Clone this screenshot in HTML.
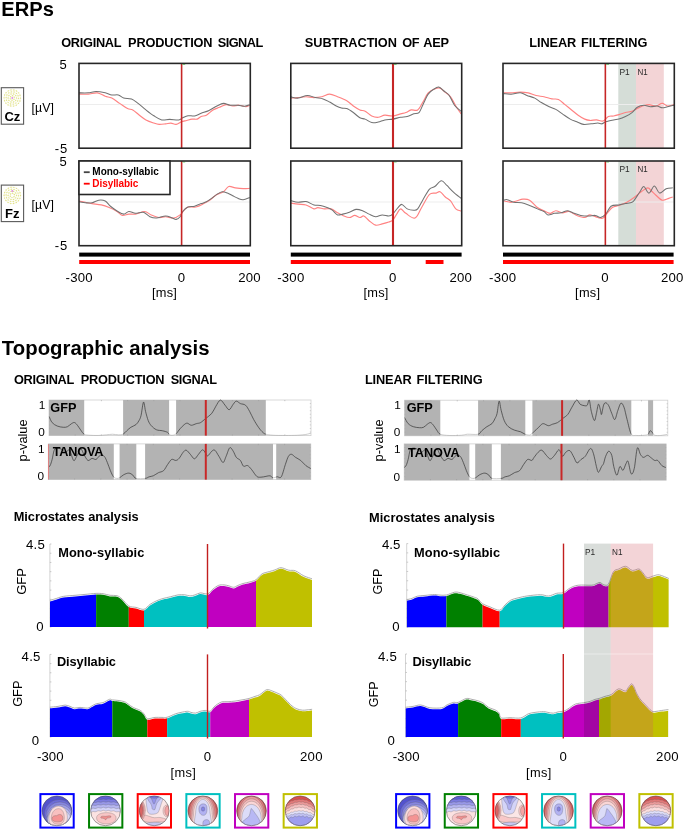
<!DOCTYPE html>
<html><head><meta charset="utf-8"><style>
html,body{margin:0;padding:0;background:#fff;}
body{width:685px;height:830px;overflow:hidden;}
svg{display:block;will-change:transform;}
text{font-family:"Liberation Sans",sans-serif;}
</style></head><body>
<svg width="685" height="830" viewBox="0 0 685 830">
<defs><clipPath id="pvc0"><rect x="49.0" y="398.0" width="35.20" height="39.60"/><rect x="123.1" y="398.0" width="46.00" height="39.60"/><rect x="176.1" y="398.0" width="89.70" height="39.60"/></clipPath><clipPath id="pvc1"><rect x="48.3" y="441.9" width="65.50" height="39.70"/><rect x="119.6" y="441.9" width="16.70" height="39.70"/><rect x="145.1" y="441.9" width="127.90" height="39.70"/><rect x="276.2" y="441.9" width="34.60" height="39.70"/></clipPath><clipPath id="pvc2"><rect x="404.6" y="398.2" width="35.70" height="39.60"/><rect x="478.1" y="398.2" width="47.20" height="39.60"/><rect x="532.4" y="398.2" width="98.90" height="39.60"/><rect x="648.1" y="398.2" width="5.00" height="39.60"/></clipPath><clipPath id="pvc3"><rect x="404.2" y="441.9" width="65.20" height="40.30"/><rect x="475.2" y="441.9" width="16.60" height="40.30"/><rect x="500.9" y="441.9" width="165.30" height="40.30"/></clipPath><clipPath id="msc0"><rect x="49.9" y="539.0" width="46.20" height="93.0"/></clipPath><clipPath id="msc1"><rect x="96.1" y="539.0" width="32.70" height="93.0"/></clipPath><clipPath id="msc2"><rect x="128.8" y="539.0" width="15.20" height="93.0"/></clipPath><clipPath id="msc3"><rect x="144" y="539.0" width="63.70" height="93.0"/></clipPath><clipPath id="msc4"><rect x="207.7" y="539.0" width="48.30" height="93.0"/></clipPath><clipPath id="msc5"><rect x="256" y="539.0" width="56.00" height="93.0"/></clipPath><clipPath id="msc6"><rect x="49.9" y="649.4" width="62.40" height="92.60000000000002"/></clipPath><clipPath id="msc7"><rect x="112.3" y="649.4" width="35.00" height="92.60000000000002"/></clipPath><clipPath id="msc8"><rect x="147.3" y="649.4" width="19.80" height="92.60000000000002"/></clipPath><clipPath id="msc9"><rect x="167.1" y="649.4" width="43.10" height="92.60000000000002"/></clipPath><clipPath id="msc10"><rect x="210.2" y="649.4" width="38.80" height="92.60000000000002"/></clipPath><clipPath id="msc11"><rect x="249" y="649.4" width="63.10" height="92.60000000000002"/></clipPath><clipPath id="msc12"><rect x="406.7" y="538.6" width="39.70" height="93.60000000000002"/></clipPath><clipPath id="msc13"><rect x="446.4" y="538.6" width="36.20" height="93.60000000000002"/></clipPath><clipPath id="msc14"><rect x="482.6" y="538.6" width="17.10" height="93.60000000000002"/></clipPath><clipPath id="msc15"><rect x="499.7" y="538.6" width="63.80" height="93.60000000000002"/></clipPath><clipPath id="msc16"><rect x="563.5" y="538.6" width="45.10" height="93.60000000000002"/></clipPath><clipPath id="msc17"><rect x="608.6" y="538.6" width="60.20" height="93.60000000000002"/></clipPath><clipPath id="msc18"><rect x="405.5" y="649.0" width="52.60" height="93.0"/></clipPath><clipPath id="msc19"><rect x="458.1" y="649.0" width="43.10" height="93.0"/></clipPath><clipPath id="msc20"><rect x="501.2" y="649.0" width="19.60" height="93.0"/></clipPath><clipPath id="msc21"><rect x="520.8" y="649.0" width="43.00" height="93.0"/></clipPath><clipPath id="msc22"><rect x="563.8" y="649.0" width="35.20" height="93.0"/></clipPath><clipPath id="msc23"><rect x="599" y="649.0" width="69.40" height="93.0"/></clipPath><clipPath id="tclip"><circle cx="0" cy="0" r="14.9"/></clipPath></defs>
<rect width="685" height="830" fill="#fff"/>
<text x="1.24" y="16.00" font-size="20.14" font-weight="bold" textLength="52.61" lengthAdjust="spacing" >ERPs</text>
<text x="61.19" y="46.70" font-size="12.75" font-weight="bold" textLength="60.41" lengthAdjust="spacing" >ORIGINAL</text>
<text x="128.04" y="46.70" font-size="12.75" font-weight="bold" textLength="84.52" lengthAdjust="spacing" >PRODUCTION</text>
<text x="217.72" y="46.70" font-size="12.75" font-weight="bold" textLength="45.57" lengthAdjust="spacing" >SIGNAL</text>
<text x="304.82" y="46.70" font-size="12.75" font-weight="bold" textLength="92.04" lengthAdjust="spacing" >SUBTRACTION</text>
<text x="402.19" y="46.70" font-size="12.75" font-weight="bold" textLength="17.37" lengthAdjust="spacing" >OF</text>
<text x="423.18" y="46.70" font-size="12.75" font-weight="bold" textLength="25.75" lengthAdjust="spacing" >AEP</text>
<text x="529.34" y="46.60" font-size="12.75" font-weight="bold" textLength="46.84" lengthAdjust="spacing" >LINEAR</text>
<text x="581.04" y="46.60" font-size="12.75" font-weight="bold" textLength="66.37" lengthAdjust="spacing" >FILTERING</text>
<rect x="618.3" y="63.4" width="17.7" height="84.79999999999998" fill="#d5ddd7"/>
<rect x="636.0" y="63.4" width="27.8" height="84.79999999999998" fill="#f3d4d6"/>
<text transform="translate(619.41,74.70) scale(0.9153,1)" font-size="9.20" fill="#2a2a2a">P1</text>
<text transform="translate(637.44,74.70) scale(0.8715,1)" font-size="9.20" fill="#2a2a2a">N1</text>
<rect x="618.3" y="161.0" width="17.7" height="84.69999999999999" fill="#d5ddd7"/>
<rect x="636.0" y="161.0" width="27.8" height="84.69999999999999" fill="#f3d4d6"/>
<text transform="translate(619.41,171.60) scale(0.9153,1)" font-size="9.20" fill="#2a2a2a">P1</text>
<text transform="translate(637.44,171.60) scale(0.8715,1)" font-size="9.20" fill="#2a2a2a">N1</text>
<line x1="79.0" y1="104.5" x2="250.3" y2="104.5" stroke="#ededed" stroke-width="1"/>
<line x1="79.0" y1="202.0" x2="250.3" y2="202.0" stroke="#ededed" stroke-width="1"/>
<line x1="290.8" y1="104.5" x2="461.7" y2="104.5" stroke="#ededed" stroke-width="1"/>
<line x1="290.8" y1="202.0" x2="461.7" y2="202.0" stroke="#ededed" stroke-width="1"/>
<line x1="503.0" y1="104.5" x2="674.3" y2="104.5" stroke="#ededed" stroke-width="1"/>
<line x1="503.0" y1="202.0" x2="674.3" y2="202.0" stroke="#ededed" stroke-width="1"/>
<path d="M78.94,94.16 C80.47,94.16 85.07,94.38 88.14,94.16 C91.21,93.94 94.49,92.50 97.34,92.85 C100.19,93.20 102.81,95.39 105.22,96.26 C107.63,97.14 109.38,96.92 111.79,98.10 C114.20,99.28 117.04,101.61 119.67,103.36 C122.30,105.11 125.36,107.52 127.55,108.61 C129.74,109.70 130.84,108.84 132.81,109.93 C134.78,111.03 137.19,113.52 139.38,115.18 C141.57,116.84 143.54,118.59 145.95,119.91 C148.36,121.22 151.64,122.32 153.83,123.07 C156.02,123.81 157.12,124.25 159.09,124.38 C161.06,124.51 163.69,124.07 165.66,123.85 C167.63,123.63 169.16,122.98 170.91,123.07 C172.66,123.16 174.42,124.60 176.17,124.38 C177.92,124.16 179.67,122.41 181.42,121.75 C183.17,121.09 184.93,120.88 186.68,120.44 C188.43,120.00 190.18,119.34 191.93,119.12 C193.68,118.90 195.66,119.56 197.19,119.12 C198.72,118.68 199.60,117.16 201.13,116.50 C202.66,115.84 204.42,116.28 206.39,115.18 C208.36,114.09 210.77,111.24 212.96,109.93 C215.15,108.62 217.34,108.18 219.53,107.30 C221.72,106.42 223.90,104.89 226.09,104.67 C228.28,104.45 230.47,105.90 232.66,105.99 C234.85,106.08 237.04,105.07 239.23,105.20 C241.42,105.33 244.05,106.77 245.80,106.77 C247.55,106.77 249.08,105.46 249.74,105.20" fill="none" stroke="#ff8282" stroke-width="1.15"/>
<path d="M78.94,92.85 C80.47,92.85 85.29,93.07 88.14,92.85 C90.99,92.63 93.17,91.53 96.02,91.53 C98.87,91.53 102.59,92.28 105.22,92.85 C107.85,93.42 109.60,94.60 111.79,94.95 C113.98,95.30 116.39,94.43 118.36,94.95 C120.33,95.47 121.42,97.44 123.61,98.10 C125.80,98.76 129.09,98.01 131.50,98.89 C133.91,99.77 135.66,101.52 138.07,103.36 C140.48,105.20 143.32,107.87 145.95,109.93 C148.58,111.99 151.20,114.05 153.83,115.71 C156.46,117.37 159.09,119.30 161.72,119.91 C164.35,120.52 166.75,119.39 169.60,119.39 C172.45,119.39 176.61,120.17 178.80,119.91 C180.99,119.65 181.21,118.51 182.74,117.81 C184.27,117.11 186.02,116.02 187.99,115.71 C189.96,115.40 192.37,116.36 194.56,115.97 C196.75,115.58 198.72,114.26 201.13,113.34 C203.54,112.42 206.38,111.68 209.01,110.45 C211.64,109.22 214.49,107.17 216.90,105.99 C219.31,104.81 221.28,103.49 223.47,103.36 C225.66,103.23 227.63,104.89 230.04,105.20 C232.45,105.51 235.51,105.03 237.92,105.20 C240.33,105.38 242.52,106.34 244.49,106.25 C246.46,106.16 248.87,104.93 249.74,104.67" fill="none" stroke="#727272" stroke-width="1.05"/>
<path d="M78.94,200.99 C80.03,201.21 83.32,201.86 85.51,202.30 C87.70,202.74 89.45,203.17 92.08,203.61 C94.71,204.05 98.43,204.27 101.28,204.93 C104.13,205.59 106.53,206.46 109.16,207.55 C111.79,208.65 114.85,210.19 117.04,211.50 C119.23,212.81 120.33,215.00 122.30,215.44 C124.27,215.88 126.68,214.34 128.87,214.12 C131.06,213.90 132.81,214.56 135.44,214.12 C138.07,213.68 142.01,211.37 144.64,211.50 C147.27,211.63 148.79,213.90 151.20,214.91 C153.61,215.92 156.68,217.23 159.09,217.54 C161.50,217.85 163.25,216.66 165.66,216.75 C168.07,216.84 171.13,218.38 173.54,218.07 C175.95,217.76 178.36,216.22 180.11,214.91 C181.86,213.59 182.74,211.49 184.05,210.18 C185.36,208.87 186.02,207.56 187.99,207.03 C189.96,206.50 193.25,207.60 195.88,207.03 C198.51,206.46 201.35,204.84 203.76,203.61 C206.17,202.38 208.14,201.20 210.33,199.67 C212.52,198.14 214.71,195.73 216.90,194.42 C219.09,193.11 221.50,193.10 223.47,191.79 C225.44,190.47 226.75,187.19 228.72,186.53 C230.69,185.87 232.88,187.50 235.29,187.85 C237.70,188.20 240.77,188.55 243.18,188.64 C245.59,188.73 248.65,188.41 249.74,188.37" fill="none" stroke="#ff8282" stroke-width="1.15"/>
<path d="M78.94,201.77 C80.03,201.94 83.32,202.64 85.51,202.82 C87.70,203.00 89.89,203.26 92.08,202.82 C94.27,202.38 96.46,200.50 98.65,200.20 C100.84,199.89 103.25,199.98 105.22,200.99 C107.19,202.00 108.50,204.58 110.47,206.24 C112.44,207.90 114.85,209.66 117.04,210.97 C119.23,212.28 121.64,214.03 123.61,214.12 C125.58,214.21 126.90,211.63 128.87,211.50 C130.84,211.37 133.03,213.21 135.44,213.34 C137.85,213.47 140.91,211.71 143.32,212.28 C145.73,212.85 147.70,215.78 149.89,216.75 C152.08,217.72 153.83,218.20 156.46,218.07 C159.09,217.94 163.03,215.96 165.66,215.96 C168.29,215.96 170.48,217.50 172.23,218.07 C173.98,218.64 174.86,219.60 176.17,219.38 C177.48,219.16 179.02,218.06 180.11,216.75 C181.21,215.44 181.43,213.12 182.74,211.50 C184.05,209.88 186.02,207.91 187.99,207.03 C189.96,206.15 192.37,206.81 194.56,206.24 C196.75,205.67 199.16,204.36 201.13,203.61 C203.10,202.87 204.64,202.65 206.39,201.77 C208.14,200.90 209.89,199.59 211.64,198.36 C213.39,197.14 215.15,195.51 216.90,194.42 C218.65,193.32 220.40,192.01 222.15,191.79 C223.90,191.57 225.66,192.44 227.41,193.10 C229.16,193.76 230.91,194.85 232.66,195.73 C234.41,196.61 236.17,197.70 237.92,198.36 C239.67,199.02 241.21,199.80 243.18,199.67 C245.15,199.54 248.65,197.92 249.74,197.57" fill="none" stroke="#727272" stroke-width="1.05"/>
<path d="M290.78,98.10 C292.01,98.01 295.60,97.80 298.14,97.58 C300.68,97.36 303.39,96.79 306.02,96.79 C308.65,96.79 311.28,97.58 313.91,97.58 C316.54,97.58 319.16,97.36 321.79,96.79 C324.42,96.22 327.04,94.16 329.67,94.16 C332.30,94.16 334.70,95.70 337.55,96.79 C340.40,97.89 344.12,99.20 346.75,100.73 C349.38,102.26 351.13,104.46 353.32,105.99 C355.51,107.52 357.92,109.06 359.89,109.93 C361.86,110.81 363.18,110.23 365.15,111.24 C367.12,112.25 369.53,114.96 371.72,115.97 C373.91,116.98 376.09,117.41 378.28,117.28 C380.47,117.15 382.44,115.40 384.85,115.18 C387.26,114.96 390.11,116.19 392.74,115.97 C395.37,115.75 398.43,114.44 400.62,113.87 C402.81,113.30 404.13,113.21 405.88,112.55 C407.63,111.89 409.16,110.37 411.13,109.93 C413.10,109.49 415.73,111.25 417.70,109.93 C419.67,108.62 421.21,104.89 422.96,102.04 C424.71,99.19 426.24,95.04 428.21,92.85 C430.18,90.66 432.81,89.70 434.78,88.91 C436.75,88.12 438.29,87.55 440.04,88.12 C441.79,88.69 443.54,90.88 445.29,92.32 C447.04,93.76 448.80,94.51 450.55,96.79 C452.30,99.07 454.05,103.14 455.80,105.99 C457.55,108.84 460.18,112.56 461.06,113.87" fill="none" stroke="#ff8282" stroke-width="1.15"/>
<path d="M290.78,96.79 C292.01,97.01 295.38,98.32 298.14,98.10 C300.90,97.88 304.49,95.56 307.34,95.47 C310.19,95.38 312.59,97.01 315.22,97.58 C317.85,98.15 320.69,98.15 323.10,98.89 C325.51,99.63 327.48,100.86 329.67,102.04 C331.86,103.22 334.27,104.98 336.24,105.99 C338.21,107.00 339.75,107.65 341.50,108.09 C343.25,108.53 344.78,107.87 346.75,108.61 C348.72,109.35 351.13,111.02 353.32,112.55 C355.51,114.08 357.92,116.72 359.89,117.81 C361.86,118.91 363.18,118.33 365.15,119.12 C367.12,119.91 369.53,122.06 371.72,122.54 C373.91,123.02 376.09,122.45 378.28,122.01 C380.47,121.57 382.44,120.39 384.85,119.91 C387.26,119.43 390.11,119.56 392.74,119.12 C395.37,118.68 398.21,117.72 400.62,117.28 C403.03,116.84 405.00,117.07 407.19,116.50 C409.38,115.93 411.79,114.53 413.76,113.87 C415.73,113.21 417.48,114.08 419.01,112.55 C420.54,111.02 421.43,107.73 422.96,104.67 C424.49,101.61 426.46,96.70 428.21,94.16 C429.96,91.62 431.72,90.61 433.47,89.43 C435.22,88.25 436.97,86.81 438.72,87.07 C440.47,87.33 442.23,89.61 443.98,91.01 C445.73,92.41 447.48,93.11 449.23,95.47 C450.98,97.83 452.52,102.57 454.49,105.20 C456.46,107.83 459.97,110.23 461.06,111.24" fill="none" stroke="#727272" stroke-width="1.05"/>
<path d="M290.78,203.09 C292.01,203.26 295.60,203.83 298.14,204.14 C300.68,204.45 303.39,204.14 306.02,204.93 C308.65,205.72 311.94,208.43 313.91,208.87 C315.88,209.31 316.10,207.55 317.85,207.55 C319.60,207.55 322.23,208.65 324.42,208.87 C326.61,209.09 328.80,208.21 330.99,208.87 C333.18,209.53 335.58,211.72 337.55,212.81 C339.52,213.91 340.84,214.65 342.81,215.44 C344.78,216.23 347.41,217.54 349.38,217.54 C351.35,217.54 352.89,215.44 354.64,215.44 C356.39,215.44 358.36,217.45 359.89,217.54 C361.42,217.63 362.30,215.44 363.83,215.96 C365.36,216.49 367.12,219.16 369.09,220.69 C371.06,222.22 373.47,224.63 375.66,225.16 C377.85,225.69 380.04,224.38 382.23,223.85 C384.42,223.32 387.05,222.62 388.80,222.01 C390.55,221.40 391.43,221.48 392.74,220.17 C394.05,218.85 395.37,216.00 396.68,214.12 C397.99,212.24 399.09,209.00 400.62,208.87 C402.15,208.74 403.47,211.81 405.88,213.34 C408.29,214.87 412.44,219.03 415.07,218.07 C417.70,217.10 419.23,211.49 421.64,207.55 C424.05,203.61 427.12,196.83 429.53,194.42 C431.94,192.01 434.34,193.54 436.09,193.10 C437.84,192.66 438.51,191.13 440.04,191.79 C441.57,192.45 443.54,195.51 445.29,197.04 C447.04,198.57 448.80,199.02 450.55,200.99 C452.30,202.96 454.05,207.21 455.80,208.87 C457.55,210.53 460.18,210.62 461.06,210.97" fill="none" stroke="#ff8282" stroke-width="1.15"/>
<path d="M290.78,200.46 C292.01,200.77 295.60,202.12 298.14,202.30 C300.68,202.48 303.39,201.07 306.02,201.51 C308.65,201.95 311.50,204.27 313.91,204.93 C316.32,205.59 318.28,205.01 320.47,205.45 C322.66,205.89 325.07,206.76 327.04,207.55 C329.01,208.34 330.55,208.95 332.30,210.18 C334.05,211.41 335.80,214.25 337.55,214.91 C339.30,215.57 340.84,214.56 342.81,214.12 C344.78,213.68 347.19,213.07 349.38,212.28 C351.57,211.49 353.76,209.65 355.95,209.39 C358.14,209.13 360.33,209.92 362.52,210.71 C364.71,211.50 366.90,213.11 369.09,214.12 C371.28,215.13 373.47,216.62 375.66,216.75 C377.85,216.88 380.04,215.04 382.23,214.91 C384.42,214.78 387.05,216.09 388.80,215.96 C390.55,215.83 391.21,215.52 392.74,214.12 C394.27,212.72 396.46,209.17 397.99,207.55 C399.52,205.93 400.40,204.18 401.93,204.40 C403.46,204.62 405.22,207.91 407.19,208.87 C409.16,209.83 412.01,210.18 413.76,210.18 C415.51,210.18 416.17,210.62 417.70,208.87 C419.23,207.12 420.99,202.95 422.96,199.67 C424.93,196.38 427.56,191.35 429.53,189.16 C431.50,186.97 432.81,187.93 434.78,186.53 C436.75,185.13 439.38,180.97 441.35,180.75 C443.32,180.53 444.64,183.38 446.61,185.22 C448.58,187.06 450.77,189.60 453.18,191.79 C455.59,193.98 459.75,197.27 461.06,198.36" fill="none" stroke="#727272" stroke-width="1.05"/>
<path d="M503.78,92.85 C505.01,92.85 508.38,92.98 511.14,92.85 C513.90,92.72 517.49,92.06 520.34,92.06 C523.19,92.06 525.59,92.28 528.22,92.85 C530.85,93.42 533.47,94.81 536.10,95.47 C538.73,96.13 541.36,96.22 543.99,96.79 C546.62,97.36 549.46,98.45 551.87,98.89 C554.28,99.33 556.25,98.46 558.44,99.42 C560.63,100.38 562.82,102.92 565.01,104.67 C567.20,106.42 569.39,108.18 571.58,109.93 C573.77,111.68 575.96,113.65 578.15,115.18 C580.34,116.71 582.75,118.24 584.72,119.12 C586.69,120.00 588.00,120.31 589.97,120.44 C591.94,120.57 594.35,119.82 596.54,119.91 C598.73,120.00 601.14,121.53 603.11,120.96 C605.08,120.39 606.61,117.33 608.36,116.50 C610.11,115.67 611.87,116.28 613.62,115.97 C615.37,115.66 616.91,115.23 618.88,114.66 C620.85,114.09 623.26,113.12 625.45,112.55 C627.64,111.98 630.04,111.90 632.01,111.24 C633.98,110.58 635.52,109.48 637.27,108.61 C639.02,107.73 640.56,106.65 642.53,105.99 C644.50,105.33 646.90,104.67 649.09,104.67 C651.28,104.67 653.47,106.21 655.66,105.99 C657.85,105.77 660.26,103.36 662.23,103.36 C664.20,103.36 665.52,105.77 667.49,105.99 C669.46,106.21 672.96,104.89 674.06,104.67" fill="none" stroke="#ff8282" stroke-width="1.15"/>
<path d="M503.78,93.64 C505.01,93.73 508.38,94.29 511.14,94.16 C513.90,94.03 517.71,92.63 520.34,92.85 C522.97,93.07 524.50,94.59 526.91,95.47 C529.32,96.34 532.38,96.92 534.79,98.10 C537.20,99.28 538.95,101.12 541.36,102.57 C543.77,104.01 546.83,105.63 549.24,106.77 C551.65,107.91 553.62,108.22 555.81,109.40 C558.00,110.58 559.97,112.25 562.38,113.87 C564.79,115.49 567.85,117.81 570.26,119.12 C572.67,120.43 574.64,120.87 576.83,121.75 C579.02,122.63 580.99,124.03 583.40,124.38 C585.81,124.73 588.87,124.07 591.28,123.85 C593.69,123.63 596.10,123.07 597.85,123.07 C599.60,123.07 600.48,124.07 601.80,123.85 C603.12,123.63 603.77,122.41 605.74,121.75 C607.71,121.09 611.43,120.35 613.62,119.91 C615.81,119.47 616.91,119.69 618.88,119.12 C620.85,118.55 623.26,117.59 625.45,116.50 C627.64,115.41 630.04,114.08 632.01,112.55 C633.98,111.02 635.30,108.52 637.27,107.30 C639.24,106.08 641.65,105.29 643.84,105.20 C646.03,105.11 648.22,106.64 650.41,106.77 C652.60,106.90 655.01,105.81 656.98,105.99 C658.95,106.16 660.48,107.69 662.23,107.82 C663.98,107.95 665.52,107.21 667.49,106.77 C669.46,106.33 672.96,105.46 674.06,105.20" fill="none" stroke="#727272" stroke-width="1.05"/>
<path d="M503.78,200.99 C505.01,201.21 509.04,202.30 511.14,202.30 C513.24,202.30 514.42,201.52 516.39,200.99 C518.36,200.47 520.77,199.28 522.96,199.15 C525.15,199.02 527.12,198.80 529.53,200.20 C531.94,201.60 534.79,205.67 537.42,207.55 C540.05,209.43 543.11,210.53 545.30,211.50 C547.49,212.47 548.80,213.47 550.55,213.34 C552.30,213.21 553.84,210.80 555.81,210.71 C557.78,210.62 560.19,212.68 562.38,212.81 C564.57,212.94 566.54,211.06 568.95,211.50 C571.36,211.94 574.20,214.43 576.83,215.44 C579.46,216.45 582.53,217.63 584.72,217.54 C586.91,217.45 587.78,214.91 589.97,214.91 C592.16,214.91 595.66,217.01 597.85,217.54 C600.04,218.07 601.58,218.77 603.11,218.07 C604.64,217.37 605.52,215.09 607.05,213.34 C608.58,211.59 610.34,208.87 612.31,207.55 C614.28,206.24 616.47,206.32 618.88,205.45 C621.29,204.57 624.13,203.70 626.76,202.30 C629.39,200.90 632.23,198.79 634.64,197.04 C637.05,195.29 639.02,193.32 641.21,191.79 C643.40,190.26 646.03,187.94 647.78,187.85 C649.53,187.76 650.41,190.08 651.72,191.26 C653.03,192.44 653.91,193.45 655.66,194.94 C657.41,196.43 660.04,199.63 662.23,200.20 C664.42,200.77 667.05,198.89 668.80,198.36 C670.55,197.83 672.08,197.26 672.74,197.04" fill="none" stroke="#ff8282" stroke-width="1.15"/>
<path d="M503.78,200.20 C504.35,200.11 505.53,199.32 507.20,199.67 C508.87,200.02 511.36,201.78 513.77,202.30 C516.18,202.83 519.02,202.29 521.65,202.82 C524.28,203.34 526.90,204.44 529.53,205.45 C532.16,206.46 535.01,207.86 537.42,208.87 C539.83,209.88 542.24,210.49 543.99,211.50 C545.74,212.51 546.18,214.60 547.93,214.91 C549.68,215.22 552.31,213.69 554.50,213.34 C556.69,212.99 558.88,213.25 561.07,212.81 C563.26,212.37 565.45,210.62 567.64,210.71 C569.83,210.80 572.01,212.55 574.20,213.34 C576.39,214.13 578.36,215.00 580.77,215.44 C583.18,215.88 586.25,215.96 588.66,215.96 C591.07,215.96 593.26,215.18 595.23,215.44 C597.20,215.70 598.73,217.76 600.48,217.54 C602.23,217.32 603.99,216.00 605.74,214.12 C607.49,212.24 608.80,207.77 610.99,206.24 C613.18,204.71 616.47,205.37 618.88,204.93 C621.29,204.49 623.26,204.05 625.45,203.61 C627.64,203.17 630.48,202.96 632.01,202.30 C633.54,201.64 633.33,201.42 634.64,199.67 C635.95,197.92 638.37,193.98 639.90,191.79 C641.43,189.60 642.31,186.31 643.84,186.53 C645.37,186.75 647.34,193.19 649.09,193.10 C650.84,193.01 652.60,186.01 654.35,186.01 C656.10,186.01 657.64,192.66 659.61,193.10 C661.58,193.54 663.99,189.51 666.18,188.64 C668.37,187.76 671.65,187.98 672.74,187.85" fill="none" stroke="#727272" stroke-width="1.05"/>
<line x1="181.6" y1="63.4" x2="181.6" y2="148.2" stroke="#c62626" stroke-width="1.6"/>
<line x1="182.4" y1="64.5" x2="185.2" y2="64.5" stroke="#7ad87a" stroke-width="0.9"/>
<rect x="79.0" y="63.4" width="171.3" height="84.8" fill="none" stroke="#262626" stroke-width="1.6"/>
<line x1="181.6" y1="161.0" x2="181.6" y2="245.7" stroke="#c62626" stroke-width="1.6"/>
<line x1="182.4" y1="162.1" x2="185.2" y2="162.1" stroke="#7ad87a" stroke-width="0.9"/>
<rect x="79.0" y="161.0" width="171.3" height="84.7" fill="none" stroke="#262626" stroke-width="1.6"/>
<line x1="393.0" y1="63.4" x2="393.0" y2="148.2" stroke="#c62626" stroke-width="2.1"/>
<line x1="393.8" y1="64.5" x2="396.6" y2="64.5" stroke="#7ad87a" stroke-width="0.9"/>
<rect x="290.8" y="63.4" width="170.9" height="84.8" fill="none" stroke="#262626" stroke-width="1.6"/>
<line x1="393.0" y1="161.0" x2="393.0" y2="245.7" stroke="#c62626" stroke-width="2.1"/>
<line x1="393.8" y1="162.1" x2="396.6" y2="162.1" stroke="#7ad87a" stroke-width="0.9"/>
<rect x="290.8" y="161.0" width="170.9" height="84.7" fill="none" stroke="#262626" stroke-width="1.6"/>
<line x1="605.35" y1="63.4" x2="605.35" y2="148.2" stroke="#c62626" stroke-width="1.6"/>
<line x1="606.15" y1="64.5" x2="608.95" y2="64.5" stroke="#7ad87a" stroke-width="0.9"/>
<rect x="503.0" y="63.4" width="171.3" height="84.8" fill="none" stroke="#262626" stroke-width="1.6"/>
<line x1="605.35" y1="161.0" x2="605.35" y2="245.7" stroke="#c62626" stroke-width="1.6"/>
<line x1="606.15" y1="162.1" x2="608.95" y2="162.1" stroke="#7ad87a" stroke-width="0.9"/>
<rect x="503.0" y="161.0" width="171.3" height="84.7" fill="none" stroke="#262626" stroke-width="1.6"/>
<rect x="79" y="161.0" width="91" height="33.5" fill="#fff" stroke="#262626" stroke-width="1.6"/>
<line x1="83.8" y1="172.2" x2="89.7" y2="172.2" stroke="#444" stroke-width="1.8"/>
<line x1="83.8" y1="183.7" x2="89.7" y2="183.7" stroke="#ff0000" stroke-width="1.8"/>
<text x="92.33" y="175.00" font-size="10.00" font-weight="bold" textLength="66.45" lengthAdjust="spacing" >Mono-syllabic</text>
<text x="92.33" y="187.40" font-size="10.00" font-weight="bold" fill="#ff0000" textLength="45.97" lengthAdjust="spacing" >Disyllabic</text>
<text x="59.38" y="68.60" font-size="13.00" >5</text>
<text x="54.71" y="153.10" font-size="13.00" textLength="12.43" lengthAdjust="spacing" >-5</text>
<text x="59.38" y="165.80" font-size="13.00" >5</text>
<text x="54.71" y="250.10" font-size="13.00" textLength="12.43" lengthAdjust="spacing" >-5</text>
<rect x="1.3" y="87.7" width="22.3" height="36.5" fill="#fff" stroke="#5a5a5a" stroke-width="1.1"/><circle cx="12.30" cy="98.00" r="2.2" fill="none" stroke="#f2f2d0" stroke-width="0.6"/><circle cx="12.30" cy="98.00" r="4.2" fill="none" stroke="#f2f2d0" stroke-width="0.6"/><circle cx="12.30" cy="98.00" r="6.2" fill="none" stroke="#f2f2d0" stroke-width="0.6"/><circle cx="12.30" cy="98.00" r="8.2" fill="none" stroke="#f2f2d0" stroke-width="0.6"/><circle cx="14.04" cy="99.35" r="0.7" fill="#e2e28a"/><circle cx="12.00" cy="100.18" r="0.7" fill="#e2e28a"/><circle cx="10.26" cy="98.83" r="0.7" fill="#e2e28a"/><circle cx="10.56" cy="96.65" r="0.7" fill="#e2e28a"/><circle cx="12.60" cy="95.82" r="0.7" fill="#e2e28a"/><circle cx="14.34" cy="97.17" r="0.7" fill="#e2e28a"/><circle cx="13.58" cy="102.00" r="0.7" fill="#e2e28a"/><circle cx="10.99" cy="101.99" r="0.7" fill="#e2e28a"/><circle cx="8.89" cy="100.46" r="0.7" fill="#e2e28a"/><circle cx="8.10" cy="97.99" r="0.7" fill="#e2e28a"/><circle cx="8.91" cy="95.52" r="0.7" fill="#e2e28a"/><circle cx="11.02" cy="94.00" r="0.7" fill="#e2e28a"/><circle cx="13.61" cy="94.01" r="0.7" fill="#e2e28a"/><circle cx="15.71" cy="95.54" r="0.7" fill="#e2e28a"/><circle cx="16.50" cy="98.01" r="0.7" fill="#e2e28a"/><circle cx="15.69" cy="100.48" r="0.7" fill="#e2e28a"/><circle cx="10.53" cy="103.94" r="0.7" fill="#e2e28a"/><circle cx="8.13" cy="102.59" r="0.7" fill="#e2e28a"/><circle cx="6.55" cy="100.32" r="0.7" fill="#e2e28a"/><circle cx="6.11" cy="97.60" r="0.7" fill="#e2e28a"/><circle cx="6.90" cy="94.95" r="0.7" fill="#e2e28a"/><circle cx="8.76" cy="92.91" r="0.7" fill="#e2e28a"/><circle cx="11.31" cy="91.88" r="0.7" fill="#e2e28a"/><circle cx="14.07" cy="92.06" r="0.7" fill="#e2e28a"/><circle cx="16.47" cy="93.41" r="0.7" fill="#e2e28a"/><circle cx="18.05" cy="95.68" r="0.7" fill="#e2e28a"/><circle cx="18.49" cy="98.40" r="0.7" fill="#e2e28a"/><circle cx="17.70" cy="101.05" r="0.7" fill="#e2e28a"/><circle cx="15.84" cy="103.09" r="0.7" fill="#e2e28a"/><circle cx="13.29" cy="104.12" r="0.7" fill="#e2e28a"/><circle cx="5.93" cy="103.17" r="0.7" fill="#e2e28a"/><circle cx="4.55" cy="100.68" r="0.7" fill="#e2e28a"/><circle cx="4.10" cy="97.86" r="0.7" fill="#e2e28a"/><circle cx="4.64" cy="95.07" r="0.7" fill="#e2e28a"/><circle cx="6.11" cy="92.63" r="0.7" fill="#e2e28a"/><circle cx="8.32" cy="90.83" r="0.7" fill="#e2e28a"/><circle cx="11.01" cy="89.90" r="0.7" fill="#e2e28a"/><circle cx="13.86" cy="89.95" r="0.7" fill="#e2e28a"/><circle cx="16.52" cy="90.97" r="0.7" fill="#e2e28a"/><circle cx="18.67" cy="92.83" r="0.7" fill="#e2e28a"/><circle cx="20.05" cy="95.32" r="0.7" fill="#e2e28a"/><circle cx="20.50" cy="98.14" r="0.7" fill="#e2e28a"/><circle cx="19.96" cy="100.93" r="0.7" fill="#e2e28a"/><circle cx="18.49" cy="103.37" r="0.7" fill="#e2e28a"/><circle cx="16.28" cy="105.17" r="0.7" fill="#e2e28a"/><circle cx="13.59" cy="106.10" r="0.7" fill="#e2e28a"/><circle cx="10.74" cy="106.05" r="0.7" fill="#e2e28a"/><circle cx="8.08" cy="105.03" r="0.7" fill="#e2e28a"/><circle cx="12.30" cy="98.00" r="0.95" fill="#e38de8"/><text x="4.42" y="120.70" font-size="13.00" font-weight="bold" >Cz</text>
<rect x="1.3" y="185.1" width="22.3" height="36.5" fill="#fff" stroke="#5a5a5a" stroke-width="1.1"/><circle cx="12.30" cy="195.40" r="2.2" fill="none" stroke="#f2f2d0" stroke-width="0.6"/><circle cx="12.30" cy="195.40" r="4.2" fill="none" stroke="#f2f2d0" stroke-width="0.6"/><circle cx="12.30" cy="195.40" r="6.2" fill="none" stroke="#f2f2d0" stroke-width="0.6"/><circle cx="12.30" cy="195.40" r="8.2" fill="none" stroke="#f2f2d0" stroke-width="0.6"/><circle cx="14.04" cy="196.75" r="0.7" fill="#e2e28a"/><circle cx="12.00" cy="197.58" r="0.7" fill="#e2e28a"/><circle cx="10.26" cy="196.23" r="0.7" fill="#e2e28a"/><circle cx="10.56" cy="194.05" r="0.7" fill="#e2e28a"/><circle cx="12.60" cy="193.22" r="0.7" fill="#e2e28a"/><circle cx="14.34" cy="194.57" r="0.7" fill="#e2e28a"/><circle cx="13.58" cy="199.40" r="0.7" fill="#e2e28a"/><circle cx="10.99" cy="199.39" r="0.7" fill="#e2e28a"/><circle cx="8.89" cy="197.86" r="0.7" fill="#e2e28a"/><circle cx="8.10" cy="195.39" r="0.7" fill="#e2e28a"/><circle cx="8.91" cy="192.92" r="0.7" fill="#e2e28a"/><circle cx="11.02" cy="191.40" r="0.7" fill="#e2e28a"/><circle cx="13.61" cy="191.41" r="0.7" fill="#e2e28a"/><circle cx="15.71" cy="192.94" r="0.7" fill="#e2e28a"/><circle cx="16.50" cy="195.41" r="0.7" fill="#e2e28a"/><circle cx="15.69" cy="197.88" r="0.7" fill="#e2e28a"/><circle cx="10.53" cy="201.34" r="0.7" fill="#e2e28a"/><circle cx="8.13" cy="199.99" r="0.7" fill="#e2e28a"/><circle cx="6.55" cy="197.72" r="0.7" fill="#e2e28a"/><circle cx="6.11" cy="195.00" r="0.7" fill="#e2e28a"/><circle cx="6.90" cy="192.35" r="0.7" fill="#e2e28a"/><circle cx="8.76" cy="190.31" r="0.7" fill="#e2e28a"/><circle cx="11.31" cy="189.28" r="0.7" fill="#e2e28a"/><circle cx="14.07" cy="189.46" r="0.7" fill="#e2e28a"/><circle cx="16.47" cy="190.81" r="0.7" fill="#e2e28a"/><circle cx="18.05" cy="193.08" r="0.7" fill="#e2e28a"/><circle cx="18.49" cy="195.80" r="0.7" fill="#e2e28a"/><circle cx="17.70" cy="198.45" r="0.7" fill="#e2e28a"/><circle cx="15.84" cy="200.49" r="0.7" fill="#e2e28a"/><circle cx="13.29" cy="201.52" r="0.7" fill="#e2e28a"/><circle cx="5.93" cy="200.57" r="0.7" fill="#e2e28a"/><circle cx="4.55" cy="198.08" r="0.7" fill="#e2e28a"/><circle cx="4.10" cy="195.26" r="0.7" fill="#e2e28a"/><circle cx="4.64" cy="192.47" r="0.7" fill="#e2e28a"/><circle cx="6.11" cy="190.03" r="0.7" fill="#e2e28a"/><circle cx="8.32" cy="188.23" r="0.7" fill="#e2e28a"/><circle cx="11.01" cy="187.30" r="0.7" fill="#e2e28a"/><circle cx="13.86" cy="187.35" r="0.7" fill="#e2e28a"/><circle cx="16.52" cy="188.37" r="0.7" fill="#e2e28a"/><circle cx="18.67" cy="190.23" r="0.7" fill="#e2e28a"/><circle cx="20.05" cy="192.72" r="0.7" fill="#e2e28a"/><circle cx="20.50" cy="195.54" r="0.7" fill="#e2e28a"/><circle cx="19.96" cy="198.33" r="0.7" fill="#e2e28a"/><circle cx="18.49" cy="200.77" r="0.7" fill="#e2e28a"/><circle cx="16.28" cy="202.57" r="0.7" fill="#e2e28a"/><circle cx="13.59" cy="203.50" r="0.7" fill="#e2e28a"/><circle cx="10.74" cy="203.45" r="0.7" fill="#e2e28a"/><circle cx="8.08" cy="202.43" r="0.7" fill="#e2e28a"/><circle cx="12.30" cy="191.00" r="0.95" fill="#e38de8"/><text x="4.97" y="218.10" font-size="13.00" font-weight="bold" >Fz</text>
<text x="31.51" y="112.20" font-size="12.30" textLength="22.37" lengthAdjust="spacing" >[µV]</text>
<text x="31.51" y="209.40" font-size="12.30" textLength="22.37" lengthAdjust="spacing" >[µV]</text>
<rect x="79.2" y="252.6" width="170.8" height="4" fill="#000"/>
<rect x="79.2" y="260" width="170.8" height="4" fill="#ff0000"/>
<rect x="290.8" y="252.6" width="170.8" height="4" fill="#000"/>
<rect x="290.8" y="260" width="100.1" height="4" fill="#ff0000"/>
<rect x="425.7" y="260" width="17.8" height="4" fill="#ff0000"/>
<rect x="503" y="252.6" width="170.6" height="4" fill="#000"/>
<rect x="503" y="260" width="170.6" height="4" fill="#ff0000"/>
<text x="65.51" y="281.70" font-size="13.20" textLength="27.11" lengthAdjust="spacing" >-300</text>
<text x="177.77" y="281.70" font-size="13.20" >0</text>
<text x="238.14" y="281.70" font-size="13.20" textLength="22.37" lengthAdjust="spacing" >200</text>
<text x="151.97" y="297.20" font-size="12.80" textLength="24.84" lengthAdjust="spacing" >[ms]</text>
<text x="277.16" y="281.70" font-size="13.20" textLength="27.11" lengthAdjust="spacing" >-300</text>
<text x="389.07" y="281.70" font-size="13.20" >0</text>
<text x="449.49" y="281.70" font-size="13.20" textLength="22.37" lengthAdjust="spacing" >200</text>
<text x="363.57" y="297.20" font-size="12.80" textLength="24.84" lengthAdjust="spacing" >[ms]</text>
<text x="489.01" y="281.70" font-size="13.20" textLength="27.11" lengthAdjust="spacing" >-300</text>
<text x="601.27" y="281.70" font-size="13.20" >0</text>
<text x="660.99" y="281.70" font-size="13.20" textLength="22.37" lengthAdjust="spacing" >200</text>
<text x="575.12" y="297.20" font-size="12.80" textLength="24.84" lengthAdjust="spacing" >[ms]</text>
<text x="1.85" y="354.90" font-size="20.35" font-weight="bold" textLength="207.70" lengthAdjust="spacing" >Topographic analysis</text>
<text x="13.99" y="384.00" font-size="12.75" font-weight="bold" textLength="60.31" lengthAdjust="spacing" >ORIGINAL</text>
<text x="80.64" y="384.00" font-size="12.75" font-weight="bold" textLength="83.92" lengthAdjust="spacing" >PRODUCTION</text>
<text x="170.72" y="384.00" font-size="12.75" font-weight="bold" textLength="46.27" lengthAdjust="spacing" >SIGNAL</text>
<text x="364.94" y="384.00" font-size="12.75" font-weight="bold" textLength="46.74" lengthAdjust="spacing" >LINEAR</text>
<text x="416.54" y="384.00" font-size="12.75" font-weight="bold" textLength="66.17" lengthAdjust="spacing" >FILTERING</text>
<rect x="49.0" y="400.0" width="262.00" height="35.60" fill="#fff" stroke="#cfcfcf" stroke-width="0.8"/><rect x="49.0" y="400.0" width="35.20" height="35.60" fill="#b3b3b3"/><rect x="123.1" y="400.0" width="46.00" height="35.60" fill="#b3b3b3"/><rect x="176.1" y="400.0" width="89.70" height="35.60" fill="#b3b3b3"/><line x1="75.20" y1="400.0" x2="75.20" y2="401.2" stroke="#999" stroke-width="0.5"/><line x1="75.20" y1="435.6" x2="75.20" y2="434.40000000000003" stroke="#999" stroke-width="0.5"/><line x1="311.0" y1="403.56" x2="309.8" y2="403.56" stroke="#aaa" stroke-width="0.5"/><line x1="49.0" y1="403.56" x2="50.2" y2="403.56" stroke="#aaa" stroke-width="0.5"/><line x1="101.40" y1="400.0" x2="101.40" y2="401.2" stroke="#999" stroke-width="0.5"/><line x1="101.40" y1="435.6" x2="101.40" y2="434.40000000000003" stroke="#999" stroke-width="0.5"/><line x1="311.0" y1="407.12" x2="309.8" y2="407.12" stroke="#aaa" stroke-width="0.5"/><line x1="49.0" y1="407.12" x2="50.2" y2="407.12" stroke="#aaa" stroke-width="0.5"/><line x1="127.60" y1="400.0" x2="127.60" y2="401.2" stroke="#999" stroke-width="0.5"/><line x1="127.60" y1="435.6" x2="127.60" y2="434.40000000000003" stroke="#999" stroke-width="0.5"/><line x1="311.0" y1="410.68" x2="309.8" y2="410.68" stroke="#aaa" stroke-width="0.5"/><line x1="49.0" y1="410.68" x2="50.2" y2="410.68" stroke="#aaa" stroke-width="0.5"/><line x1="153.80" y1="400.0" x2="153.80" y2="401.2" stroke="#999" stroke-width="0.5"/><line x1="153.80" y1="435.6" x2="153.80" y2="434.40000000000003" stroke="#999" stroke-width="0.5"/><line x1="311.0" y1="414.24" x2="309.8" y2="414.24" stroke="#aaa" stroke-width="0.5"/><line x1="49.0" y1="414.24" x2="50.2" y2="414.24" stroke="#aaa" stroke-width="0.5"/><line x1="180.00" y1="400.0" x2="180.00" y2="401.2" stroke="#999" stroke-width="0.5"/><line x1="180.00" y1="435.6" x2="180.00" y2="434.40000000000003" stroke="#999" stroke-width="0.5"/><line x1="311.0" y1="417.80" x2="309.8" y2="417.80" stroke="#aaa" stroke-width="0.5"/><line x1="49.0" y1="417.80" x2="50.2" y2="417.80" stroke="#aaa" stroke-width="0.5"/><line x1="206.20" y1="400.0" x2="206.20" y2="401.2" stroke="#999" stroke-width="0.5"/><line x1="206.20" y1="435.6" x2="206.20" y2="434.40000000000003" stroke="#999" stroke-width="0.5"/><line x1="311.0" y1="421.36" x2="309.8" y2="421.36" stroke="#aaa" stroke-width="0.5"/><line x1="49.0" y1="421.36" x2="50.2" y2="421.36" stroke="#aaa" stroke-width="0.5"/><line x1="232.40" y1="400.0" x2="232.40" y2="401.2" stroke="#999" stroke-width="0.5"/><line x1="232.40" y1="435.6" x2="232.40" y2="434.40000000000003" stroke="#999" stroke-width="0.5"/><line x1="311.0" y1="424.92" x2="309.8" y2="424.92" stroke="#aaa" stroke-width="0.5"/><line x1="49.0" y1="424.92" x2="50.2" y2="424.92" stroke="#aaa" stroke-width="0.5"/><line x1="258.60" y1="400.0" x2="258.60" y2="401.2" stroke="#999" stroke-width="0.5"/><line x1="258.60" y1="435.6" x2="258.60" y2="434.40000000000003" stroke="#999" stroke-width="0.5"/><line x1="311.0" y1="428.48" x2="309.8" y2="428.48" stroke="#aaa" stroke-width="0.5"/><line x1="49.0" y1="428.48" x2="50.2" y2="428.48" stroke="#aaa" stroke-width="0.5"/><line x1="284.80" y1="400.0" x2="284.80" y2="401.2" stroke="#999" stroke-width="0.5"/><line x1="284.80" y1="435.6" x2="284.80" y2="434.40000000000003" stroke="#999" stroke-width="0.5"/><line x1="311.0" y1="432.04" x2="309.8" y2="432.04" stroke="#aaa" stroke-width="0.5"/><line x1="49.0" y1="432.04" x2="50.2" y2="432.04" stroke="#aaa" stroke-width="0.5"/><path d="M49.09,416.46 C49.60,417.48 50.79,420.99 52.15,422.59 C53.51,424.19 55.39,425.28 57.26,426.06 C59.13,426.84 61.69,427.19 63.39,427.29 C65.09,427.39 66.12,427.29 67.48,426.68 C68.84,426.07 70.38,424.29 71.57,423.61 C72.76,422.93 73.61,422.25 74.63,422.59 C75.65,422.93 76.68,424.40 77.70,425.66 C78.72,426.92 79.68,428.72 80.77,430.15 C81.86,431.58 82.71,433.39 84.24,434.24 C85.77,435.09 87.64,435.06 89.96,435.26 C92.28,435.46 95.41,435.54 98.14,435.47 C100.87,435.40 103.93,435.06 106.31,434.85 C108.69,434.65 110.40,434.24 112.44,434.24 C114.48,434.24 116.80,434.85 118.57,434.85 C120.34,434.85 121.71,434.92 123.07,434.24 C124.43,433.56 125.45,431.93 126.75,430.77 C128.05,429.61 129.31,428.31 130.84,427.29 C132.37,426.27 134.59,425.75 135.95,424.63 C137.31,423.51 138.16,422.08 139.01,420.55 C139.86,419.02 140.31,418.51 141.06,415.44 C141.81,412.37 142.76,402.83 143.51,402.15 C144.26,401.47 144.77,408.28 145.55,411.35 C146.33,414.42 147.26,418.17 148.21,420.55 C149.16,422.94 149.91,424.13 151.27,425.66 C152.63,427.19 154.51,428.89 156.38,429.74 C158.25,430.59 160.64,430.33 162.51,430.77 C164.38,431.21 166.43,431.72 167.62,432.40 C168.81,433.08 168.82,434.37 169.67,434.85 C170.52,435.33 171.67,435.43 172.73,435.26 C173.79,435.09 174.79,434.92 176.02,433.83 C177.25,432.74 178.75,430.25 180.11,428.72 C181.47,427.19 183.01,425.55 184.20,424.63 C185.39,423.71 186.07,423.10 187.26,423.20 C188.45,423.30 189.82,425.18 191.35,425.25 C192.88,425.32 194.93,424.05 196.46,423.61 C197.99,423.17 199.02,423.44 200.55,422.59 C202.08,421.74 203.79,420.03 205.66,418.50 C207.53,416.97 210.09,415.43 211.79,413.39 C213.49,411.35 214.44,408.45 215.87,406.24 C217.30,404.03 218.84,400.28 220.37,400.11 C221.90,399.94 223.60,403.62 225.07,405.22 C226.53,406.82 227.80,409.88 229.16,409.71 C230.52,409.54 232.06,405.63 233.25,404.20 C234.44,402.77 235.12,401.23 236.31,401.13 C237.50,401.03 238.87,402.90 240.40,403.58 C241.93,404.26 243.98,403.93 245.51,405.22 C247.04,406.52 248.24,408.97 249.60,411.35 C250.96,413.73 252.15,416.79 253.68,419.52 C255.21,422.25 257.26,425.55 258.79,427.70 C260.32,429.85 261.69,431.31 262.88,432.40 C264.07,433.49 264.25,433.76 265.95,434.24 C267.65,434.72 269.87,435.06 273.10,435.26 C276.34,435.46 281.27,435.47 285.36,435.47 C289.45,435.47 294.21,435.43 297.62,435.26 C301.03,435.09 303.59,434.78 305.80,434.44 C308.01,434.10 310.06,433.42 310.91,433.22" fill="none" stroke="#b4b4b4" stroke-width="0.7"/><path d="M49.09,416.46 C49.60,417.48 50.79,420.99 52.15,422.59 C53.51,424.19 55.39,425.28 57.26,426.06 C59.13,426.84 61.69,427.19 63.39,427.29 C65.09,427.39 66.12,427.29 67.48,426.68 C68.84,426.07 70.38,424.29 71.57,423.61 C72.76,422.93 73.61,422.25 74.63,422.59 C75.65,422.93 76.68,424.40 77.70,425.66 C78.72,426.92 79.68,428.72 80.77,430.15 C81.86,431.58 82.71,433.39 84.24,434.24 C85.77,435.09 87.64,435.06 89.96,435.26 C92.28,435.46 95.41,435.54 98.14,435.47 C100.87,435.40 103.93,435.06 106.31,434.85 C108.69,434.65 110.40,434.24 112.44,434.24 C114.48,434.24 116.80,434.85 118.57,434.85 C120.34,434.85 121.71,434.92 123.07,434.24 C124.43,433.56 125.45,431.93 126.75,430.77 C128.05,429.61 129.31,428.31 130.84,427.29 C132.37,426.27 134.59,425.75 135.95,424.63 C137.31,423.51 138.16,422.08 139.01,420.55 C139.86,419.02 140.31,418.51 141.06,415.44 C141.81,412.37 142.76,402.83 143.51,402.15 C144.26,401.47 144.77,408.28 145.55,411.35 C146.33,414.42 147.26,418.17 148.21,420.55 C149.16,422.94 149.91,424.13 151.27,425.66 C152.63,427.19 154.51,428.89 156.38,429.74 C158.25,430.59 160.64,430.33 162.51,430.77 C164.38,431.21 166.43,431.72 167.62,432.40 C168.81,433.08 168.82,434.37 169.67,434.85 C170.52,435.33 171.67,435.43 172.73,435.26 C173.79,435.09 174.79,434.92 176.02,433.83 C177.25,432.74 178.75,430.25 180.11,428.72 C181.47,427.19 183.01,425.55 184.20,424.63 C185.39,423.71 186.07,423.10 187.26,423.20 C188.45,423.30 189.82,425.18 191.35,425.25 C192.88,425.32 194.93,424.05 196.46,423.61 C197.99,423.17 199.02,423.44 200.55,422.59 C202.08,421.74 203.79,420.03 205.66,418.50 C207.53,416.97 210.09,415.43 211.79,413.39 C213.49,411.35 214.44,408.45 215.87,406.24 C217.30,404.03 218.84,400.28 220.37,400.11 C221.90,399.94 223.60,403.62 225.07,405.22 C226.53,406.82 227.80,409.88 229.16,409.71 C230.52,409.54 232.06,405.63 233.25,404.20 C234.44,402.77 235.12,401.23 236.31,401.13 C237.50,401.03 238.87,402.90 240.40,403.58 C241.93,404.26 243.98,403.93 245.51,405.22 C247.04,406.52 248.24,408.97 249.60,411.35 C250.96,413.73 252.15,416.79 253.68,419.52 C255.21,422.25 257.26,425.55 258.79,427.70 C260.32,429.85 261.69,431.31 262.88,432.40 C264.07,433.49 264.25,433.76 265.95,434.24 C267.65,434.72 269.87,435.06 273.10,435.26 C276.34,435.46 281.27,435.47 285.36,435.47 C289.45,435.47 294.21,435.43 297.62,435.26 C301.03,435.09 303.59,434.78 305.80,434.44 C308.01,434.10 310.06,433.42 310.91,433.22" fill="none" stroke="#333" stroke-width="0.7" clip-path="url(#pvc0)"/><line x1="205.8" y1="400.0" x2="205.8" y2="435.6" stroke="#c82828" stroke-width="2.0"/><text x="50.19" y="412.40" font-size="12.70" font-weight="bold" textLength="26.36" lengthAdjust="spacing" >GFP</text><text x="38.72" y="408.90" font-size="11.80" >1</text><text x="38.23" y="435.90" font-size="11.80" >0</text>
<rect x="48.3" y="443.9" width="262.50" height="35.70" fill="#fff" stroke="#cfcfcf" stroke-width="0.8"/><rect x="48.3" y="443.9" width="65.50" height="35.70" fill="#b3b3b3"/><rect x="119.6" y="443.9" width="16.70" height="35.70" fill="#b3b3b3"/><rect x="145.1" y="443.9" width="127.90" height="35.70" fill="#b3b3b3"/><rect x="276.2" y="443.9" width="34.60" height="35.70" fill="#b3b3b3"/><line x1="74.55" y1="443.9" x2="74.55" y2="445.09999999999997" stroke="#999" stroke-width="0.5"/><line x1="74.55" y1="479.6" x2="74.55" y2="478.40000000000003" stroke="#999" stroke-width="0.5"/><line x1="310.8" y1="447.47" x2="309.6" y2="447.47" stroke="#aaa" stroke-width="0.5"/><line x1="48.3" y1="447.47" x2="49.5" y2="447.47" stroke="#aaa" stroke-width="0.5"/><line x1="100.80" y1="443.9" x2="100.80" y2="445.09999999999997" stroke="#999" stroke-width="0.5"/><line x1="100.80" y1="479.6" x2="100.80" y2="478.40000000000003" stroke="#999" stroke-width="0.5"/><line x1="310.8" y1="451.04" x2="309.6" y2="451.04" stroke="#aaa" stroke-width="0.5"/><line x1="48.3" y1="451.04" x2="49.5" y2="451.04" stroke="#aaa" stroke-width="0.5"/><line x1="127.05" y1="443.9" x2="127.05" y2="445.09999999999997" stroke="#999" stroke-width="0.5"/><line x1="127.05" y1="479.6" x2="127.05" y2="478.40000000000003" stroke="#999" stroke-width="0.5"/><line x1="310.8" y1="454.61" x2="309.6" y2="454.61" stroke="#aaa" stroke-width="0.5"/><line x1="48.3" y1="454.61" x2="49.5" y2="454.61" stroke="#aaa" stroke-width="0.5"/><line x1="153.30" y1="443.9" x2="153.30" y2="445.09999999999997" stroke="#999" stroke-width="0.5"/><line x1="153.30" y1="479.6" x2="153.30" y2="478.40000000000003" stroke="#999" stroke-width="0.5"/><line x1="310.8" y1="458.18" x2="309.6" y2="458.18" stroke="#aaa" stroke-width="0.5"/><line x1="48.3" y1="458.18" x2="49.5" y2="458.18" stroke="#aaa" stroke-width="0.5"/><line x1="179.55" y1="443.9" x2="179.55" y2="445.09999999999997" stroke="#999" stroke-width="0.5"/><line x1="179.55" y1="479.6" x2="179.55" y2="478.40000000000003" stroke="#999" stroke-width="0.5"/><line x1="310.8" y1="461.75" x2="309.6" y2="461.75" stroke="#aaa" stroke-width="0.5"/><line x1="48.3" y1="461.75" x2="49.5" y2="461.75" stroke="#aaa" stroke-width="0.5"/><line x1="205.80" y1="443.9" x2="205.80" y2="445.09999999999997" stroke="#999" stroke-width="0.5"/><line x1="205.80" y1="479.6" x2="205.80" y2="478.40000000000003" stroke="#999" stroke-width="0.5"/><line x1="310.8" y1="465.32" x2="309.6" y2="465.32" stroke="#aaa" stroke-width="0.5"/><line x1="48.3" y1="465.32" x2="49.5" y2="465.32" stroke="#aaa" stroke-width="0.5"/><line x1="232.05" y1="443.9" x2="232.05" y2="445.09999999999997" stroke="#999" stroke-width="0.5"/><line x1="232.05" y1="479.6" x2="232.05" y2="478.40000000000003" stroke="#999" stroke-width="0.5"/><line x1="310.8" y1="468.89" x2="309.6" y2="468.89" stroke="#aaa" stroke-width="0.5"/><line x1="48.3" y1="468.89" x2="49.5" y2="468.89" stroke="#aaa" stroke-width="0.5"/><line x1="258.30" y1="443.9" x2="258.30" y2="445.09999999999997" stroke="#999" stroke-width="0.5"/><line x1="258.30" y1="479.6" x2="258.30" y2="478.40000000000003" stroke="#999" stroke-width="0.5"/><line x1="310.8" y1="472.46" x2="309.6" y2="472.46" stroke="#aaa" stroke-width="0.5"/><line x1="48.3" y1="472.46" x2="49.5" y2="472.46" stroke="#aaa" stroke-width="0.5"/><line x1="284.55" y1="443.9" x2="284.55" y2="445.09999999999997" stroke="#999" stroke-width="0.5"/><line x1="284.55" y1="479.6" x2="284.55" y2="478.40000000000003" stroke="#999" stroke-width="0.5"/><line x1="310.8" y1="476.03" x2="309.6" y2="476.03" stroke="#aaa" stroke-width="0.5"/><line x1="48.3" y1="476.03" x2="49.5" y2="476.03" stroke="#aaa" stroke-width="0.5"/><path d="M48.07,467.59 C48.41,467.25 49.43,466.91 50.11,465.55 C50.79,464.19 51.47,461.98 52.15,459.42 C52.83,456.87 53.35,452.10 54.20,450.22 C55.05,448.35 56.07,448.34 57.26,448.17 C58.45,448.00 59.99,448.52 61.35,449.20 C62.71,449.88 64.08,452.09 65.44,452.26 C66.80,452.43 68.16,448.86 69.52,450.22 C70.88,451.58 72.42,459.42 73.61,460.44 C74.80,461.46 75.49,458.22 76.68,456.35 C77.87,454.48 79.58,449.54 80.77,449.20 C81.96,448.86 82.64,452.44 83.83,454.31 C85.02,456.18 86.56,459.76 87.92,460.44 C89.28,461.12 90.65,458.56 92.01,458.39 C93.37,458.22 94.73,459.93 96.09,459.42 C97.45,458.91 98.82,455.84 100.18,455.33 C101.54,454.82 103.08,455.16 104.27,456.35 C105.46,457.54 106.31,460.10 107.33,462.48 C108.35,464.87 109.38,468.28 110.40,470.66 C111.42,473.05 112.45,475.50 113.47,476.79 C114.49,478.08 115.51,478.25 116.53,478.42 C117.55,478.59 118.41,478.42 119.60,477.81 C120.79,477.20 122.15,475.52 123.68,474.74 C125.21,473.96 127.26,473.04 128.79,473.11 C130.32,473.18 131.69,474.26 132.88,475.15 C134.07,476.03 133.91,477.88 135.95,478.42 C137.99,478.97 142.93,478.69 145.14,478.42 C147.35,478.15 147.87,477.23 149.23,476.79 C150.59,476.35 151.79,476.45 153.32,475.77 C154.85,475.09 156.73,473.55 158.43,472.70 C160.13,471.85 162.01,472.02 163.54,470.66 C165.07,469.30 166.26,466.39 167.62,464.52 C168.98,462.65 170.35,460.10 171.71,459.42 C173.07,458.74 174.57,460.61 175.80,460.44 C177.03,460.27 177.86,459.75 179.09,458.39 C180.32,457.03 181.98,453.62 183.17,452.26 C184.36,450.90 185.05,449.88 186.24,450.22 C187.43,450.56 188.97,452.88 190.33,454.31 C191.69,455.74 193.06,458.80 194.42,458.80 C195.78,458.80 197.14,455.81 198.50,454.31 C199.86,452.81 201.40,449.98 202.59,449.81 C203.78,449.64 204.81,452.26 205.66,453.28 C206.51,454.30 206.68,456.28 207.70,455.94 C208.72,455.60 210.60,452.19 211.79,451.24 C212.98,450.29 213.66,449.37 214.85,450.22 C216.04,451.07 217.58,454.31 218.94,456.35 C220.30,458.39 221.84,462.48 223.03,462.48 C224.22,462.48 224.97,458.80 226.09,456.35 C227.21,453.90 228.58,448.62 229.77,447.77 C230.96,446.92 232.16,449.64 233.25,451.24 C234.34,452.84 235.12,455.84 236.31,457.37 C237.50,458.90 239.21,458.98 240.40,460.44 C241.59,461.90 242.28,465.31 243.47,466.16 C244.66,467.01 246.19,464.97 247.55,465.55 C248.91,466.13 250.11,467.82 251.64,469.63 C253.17,471.44 255.22,475.12 256.75,476.38 C258.28,477.64 259.31,477.20 260.84,477.20 C262.37,477.20 264.42,476.62 265.95,476.38 C267.48,476.14 268.84,475.53 270.03,475.77 C271.22,476.01 271.91,477.64 273.10,477.81 C274.29,477.98 275.83,476.96 277.19,476.79 C278.55,476.62 279.91,478.84 281.27,476.79 C282.63,474.75 284.17,467.93 285.36,464.52 C286.55,461.11 287.41,458.05 288.43,456.35 C289.45,454.65 290.30,454.14 291.49,454.31 C292.68,454.48 294.05,456.35 295.58,457.37 C297.11,458.39 298.99,459.08 300.69,460.44 C302.39,461.80 304.10,464.19 305.80,465.55 C307.50,466.91 310.06,468.10 310.91,468.61" fill="none" stroke="#b4b4b4" stroke-width="0.7"/><path d="M48.07,467.59 C48.41,467.25 49.43,466.91 50.11,465.55 C50.79,464.19 51.47,461.98 52.15,459.42 C52.83,456.87 53.35,452.10 54.20,450.22 C55.05,448.35 56.07,448.34 57.26,448.17 C58.45,448.00 59.99,448.52 61.35,449.20 C62.71,449.88 64.08,452.09 65.44,452.26 C66.80,452.43 68.16,448.86 69.52,450.22 C70.88,451.58 72.42,459.42 73.61,460.44 C74.80,461.46 75.49,458.22 76.68,456.35 C77.87,454.48 79.58,449.54 80.77,449.20 C81.96,448.86 82.64,452.44 83.83,454.31 C85.02,456.18 86.56,459.76 87.92,460.44 C89.28,461.12 90.65,458.56 92.01,458.39 C93.37,458.22 94.73,459.93 96.09,459.42 C97.45,458.91 98.82,455.84 100.18,455.33 C101.54,454.82 103.08,455.16 104.27,456.35 C105.46,457.54 106.31,460.10 107.33,462.48 C108.35,464.87 109.38,468.28 110.40,470.66 C111.42,473.05 112.45,475.50 113.47,476.79 C114.49,478.08 115.51,478.25 116.53,478.42 C117.55,478.59 118.41,478.42 119.60,477.81 C120.79,477.20 122.15,475.52 123.68,474.74 C125.21,473.96 127.26,473.04 128.79,473.11 C130.32,473.18 131.69,474.26 132.88,475.15 C134.07,476.03 133.91,477.88 135.95,478.42 C137.99,478.97 142.93,478.69 145.14,478.42 C147.35,478.15 147.87,477.23 149.23,476.79 C150.59,476.35 151.79,476.45 153.32,475.77 C154.85,475.09 156.73,473.55 158.43,472.70 C160.13,471.85 162.01,472.02 163.54,470.66 C165.07,469.30 166.26,466.39 167.62,464.52 C168.98,462.65 170.35,460.10 171.71,459.42 C173.07,458.74 174.57,460.61 175.80,460.44 C177.03,460.27 177.86,459.75 179.09,458.39 C180.32,457.03 181.98,453.62 183.17,452.26 C184.36,450.90 185.05,449.88 186.24,450.22 C187.43,450.56 188.97,452.88 190.33,454.31 C191.69,455.74 193.06,458.80 194.42,458.80 C195.78,458.80 197.14,455.81 198.50,454.31 C199.86,452.81 201.40,449.98 202.59,449.81 C203.78,449.64 204.81,452.26 205.66,453.28 C206.51,454.30 206.68,456.28 207.70,455.94 C208.72,455.60 210.60,452.19 211.79,451.24 C212.98,450.29 213.66,449.37 214.85,450.22 C216.04,451.07 217.58,454.31 218.94,456.35 C220.30,458.39 221.84,462.48 223.03,462.48 C224.22,462.48 224.97,458.80 226.09,456.35 C227.21,453.90 228.58,448.62 229.77,447.77 C230.96,446.92 232.16,449.64 233.25,451.24 C234.34,452.84 235.12,455.84 236.31,457.37 C237.50,458.90 239.21,458.98 240.40,460.44 C241.59,461.90 242.28,465.31 243.47,466.16 C244.66,467.01 246.19,464.97 247.55,465.55 C248.91,466.13 250.11,467.82 251.64,469.63 C253.17,471.44 255.22,475.12 256.75,476.38 C258.28,477.64 259.31,477.20 260.84,477.20 C262.37,477.20 264.42,476.62 265.95,476.38 C267.48,476.14 268.84,475.53 270.03,475.77 C271.22,476.01 271.91,477.64 273.10,477.81 C274.29,477.98 275.83,476.96 277.19,476.79 C278.55,476.62 279.91,478.84 281.27,476.79 C282.63,474.75 284.17,467.93 285.36,464.52 C286.55,461.11 287.41,458.05 288.43,456.35 C289.45,454.65 290.30,454.14 291.49,454.31 C292.68,454.48 294.05,456.35 295.58,457.37 C297.11,458.39 298.99,459.08 300.69,460.44 C302.39,461.80 304.10,464.19 305.80,465.55 C307.50,466.91 310.06,468.10 310.91,468.61" fill="none" stroke="#333" stroke-width="0.7" clip-path="url(#pvc1)"/><line x1="205.8" y1="443.9" x2="205.8" y2="479.6" stroke="#c82828" stroke-width="2.0"/><text x="52.64" y="456.30" font-size="12.70" font-weight="bold" textLength="50.89" lengthAdjust="spacing" >TANOVA</text><text x="38.02" y="452.80" font-size="11.80" >1</text><text x="37.53" y="479.90" font-size="11.80" >0</text>
<rect x="404.6" y="400.2" width="263.20" height="35.60" fill="#fff" stroke="#cfcfcf" stroke-width="0.8"/><rect x="404.6" y="400.2" width="35.70" height="35.60" fill="#b3b3b3"/><rect x="478.1" y="400.2" width="47.20" height="35.60" fill="#b3b3b3"/><rect x="532.4" y="400.2" width="98.90" height="35.60" fill="#b3b3b3"/><rect x="648.1" y="400.2" width="5.00" height="35.60" fill="#b3b3b3"/><line x1="430.92" y1="400.2" x2="430.92" y2="401.4" stroke="#999" stroke-width="0.5"/><line x1="430.92" y1="435.8" x2="430.92" y2="434.6" stroke="#999" stroke-width="0.5"/><line x1="667.8" y1="403.76" x2="666.5999999999999" y2="403.76" stroke="#aaa" stroke-width="0.5"/><line x1="404.6" y1="403.76" x2="405.8" y2="403.76" stroke="#aaa" stroke-width="0.5"/><line x1="457.24" y1="400.2" x2="457.24" y2="401.4" stroke="#999" stroke-width="0.5"/><line x1="457.24" y1="435.8" x2="457.24" y2="434.6" stroke="#999" stroke-width="0.5"/><line x1="667.8" y1="407.32" x2="666.5999999999999" y2="407.32" stroke="#aaa" stroke-width="0.5"/><line x1="404.6" y1="407.32" x2="405.8" y2="407.32" stroke="#aaa" stroke-width="0.5"/><line x1="483.56" y1="400.2" x2="483.56" y2="401.4" stroke="#999" stroke-width="0.5"/><line x1="483.56" y1="435.8" x2="483.56" y2="434.6" stroke="#999" stroke-width="0.5"/><line x1="667.8" y1="410.88" x2="666.5999999999999" y2="410.88" stroke="#aaa" stroke-width="0.5"/><line x1="404.6" y1="410.88" x2="405.8" y2="410.88" stroke="#aaa" stroke-width="0.5"/><line x1="509.88" y1="400.2" x2="509.88" y2="401.4" stroke="#999" stroke-width="0.5"/><line x1="509.88" y1="435.8" x2="509.88" y2="434.6" stroke="#999" stroke-width="0.5"/><line x1="667.8" y1="414.44" x2="666.5999999999999" y2="414.44" stroke="#aaa" stroke-width="0.5"/><line x1="404.6" y1="414.44" x2="405.8" y2="414.44" stroke="#aaa" stroke-width="0.5"/><line x1="536.20" y1="400.2" x2="536.20" y2="401.4" stroke="#999" stroke-width="0.5"/><line x1="536.20" y1="435.8" x2="536.20" y2="434.6" stroke="#999" stroke-width="0.5"/><line x1="667.8" y1="418.00" x2="666.5999999999999" y2="418.00" stroke="#aaa" stroke-width="0.5"/><line x1="404.6" y1="418.00" x2="405.8" y2="418.00" stroke="#aaa" stroke-width="0.5"/><line x1="562.52" y1="400.2" x2="562.52" y2="401.4" stroke="#999" stroke-width="0.5"/><line x1="562.52" y1="435.8" x2="562.52" y2="434.6" stroke="#999" stroke-width="0.5"/><line x1="667.8" y1="421.56" x2="666.5999999999999" y2="421.56" stroke="#aaa" stroke-width="0.5"/><line x1="404.6" y1="421.56" x2="405.8" y2="421.56" stroke="#aaa" stroke-width="0.5"/><line x1="588.84" y1="400.2" x2="588.84" y2="401.4" stroke="#999" stroke-width="0.5"/><line x1="588.84" y1="435.8" x2="588.84" y2="434.6" stroke="#999" stroke-width="0.5"/><line x1="667.8" y1="425.12" x2="666.5999999999999" y2="425.12" stroke="#aaa" stroke-width="0.5"/><line x1="404.6" y1="425.12" x2="405.8" y2="425.12" stroke="#aaa" stroke-width="0.5"/><line x1="615.16" y1="400.2" x2="615.16" y2="401.4" stroke="#999" stroke-width="0.5"/><line x1="615.16" y1="435.8" x2="615.16" y2="434.6" stroke="#999" stroke-width="0.5"/><line x1="667.8" y1="428.68" x2="666.5999999999999" y2="428.68" stroke="#aaa" stroke-width="0.5"/><line x1="404.6" y1="428.68" x2="405.8" y2="428.68" stroke="#aaa" stroke-width="0.5"/><line x1="641.48" y1="400.2" x2="641.48" y2="401.4" stroke="#999" stroke-width="0.5"/><line x1="641.48" y1="435.8" x2="641.48" y2="434.6" stroke="#999" stroke-width="0.5"/><line x1="667.8" y1="432.24" x2="666.5999999999999" y2="432.24" stroke="#aaa" stroke-width="0.5"/><line x1="404.6" y1="432.24" x2="405.8" y2="432.24" stroke="#aaa" stroke-width="0.5"/><path d="M404.50,417.48 C405.11,418.50 406.71,422.08 408.17,423.61 C409.63,425.14 411.40,426.00 413.28,426.68 C415.15,427.36 417.72,427.60 419.42,427.70 C421.12,427.80 422.14,427.90 423.50,427.29 C424.86,426.68 426.40,424.80 427.59,424.02 C428.78,423.24 429.64,422.32 430.66,422.59 C431.68,422.86 432.70,424.40 433.72,425.66 C434.74,426.92 435.70,428.72 436.79,430.15 C437.88,431.58 438.22,433.35 440.26,434.24 C442.30,435.13 445.54,435.30 449.05,435.47 C452.56,435.64 458.25,435.46 461.31,435.26 C464.38,435.06 464.65,434.41 467.44,434.24 C470.23,434.07 475.69,434.82 478.07,434.24 C480.45,433.66 480.28,432.03 481.75,430.77 C483.22,429.51 485.16,427.87 486.86,426.68 C488.56,425.49 490.61,424.97 491.97,423.61 C493.33,422.25 494.18,420.20 495.03,418.50 C495.88,416.80 496.40,416.28 497.08,413.39 C497.76,410.50 498.44,401.64 499.12,401.13 C499.80,400.62 500.31,407.09 501.16,410.33 C502.01,413.57 503.04,417.82 504.23,420.55 C505.42,423.28 506.62,425.08 508.32,426.68 C510.02,428.28 512.41,429.30 514.45,430.15 C516.49,431.00 518.81,431.11 520.58,431.79 C522.35,432.47 523.72,433.69 525.08,434.24 C526.44,434.79 527.81,435.03 528.76,435.06 C529.71,435.09 529.57,435.33 530.80,434.44 C532.03,433.55 534.56,431.20 536.13,429.74 C537.70,428.28 539.03,426.68 540.22,425.66 C541.41,424.64 541.92,423.61 543.28,423.61 C544.64,423.61 546.86,425.56 548.39,425.66 C549.92,425.76 550.95,424.74 552.48,424.23 C554.01,423.72 555.89,423.54 557.59,422.59 C559.29,421.63 561.00,419.86 562.70,418.50 C564.40,417.14 566.28,416.29 567.81,414.42 C569.34,412.55 570.43,409.64 571.90,407.26 C573.37,404.88 575.24,400.62 576.60,400.11 C577.96,399.60 578.81,403.28 580.07,404.20 C581.33,405.12 582.97,405.46 584.16,405.63 C585.35,405.80 586.37,406.14 587.22,405.22 C588.07,404.30 588.59,399.09 589.27,400.11 C589.95,401.13 590.46,407.94 591.31,411.35 C592.16,414.76 593.53,420.21 594.38,420.55 C595.23,420.89 595.74,416.12 596.42,413.39 C597.10,410.66 597.79,404.71 598.47,404.20 C599.15,403.69 600.00,408.63 600.51,410.33 C601.02,412.03 601.02,415.27 601.53,414.42 C602.04,413.57 602.89,407.16 603.57,405.22 C604.25,403.28 604.77,402.70 605.62,402.77 C606.47,402.84 607.66,403.86 608.68,405.63 C609.70,407.40 610.73,411.07 611.75,413.39 C612.77,415.70 613.80,420.03 614.82,419.52 C615.84,419.01 616.86,413.05 617.88,410.33 C618.90,407.61 619.93,403.68 620.95,403.17 C621.97,402.66 622.99,404.53 624.01,407.26 C625.03,409.99 625.89,415.09 627.08,419.52 C628.27,423.95 629.63,431.17 631.16,433.83 C632.69,436.49 634.05,435.23 636.27,435.47 C638.49,435.71 642.47,435.46 644.45,435.26 C646.43,435.06 647.18,434.99 648.13,434.24 C649.08,433.49 649.42,431.01 650.17,430.77 C650.92,430.53 651.87,432.06 652.62,432.81 C653.37,433.56 653.31,434.82 654.67,435.26 C656.03,435.70 658.76,435.61 660.80,435.47 C662.84,435.33 665.91,434.61 666.93,434.44" fill="none" stroke="#b4b4b4" stroke-width="0.7"/><path d="M404.50,417.48 C405.11,418.50 406.71,422.08 408.17,423.61 C409.63,425.14 411.40,426.00 413.28,426.68 C415.15,427.36 417.72,427.60 419.42,427.70 C421.12,427.80 422.14,427.90 423.50,427.29 C424.86,426.68 426.40,424.80 427.59,424.02 C428.78,423.24 429.64,422.32 430.66,422.59 C431.68,422.86 432.70,424.40 433.72,425.66 C434.74,426.92 435.70,428.72 436.79,430.15 C437.88,431.58 438.22,433.35 440.26,434.24 C442.30,435.13 445.54,435.30 449.05,435.47 C452.56,435.64 458.25,435.46 461.31,435.26 C464.38,435.06 464.65,434.41 467.44,434.24 C470.23,434.07 475.69,434.82 478.07,434.24 C480.45,433.66 480.28,432.03 481.75,430.77 C483.22,429.51 485.16,427.87 486.86,426.68 C488.56,425.49 490.61,424.97 491.97,423.61 C493.33,422.25 494.18,420.20 495.03,418.50 C495.88,416.80 496.40,416.28 497.08,413.39 C497.76,410.50 498.44,401.64 499.12,401.13 C499.80,400.62 500.31,407.09 501.16,410.33 C502.01,413.57 503.04,417.82 504.23,420.55 C505.42,423.28 506.62,425.08 508.32,426.68 C510.02,428.28 512.41,429.30 514.45,430.15 C516.49,431.00 518.81,431.11 520.58,431.79 C522.35,432.47 523.72,433.69 525.08,434.24 C526.44,434.79 527.81,435.03 528.76,435.06 C529.71,435.09 529.57,435.33 530.80,434.44 C532.03,433.55 534.56,431.20 536.13,429.74 C537.70,428.28 539.03,426.68 540.22,425.66 C541.41,424.64 541.92,423.61 543.28,423.61 C544.64,423.61 546.86,425.56 548.39,425.66 C549.92,425.76 550.95,424.74 552.48,424.23 C554.01,423.72 555.89,423.54 557.59,422.59 C559.29,421.63 561.00,419.86 562.70,418.50 C564.40,417.14 566.28,416.29 567.81,414.42 C569.34,412.55 570.43,409.64 571.90,407.26 C573.37,404.88 575.24,400.62 576.60,400.11 C577.96,399.60 578.81,403.28 580.07,404.20 C581.33,405.12 582.97,405.46 584.16,405.63 C585.35,405.80 586.37,406.14 587.22,405.22 C588.07,404.30 588.59,399.09 589.27,400.11 C589.95,401.13 590.46,407.94 591.31,411.35 C592.16,414.76 593.53,420.21 594.38,420.55 C595.23,420.89 595.74,416.12 596.42,413.39 C597.10,410.66 597.79,404.71 598.47,404.20 C599.15,403.69 600.00,408.63 600.51,410.33 C601.02,412.03 601.02,415.27 601.53,414.42 C602.04,413.57 602.89,407.16 603.57,405.22 C604.25,403.28 604.77,402.70 605.62,402.77 C606.47,402.84 607.66,403.86 608.68,405.63 C609.70,407.40 610.73,411.07 611.75,413.39 C612.77,415.70 613.80,420.03 614.82,419.52 C615.84,419.01 616.86,413.05 617.88,410.33 C618.90,407.61 619.93,403.68 620.95,403.17 C621.97,402.66 622.99,404.53 624.01,407.26 C625.03,409.99 625.89,415.09 627.08,419.52 C628.27,423.95 629.63,431.17 631.16,433.83 C632.69,436.49 634.05,435.23 636.27,435.47 C638.49,435.71 642.47,435.46 644.45,435.26 C646.43,435.06 647.18,434.99 648.13,434.24 C649.08,433.49 649.42,431.01 650.17,430.77 C650.92,430.53 651.87,432.06 652.62,432.81 C653.37,433.56 653.31,434.82 654.67,435.26 C656.03,435.70 658.76,435.61 660.80,435.47 C662.84,435.33 665.91,434.61 666.93,434.44" fill="none" stroke="#333" stroke-width="0.7" clip-path="url(#pvc2)"/><line x1="562.1" y1="400.2" x2="562.1" y2="435.8" stroke="#c82828" stroke-width="2.0"/><text x="406.69" y="412.40" font-size="12.70" font-weight="bold" textLength="26.06" lengthAdjust="spacing" >GFP</text><text x="394.32" y="409.10" font-size="11.80" >1</text><text x="393.83" y="436.10" font-size="11.80" >0</text>
<rect x="404.2" y="443.9" width="262.00" height="36.30" fill="#fff" stroke="#cfcfcf" stroke-width="0.8"/><rect x="404.2" y="443.9" width="65.20" height="36.30" fill="#b3b3b3"/><rect x="475.2" y="443.9" width="16.60" height="36.30" fill="#b3b3b3"/><rect x="500.9" y="443.9" width="165.30" height="36.30" fill="#b3b3b3"/><line x1="430.40" y1="443.9" x2="430.40" y2="445.09999999999997" stroke="#999" stroke-width="0.5"/><line x1="430.40" y1="480.2" x2="430.40" y2="479.0" stroke="#999" stroke-width="0.5"/><line x1="666.2" y1="447.53" x2="665.0" y2="447.53" stroke="#aaa" stroke-width="0.5"/><line x1="404.2" y1="447.53" x2="405.4" y2="447.53" stroke="#aaa" stroke-width="0.5"/><line x1="456.60" y1="443.9" x2="456.60" y2="445.09999999999997" stroke="#999" stroke-width="0.5"/><line x1="456.60" y1="480.2" x2="456.60" y2="479.0" stroke="#999" stroke-width="0.5"/><line x1="666.2" y1="451.16" x2="665.0" y2="451.16" stroke="#aaa" stroke-width="0.5"/><line x1="404.2" y1="451.16" x2="405.4" y2="451.16" stroke="#aaa" stroke-width="0.5"/><line x1="482.80" y1="443.9" x2="482.80" y2="445.09999999999997" stroke="#999" stroke-width="0.5"/><line x1="482.80" y1="480.2" x2="482.80" y2="479.0" stroke="#999" stroke-width="0.5"/><line x1="666.2" y1="454.79" x2="665.0" y2="454.79" stroke="#aaa" stroke-width="0.5"/><line x1="404.2" y1="454.79" x2="405.4" y2="454.79" stroke="#aaa" stroke-width="0.5"/><line x1="509.00" y1="443.9" x2="509.00" y2="445.09999999999997" stroke="#999" stroke-width="0.5"/><line x1="509.00" y1="480.2" x2="509.00" y2="479.0" stroke="#999" stroke-width="0.5"/><line x1="666.2" y1="458.42" x2="665.0" y2="458.42" stroke="#aaa" stroke-width="0.5"/><line x1="404.2" y1="458.42" x2="405.4" y2="458.42" stroke="#aaa" stroke-width="0.5"/><line x1="535.20" y1="443.9" x2="535.20" y2="445.09999999999997" stroke="#999" stroke-width="0.5"/><line x1="535.20" y1="480.2" x2="535.20" y2="479.0" stroke="#999" stroke-width="0.5"/><line x1="666.2" y1="462.05" x2="665.0" y2="462.05" stroke="#aaa" stroke-width="0.5"/><line x1="404.2" y1="462.05" x2="405.4" y2="462.05" stroke="#aaa" stroke-width="0.5"/><line x1="561.40" y1="443.9" x2="561.40" y2="445.09999999999997" stroke="#999" stroke-width="0.5"/><line x1="561.40" y1="480.2" x2="561.40" y2="479.0" stroke="#999" stroke-width="0.5"/><line x1="666.2" y1="465.68" x2="665.0" y2="465.68" stroke="#aaa" stroke-width="0.5"/><line x1="404.2" y1="465.68" x2="405.4" y2="465.68" stroke="#aaa" stroke-width="0.5"/><line x1="587.60" y1="443.9" x2="587.60" y2="445.09999999999997" stroke="#999" stroke-width="0.5"/><line x1="587.60" y1="480.2" x2="587.60" y2="479.0" stroke="#999" stroke-width="0.5"/><line x1="666.2" y1="469.31" x2="665.0" y2="469.31" stroke="#aaa" stroke-width="0.5"/><line x1="404.2" y1="469.31" x2="405.4" y2="469.31" stroke="#aaa" stroke-width="0.5"/><line x1="613.80" y1="443.9" x2="613.80" y2="445.09999999999997" stroke="#999" stroke-width="0.5"/><line x1="613.80" y1="480.2" x2="613.80" y2="479.0" stroke="#999" stroke-width="0.5"/><line x1="666.2" y1="472.94" x2="665.0" y2="472.94" stroke="#aaa" stroke-width="0.5"/><line x1="404.2" y1="472.94" x2="405.4" y2="472.94" stroke="#aaa" stroke-width="0.5"/><line x1="640.00" y1="443.9" x2="640.00" y2="445.09999999999997" stroke="#999" stroke-width="0.5"/><line x1="640.00" y1="480.2" x2="640.00" y2="479.0" stroke="#999" stroke-width="0.5"/><line x1="666.2" y1="476.57" x2="665.0" y2="476.57" stroke="#aaa" stroke-width="0.5"/><line x1="404.2" y1="476.57" x2="405.4" y2="476.57" stroke="#aaa" stroke-width="0.5"/><path d="M404.07,467.59 C404.41,467.25 405.43,466.91 406.11,465.55 C406.79,464.19 407.47,461.98 408.15,459.42 C408.83,456.87 409.35,452.10 410.20,450.22 C411.05,448.35 412.07,448.34 413.26,448.17 C414.45,448.00 415.99,448.52 417.35,449.20 C418.71,449.88 420.08,452.09 421.44,452.26 C422.80,452.43 424.16,448.86 425.52,450.22 C426.88,451.58 428.42,459.42 429.61,460.44 C430.80,461.46 431.49,458.22 432.68,456.35 C433.87,454.48 435.58,449.54 436.77,449.20 C437.96,448.86 438.64,452.44 439.83,454.31 C441.02,456.18 442.56,459.76 443.92,460.44 C445.28,461.12 446.65,458.56 448.01,458.39 C449.37,458.22 450.73,459.93 452.09,459.42 C453.45,458.91 454.82,455.84 456.18,455.33 C457.54,454.82 459.08,455.16 460.27,456.35 C461.46,457.54 462.31,460.10 463.33,462.48 C464.35,464.87 465.38,468.28 466.40,470.66 C467.42,473.05 468.45,475.50 469.47,476.79 C470.49,478.08 471.51,478.25 472.53,478.42 C473.55,478.59 474.41,478.42 475.60,477.81 C476.79,477.20 478.15,475.52 479.68,474.74 C481.21,473.96 483.26,473.04 484.79,473.11 C486.32,473.18 487.69,474.26 488.88,475.15 C490.07,476.03 489.91,477.88 491.95,478.42 C493.99,478.97 498.93,478.69 501.14,478.42 C503.35,478.15 503.87,477.23 505.23,476.79 C506.59,476.35 507.79,476.45 509.32,475.77 C510.85,475.09 512.73,473.55 514.43,472.70 C516.13,471.85 518.01,472.02 519.54,470.66 C521.07,469.30 522.26,466.39 523.62,464.52 C524.98,462.65 526.35,460.10 527.71,459.42 C529.07,458.74 530.74,460.78 531.80,460.44 C532.86,460.10 533.03,458.73 534.09,457.37 C535.15,456.01 536.88,453.45 538.17,452.26 C539.46,451.07 540.49,449.71 541.85,450.22 C543.21,450.73 544.92,453.87 546.35,455.33 C547.78,456.79 549.08,459.01 550.44,459.01 C551.80,459.01 553.16,456.86 554.52,455.33 C555.88,453.80 557.59,450.32 558.61,449.81 C559.63,449.30 559.98,451.17 560.66,452.26 C561.34,453.35 561.85,456.35 562.70,456.35 C563.55,456.35 564.58,453.21 565.77,452.26 C566.96,451.31 568.49,449.78 569.85,450.63 C571.21,451.48 572.75,455.33 573.94,457.37 C575.13,459.41 575.82,462.55 577.01,462.89 C578.20,463.23 579.73,460.51 581.09,459.42 C582.45,458.33 583.65,458.16 585.18,456.35 C586.71,454.54 588.93,449.09 590.29,448.58 C591.65,448.07 592.34,450.28 593.36,453.28 C594.38,456.28 595.57,463.40 596.42,466.57 C597.27,469.74 597.62,472.29 598.47,472.29 C599.32,472.29 600.68,468.03 601.53,466.57 C602.38,465.11 602.89,465.20 603.57,463.50 C604.25,461.80 604.77,458.39 605.62,456.35 C606.47,454.31 607.66,451.41 608.68,451.24 C609.70,451.07 610.90,452.77 611.75,455.33 C612.60,457.88 612.94,463.27 613.79,466.57 C614.64,469.87 615.84,475.15 616.86,475.15 C617.88,475.15 618.90,467.39 619.92,466.57 C620.94,465.75 621.97,470.76 622.99,470.25 C624.01,469.74 625.21,464.97 626.06,463.50 C626.91,462.03 627.25,459.76 628.10,461.46 C628.95,463.16 630.14,472.53 631.16,473.72 C632.18,474.91 633.21,472.87 634.23,468.61 C635.25,464.35 636.28,450.55 637.30,448.17 C638.32,445.79 639.34,452.78 640.36,454.31 C641.38,455.84 642.24,457.20 643.43,457.37 C644.62,457.54 646.32,455.33 647.51,455.33 C648.70,455.33 649.39,456.52 650.58,457.37 C651.77,458.22 653.48,459.93 654.67,460.44 C655.86,460.95 656.54,459.59 657.73,460.44 C658.92,461.29 660.46,464.36 661.82,465.55 C663.18,466.74 665.23,467.25 665.91,467.59" fill="none" stroke="#b4b4b4" stroke-width="0.7"/><path d="M404.07,467.59 C404.41,467.25 405.43,466.91 406.11,465.55 C406.79,464.19 407.47,461.98 408.15,459.42 C408.83,456.87 409.35,452.10 410.20,450.22 C411.05,448.35 412.07,448.34 413.26,448.17 C414.45,448.00 415.99,448.52 417.35,449.20 C418.71,449.88 420.08,452.09 421.44,452.26 C422.80,452.43 424.16,448.86 425.52,450.22 C426.88,451.58 428.42,459.42 429.61,460.44 C430.80,461.46 431.49,458.22 432.68,456.35 C433.87,454.48 435.58,449.54 436.77,449.20 C437.96,448.86 438.64,452.44 439.83,454.31 C441.02,456.18 442.56,459.76 443.92,460.44 C445.28,461.12 446.65,458.56 448.01,458.39 C449.37,458.22 450.73,459.93 452.09,459.42 C453.45,458.91 454.82,455.84 456.18,455.33 C457.54,454.82 459.08,455.16 460.27,456.35 C461.46,457.54 462.31,460.10 463.33,462.48 C464.35,464.87 465.38,468.28 466.40,470.66 C467.42,473.05 468.45,475.50 469.47,476.79 C470.49,478.08 471.51,478.25 472.53,478.42 C473.55,478.59 474.41,478.42 475.60,477.81 C476.79,477.20 478.15,475.52 479.68,474.74 C481.21,473.96 483.26,473.04 484.79,473.11 C486.32,473.18 487.69,474.26 488.88,475.15 C490.07,476.03 489.91,477.88 491.95,478.42 C493.99,478.97 498.93,478.69 501.14,478.42 C503.35,478.15 503.87,477.23 505.23,476.79 C506.59,476.35 507.79,476.45 509.32,475.77 C510.85,475.09 512.73,473.55 514.43,472.70 C516.13,471.85 518.01,472.02 519.54,470.66 C521.07,469.30 522.26,466.39 523.62,464.52 C524.98,462.65 526.35,460.10 527.71,459.42 C529.07,458.74 530.74,460.78 531.80,460.44 C532.86,460.10 533.03,458.73 534.09,457.37 C535.15,456.01 536.88,453.45 538.17,452.26 C539.46,451.07 540.49,449.71 541.85,450.22 C543.21,450.73 544.92,453.87 546.35,455.33 C547.78,456.79 549.08,459.01 550.44,459.01 C551.80,459.01 553.16,456.86 554.52,455.33 C555.88,453.80 557.59,450.32 558.61,449.81 C559.63,449.30 559.98,451.17 560.66,452.26 C561.34,453.35 561.85,456.35 562.70,456.35 C563.55,456.35 564.58,453.21 565.77,452.26 C566.96,451.31 568.49,449.78 569.85,450.63 C571.21,451.48 572.75,455.33 573.94,457.37 C575.13,459.41 575.82,462.55 577.01,462.89 C578.20,463.23 579.73,460.51 581.09,459.42 C582.45,458.33 583.65,458.16 585.18,456.35 C586.71,454.54 588.93,449.09 590.29,448.58 C591.65,448.07 592.34,450.28 593.36,453.28 C594.38,456.28 595.57,463.40 596.42,466.57 C597.27,469.74 597.62,472.29 598.47,472.29 C599.32,472.29 600.68,468.03 601.53,466.57 C602.38,465.11 602.89,465.20 603.57,463.50 C604.25,461.80 604.77,458.39 605.62,456.35 C606.47,454.31 607.66,451.41 608.68,451.24 C609.70,451.07 610.90,452.77 611.75,455.33 C612.60,457.88 612.94,463.27 613.79,466.57 C614.64,469.87 615.84,475.15 616.86,475.15 C617.88,475.15 618.90,467.39 619.92,466.57 C620.94,465.75 621.97,470.76 622.99,470.25 C624.01,469.74 625.21,464.97 626.06,463.50 C626.91,462.03 627.25,459.76 628.10,461.46 C628.95,463.16 630.14,472.53 631.16,473.72 C632.18,474.91 633.21,472.87 634.23,468.61 C635.25,464.35 636.28,450.55 637.30,448.17 C638.32,445.79 639.34,452.78 640.36,454.31 C641.38,455.84 642.24,457.20 643.43,457.37 C644.62,457.54 646.32,455.33 647.51,455.33 C648.70,455.33 649.39,456.52 650.58,457.37 C651.77,458.22 653.48,459.93 654.67,460.44 C655.86,460.95 656.54,459.59 657.73,460.44 C658.92,461.29 660.46,464.36 661.82,465.55 C663.18,466.74 665.23,467.25 665.91,467.59" fill="none" stroke="#333" stroke-width="0.7" clip-path="url(#pvc3)"/><line x1="561.5" y1="443.9" x2="561.5" y2="480.2" stroke="#c82828" stroke-width="2.0"/><text x="408.04" y="456.50" font-size="12.70" font-weight="bold" textLength="51.59" lengthAdjust="spacing" >TANOVA</text><text x="393.92" y="452.80" font-size="11.80" >1</text><text x="393.43" y="480.50" font-size="11.80" >0</text>
<line x1="48.5" y1="444.2" x2="48.5" y2="479.4" stroke="#e07a7a" stroke-width="0.9"/>
<text transform="translate(27.17,461.43) rotate(-90)" font-size="12.84">p-value</text>
<text transform="translate(382.52,461.43) rotate(-90)" font-size="12.84">p-value</text>
<text x="13.64" y="521.20" font-size="12.80" font-weight="bold" textLength="125.08" lengthAdjust="spacing" >Microstates analysis</text>
<text x="368.94" y="521.60" font-size="12.80" font-weight="bold" textLength="125.88" lengthAdjust="spacing" >Microstates analysis</text>
<line x1="49.9" y1="544.0" x2="49.9" y2="627.0" stroke="#c8c8c8" stroke-width="0.8"/><line x1="49.9" y1="544.00" x2="51.4" y2="544.00" stroke="#aaa" stroke-width="0.6"/><line x1="49.9" y1="553.22" x2="51.4" y2="553.22" stroke="#aaa" stroke-width="0.6"/><line x1="49.9" y1="562.44" x2="51.4" y2="562.44" stroke="#aaa" stroke-width="0.6"/><line x1="49.9" y1="571.67" x2="51.4" y2="571.67" stroke="#aaa" stroke-width="0.6"/><line x1="49.9" y1="580.89" x2="51.4" y2="580.89" stroke="#aaa" stroke-width="0.6"/><line x1="49.9" y1="590.11" x2="51.4" y2="590.11" stroke="#aaa" stroke-width="0.6"/><line x1="49.9" y1="599.33" x2="51.4" y2="599.33" stroke="#aaa" stroke-width="0.6"/><line x1="49.9" y1="608.56" x2="51.4" y2="608.56" stroke="#aaa" stroke-width="0.6"/><line x1="49.9" y1="617.78" x2="51.4" y2="617.78" stroke="#aaa" stroke-width="0.6"/><line x1="49.9" y1="627.00" x2="51.4" y2="627.00" stroke="#aaa" stroke-width="0.6"/><path d="M49.90,601.50 C50.75,601.25 52.75,600.67 55.00,600.00 C57.25,599.33 60.07,598.10 63.40,597.50 C66.73,596.90 71.40,596.73 75.00,596.40 C78.60,596.07 81.48,595.82 85.00,595.50 C88.52,595.18 93.10,594.62 96.10,594.50 C99.10,594.38 100.68,594.48 103.00,594.80 C105.32,595.12 107.67,596.07 110.00,596.40 C112.33,596.73 115.00,596.20 117.00,596.80 C119.00,597.40 120.03,598.28 122.00,600.00 C123.97,601.72 126.47,605.68 128.80,607.10 C131.13,608.52 133.47,607.95 136.00,608.50 C138.53,609.05 141.67,610.90 144.00,610.40 C146.33,609.90 147.87,606.93 150.00,605.50 C152.13,604.07 154.63,602.78 156.80,601.80 C158.97,600.82 160.67,600.27 163.00,599.60 C165.33,598.93 168.30,598.40 170.80,597.80 C173.30,597.20 175.67,596.32 178.00,596.00 C180.33,595.68 182.80,595.73 184.80,595.90 C186.80,596.07 188.30,596.98 190.00,597.00 C191.70,597.02 193.27,596.50 195.00,596.00 C196.73,595.50 198.28,594.17 200.40,594.00 C202.52,593.83 205.63,595.62 207.70,595.00 C209.77,594.38 211.00,591.72 212.80,590.30 C214.60,588.88 216.63,587.22 218.50,586.50 C220.37,585.78 222.25,585.92 224.00,586.00 C225.75,586.08 227.38,586.60 229.00,587.00 C230.62,587.40 232.20,588.48 233.70,588.40 C235.20,588.32 236.45,587.13 238.00,586.50 C239.55,585.87 241.00,585.18 243.00,584.60 C245.00,584.02 247.83,583.63 250.00,583.00 C252.17,582.37 254.00,582.13 256.00,580.80 C258.00,579.47 259.72,576.37 262.00,575.00 C264.28,573.63 267.53,573.27 269.70,572.60 C271.87,571.93 273.12,571.63 275.00,571.00 C276.88,570.37 278.72,568.75 281.00,568.80 C283.28,568.85 286.32,570.78 288.70,571.30 C291.08,571.82 292.77,570.95 295.30,571.90 C297.83,572.85 301.12,575.67 303.90,577.00 C306.68,578.33 310.65,579.42 312.00,579.90 L312,627.0 L49.9,627.0 Z" fill="#0000ff" clip-path="url(#msc0)"/><path d="M49.90,601.50 C50.75,601.25 52.75,600.67 55.00,600.00 C57.25,599.33 60.07,598.10 63.40,597.50 C66.73,596.90 71.40,596.73 75.00,596.40 C78.60,596.07 81.48,595.82 85.00,595.50 C88.52,595.18 93.10,594.62 96.10,594.50 C99.10,594.38 100.68,594.48 103.00,594.80 C105.32,595.12 107.67,596.07 110.00,596.40 C112.33,596.73 115.00,596.20 117.00,596.80 C119.00,597.40 120.03,598.28 122.00,600.00 C123.97,601.72 126.47,605.68 128.80,607.10 C131.13,608.52 133.47,607.95 136.00,608.50 C138.53,609.05 141.67,610.90 144.00,610.40 C146.33,609.90 147.87,606.93 150.00,605.50 C152.13,604.07 154.63,602.78 156.80,601.80 C158.97,600.82 160.67,600.27 163.00,599.60 C165.33,598.93 168.30,598.40 170.80,597.80 C173.30,597.20 175.67,596.32 178.00,596.00 C180.33,595.68 182.80,595.73 184.80,595.90 C186.80,596.07 188.30,596.98 190.00,597.00 C191.70,597.02 193.27,596.50 195.00,596.00 C196.73,595.50 198.28,594.17 200.40,594.00 C202.52,593.83 205.63,595.62 207.70,595.00 C209.77,594.38 211.00,591.72 212.80,590.30 C214.60,588.88 216.63,587.22 218.50,586.50 C220.37,585.78 222.25,585.92 224.00,586.00 C225.75,586.08 227.38,586.60 229.00,587.00 C230.62,587.40 232.20,588.48 233.70,588.40 C235.20,588.32 236.45,587.13 238.00,586.50 C239.55,585.87 241.00,585.18 243.00,584.60 C245.00,584.02 247.83,583.63 250.00,583.00 C252.17,582.37 254.00,582.13 256.00,580.80 C258.00,579.47 259.72,576.37 262.00,575.00 C264.28,573.63 267.53,573.27 269.70,572.60 C271.87,571.93 273.12,571.63 275.00,571.00 C276.88,570.37 278.72,568.75 281.00,568.80 C283.28,568.85 286.32,570.78 288.70,571.30 C291.08,571.82 292.77,570.95 295.30,571.90 C297.83,572.85 301.12,575.67 303.90,577.00 C306.68,578.33 310.65,579.42 312.00,579.90 L312,627.0 L49.9,627.0 Z" fill="#008000" clip-path="url(#msc1)"/><path d="M49.90,601.50 C50.75,601.25 52.75,600.67 55.00,600.00 C57.25,599.33 60.07,598.10 63.40,597.50 C66.73,596.90 71.40,596.73 75.00,596.40 C78.60,596.07 81.48,595.82 85.00,595.50 C88.52,595.18 93.10,594.62 96.10,594.50 C99.10,594.38 100.68,594.48 103.00,594.80 C105.32,595.12 107.67,596.07 110.00,596.40 C112.33,596.73 115.00,596.20 117.00,596.80 C119.00,597.40 120.03,598.28 122.00,600.00 C123.97,601.72 126.47,605.68 128.80,607.10 C131.13,608.52 133.47,607.95 136.00,608.50 C138.53,609.05 141.67,610.90 144.00,610.40 C146.33,609.90 147.87,606.93 150.00,605.50 C152.13,604.07 154.63,602.78 156.80,601.80 C158.97,600.82 160.67,600.27 163.00,599.60 C165.33,598.93 168.30,598.40 170.80,597.80 C173.30,597.20 175.67,596.32 178.00,596.00 C180.33,595.68 182.80,595.73 184.80,595.90 C186.80,596.07 188.30,596.98 190.00,597.00 C191.70,597.02 193.27,596.50 195.00,596.00 C196.73,595.50 198.28,594.17 200.40,594.00 C202.52,593.83 205.63,595.62 207.70,595.00 C209.77,594.38 211.00,591.72 212.80,590.30 C214.60,588.88 216.63,587.22 218.50,586.50 C220.37,585.78 222.25,585.92 224.00,586.00 C225.75,586.08 227.38,586.60 229.00,587.00 C230.62,587.40 232.20,588.48 233.70,588.40 C235.20,588.32 236.45,587.13 238.00,586.50 C239.55,585.87 241.00,585.18 243.00,584.60 C245.00,584.02 247.83,583.63 250.00,583.00 C252.17,582.37 254.00,582.13 256.00,580.80 C258.00,579.47 259.72,576.37 262.00,575.00 C264.28,573.63 267.53,573.27 269.70,572.60 C271.87,571.93 273.12,571.63 275.00,571.00 C276.88,570.37 278.72,568.75 281.00,568.80 C283.28,568.85 286.32,570.78 288.70,571.30 C291.08,571.82 292.77,570.95 295.30,571.90 C297.83,572.85 301.12,575.67 303.90,577.00 C306.68,578.33 310.65,579.42 312.00,579.90 L312,627.0 L49.9,627.0 Z" fill="#ff0000" clip-path="url(#msc2)"/><path d="M49.90,601.50 C50.75,601.25 52.75,600.67 55.00,600.00 C57.25,599.33 60.07,598.10 63.40,597.50 C66.73,596.90 71.40,596.73 75.00,596.40 C78.60,596.07 81.48,595.82 85.00,595.50 C88.52,595.18 93.10,594.62 96.10,594.50 C99.10,594.38 100.68,594.48 103.00,594.80 C105.32,595.12 107.67,596.07 110.00,596.40 C112.33,596.73 115.00,596.20 117.00,596.80 C119.00,597.40 120.03,598.28 122.00,600.00 C123.97,601.72 126.47,605.68 128.80,607.10 C131.13,608.52 133.47,607.95 136.00,608.50 C138.53,609.05 141.67,610.90 144.00,610.40 C146.33,609.90 147.87,606.93 150.00,605.50 C152.13,604.07 154.63,602.78 156.80,601.80 C158.97,600.82 160.67,600.27 163.00,599.60 C165.33,598.93 168.30,598.40 170.80,597.80 C173.30,597.20 175.67,596.32 178.00,596.00 C180.33,595.68 182.80,595.73 184.80,595.90 C186.80,596.07 188.30,596.98 190.00,597.00 C191.70,597.02 193.27,596.50 195.00,596.00 C196.73,595.50 198.28,594.17 200.40,594.00 C202.52,593.83 205.63,595.62 207.70,595.00 C209.77,594.38 211.00,591.72 212.80,590.30 C214.60,588.88 216.63,587.22 218.50,586.50 C220.37,585.78 222.25,585.92 224.00,586.00 C225.75,586.08 227.38,586.60 229.00,587.00 C230.62,587.40 232.20,588.48 233.70,588.40 C235.20,588.32 236.45,587.13 238.00,586.50 C239.55,585.87 241.00,585.18 243.00,584.60 C245.00,584.02 247.83,583.63 250.00,583.00 C252.17,582.37 254.00,582.13 256.00,580.80 C258.00,579.47 259.72,576.37 262.00,575.00 C264.28,573.63 267.53,573.27 269.70,572.60 C271.87,571.93 273.12,571.63 275.00,571.00 C276.88,570.37 278.72,568.75 281.00,568.80 C283.28,568.85 286.32,570.78 288.70,571.30 C291.08,571.82 292.77,570.95 295.30,571.90 C297.83,572.85 301.12,575.67 303.90,577.00 C306.68,578.33 310.65,579.42 312.00,579.90 L312,627.0 L49.9,627.0 Z" fill="#00c0c0" clip-path="url(#msc3)"/><path d="M49.90,601.50 C50.75,601.25 52.75,600.67 55.00,600.00 C57.25,599.33 60.07,598.10 63.40,597.50 C66.73,596.90 71.40,596.73 75.00,596.40 C78.60,596.07 81.48,595.82 85.00,595.50 C88.52,595.18 93.10,594.62 96.10,594.50 C99.10,594.38 100.68,594.48 103.00,594.80 C105.32,595.12 107.67,596.07 110.00,596.40 C112.33,596.73 115.00,596.20 117.00,596.80 C119.00,597.40 120.03,598.28 122.00,600.00 C123.97,601.72 126.47,605.68 128.80,607.10 C131.13,608.52 133.47,607.95 136.00,608.50 C138.53,609.05 141.67,610.90 144.00,610.40 C146.33,609.90 147.87,606.93 150.00,605.50 C152.13,604.07 154.63,602.78 156.80,601.80 C158.97,600.82 160.67,600.27 163.00,599.60 C165.33,598.93 168.30,598.40 170.80,597.80 C173.30,597.20 175.67,596.32 178.00,596.00 C180.33,595.68 182.80,595.73 184.80,595.90 C186.80,596.07 188.30,596.98 190.00,597.00 C191.70,597.02 193.27,596.50 195.00,596.00 C196.73,595.50 198.28,594.17 200.40,594.00 C202.52,593.83 205.63,595.62 207.70,595.00 C209.77,594.38 211.00,591.72 212.80,590.30 C214.60,588.88 216.63,587.22 218.50,586.50 C220.37,585.78 222.25,585.92 224.00,586.00 C225.75,586.08 227.38,586.60 229.00,587.00 C230.62,587.40 232.20,588.48 233.70,588.40 C235.20,588.32 236.45,587.13 238.00,586.50 C239.55,585.87 241.00,585.18 243.00,584.60 C245.00,584.02 247.83,583.63 250.00,583.00 C252.17,582.37 254.00,582.13 256.00,580.80 C258.00,579.47 259.72,576.37 262.00,575.00 C264.28,573.63 267.53,573.27 269.70,572.60 C271.87,571.93 273.12,571.63 275.00,571.00 C276.88,570.37 278.72,568.75 281.00,568.80 C283.28,568.85 286.32,570.78 288.70,571.30 C291.08,571.82 292.77,570.95 295.30,571.90 C297.83,572.85 301.12,575.67 303.90,577.00 C306.68,578.33 310.65,579.42 312.00,579.90 L312,627.0 L49.9,627.0 Z" fill="#c000c0" clip-path="url(#msc4)"/><path d="M49.90,601.50 C50.75,601.25 52.75,600.67 55.00,600.00 C57.25,599.33 60.07,598.10 63.40,597.50 C66.73,596.90 71.40,596.73 75.00,596.40 C78.60,596.07 81.48,595.82 85.00,595.50 C88.52,595.18 93.10,594.62 96.10,594.50 C99.10,594.38 100.68,594.48 103.00,594.80 C105.32,595.12 107.67,596.07 110.00,596.40 C112.33,596.73 115.00,596.20 117.00,596.80 C119.00,597.40 120.03,598.28 122.00,600.00 C123.97,601.72 126.47,605.68 128.80,607.10 C131.13,608.52 133.47,607.95 136.00,608.50 C138.53,609.05 141.67,610.90 144.00,610.40 C146.33,609.90 147.87,606.93 150.00,605.50 C152.13,604.07 154.63,602.78 156.80,601.80 C158.97,600.82 160.67,600.27 163.00,599.60 C165.33,598.93 168.30,598.40 170.80,597.80 C173.30,597.20 175.67,596.32 178.00,596.00 C180.33,595.68 182.80,595.73 184.80,595.90 C186.80,596.07 188.30,596.98 190.00,597.00 C191.70,597.02 193.27,596.50 195.00,596.00 C196.73,595.50 198.28,594.17 200.40,594.00 C202.52,593.83 205.63,595.62 207.70,595.00 C209.77,594.38 211.00,591.72 212.80,590.30 C214.60,588.88 216.63,587.22 218.50,586.50 C220.37,585.78 222.25,585.92 224.00,586.00 C225.75,586.08 227.38,586.60 229.00,587.00 C230.62,587.40 232.20,588.48 233.70,588.40 C235.20,588.32 236.45,587.13 238.00,586.50 C239.55,585.87 241.00,585.18 243.00,584.60 C245.00,584.02 247.83,583.63 250.00,583.00 C252.17,582.37 254.00,582.13 256.00,580.80 C258.00,579.47 259.72,576.37 262.00,575.00 C264.28,573.63 267.53,573.27 269.70,572.60 C271.87,571.93 273.12,571.63 275.00,571.00 C276.88,570.37 278.72,568.75 281.00,568.80 C283.28,568.85 286.32,570.78 288.70,571.30 C291.08,571.82 292.77,570.95 295.30,571.90 C297.83,572.85 301.12,575.67 303.90,577.00 C306.68,578.33 310.65,579.42 312.00,579.90 L312,627.0 L49.9,627.0 Z" fill="#c0c000" clip-path="url(#msc5)"/><path d="M49.90,600.40 C50.75,600.15 52.75,599.57 55.00,598.90 C57.25,598.23 60.07,597.00 63.40,596.40 C66.73,595.80 71.40,595.63 75.00,595.30 C78.60,594.97 81.48,594.72 85.00,594.40 C88.52,594.08 93.10,593.52 96.10,593.40 C99.10,593.28 100.68,593.38 103.00,593.70 C105.32,594.02 107.67,594.97 110.00,595.30 C112.33,595.63 115.00,595.10 117.00,595.70 C119.00,596.30 120.03,597.18 122.00,598.90 C123.97,600.62 126.47,604.58 128.80,606.00 C131.13,607.42 133.47,606.85 136.00,607.40 C138.53,607.95 141.67,609.80 144.00,609.30 C146.33,608.80 147.87,605.83 150.00,604.40 C152.13,602.97 154.63,601.68 156.80,600.70 C158.97,599.72 160.67,599.17 163.00,598.50 C165.33,597.83 168.30,597.30 170.80,596.70 C173.30,596.10 175.67,595.22 178.00,594.90 C180.33,594.58 182.80,594.63 184.80,594.80 C186.80,594.97 188.30,595.88 190.00,595.90 C191.70,595.92 193.27,595.40 195.00,594.90 C196.73,594.40 198.28,593.07 200.40,592.90 C202.52,592.73 205.63,594.52 207.70,593.90 C209.77,593.28 211.00,590.62 212.80,589.20 C214.60,587.78 216.63,586.12 218.50,585.40 C220.37,584.68 222.25,584.82 224.00,584.90 C225.75,584.98 227.38,585.50 229.00,585.90 C230.62,586.30 232.20,587.38 233.70,587.30 C235.20,587.22 236.45,586.03 238.00,585.40 C239.55,584.77 241.00,584.08 243.00,583.50 C245.00,582.92 247.83,582.53 250.00,581.90 C252.17,581.27 254.00,581.03 256.00,579.70 C258.00,578.37 259.72,575.27 262.00,573.90 C264.28,572.53 267.53,572.17 269.70,571.50 C271.87,570.83 273.12,570.53 275.00,569.90 C276.88,569.27 278.72,567.65 281.00,567.70 C283.28,567.75 286.32,569.68 288.70,570.20 C291.08,570.72 292.77,569.85 295.30,570.80 C297.83,571.75 301.12,574.57 303.90,575.90 C306.68,577.23 310.65,578.32 312.00,578.80" fill="none" stroke="#9a9a9a" stroke-width="0.8"/><line x1="207.5" y1="544.0" x2="207.5" y2="628.5" stroke="#c21e1e" stroke-width="1.4"/><text x="58.24" y="557.30" font-size="12.80" font-weight="bold" textLength="86.12" lengthAdjust="spacing" >Mono-syllabic</text><text x="25.90" y="548.90" font-size="13.20" textLength="18.83" lengthAdjust="spacing" >4.5</text><text x="36.27" y="631.40" font-size="13.20" >0</text><text transform="translate(25.97,594.85) rotate(-90)" font-size="13.01">GFP</text>
<line x1="49.9" y1="654.4" x2="49.9" y2="737.0" stroke="#c8c8c8" stroke-width="0.8"/><line x1="49.9" y1="654.40" x2="51.4" y2="654.40" stroke="#aaa" stroke-width="0.6"/><line x1="49.9" y1="663.58" x2="51.4" y2="663.58" stroke="#aaa" stroke-width="0.6"/><line x1="49.9" y1="672.76" x2="51.4" y2="672.76" stroke="#aaa" stroke-width="0.6"/><line x1="49.9" y1="681.93" x2="51.4" y2="681.93" stroke="#aaa" stroke-width="0.6"/><line x1="49.9" y1="691.11" x2="51.4" y2="691.11" stroke="#aaa" stroke-width="0.6"/><line x1="49.9" y1="700.29" x2="51.4" y2="700.29" stroke="#aaa" stroke-width="0.6"/><line x1="49.9" y1="709.47" x2="51.4" y2="709.47" stroke="#aaa" stroke-width="0.6"/><line x1="49.9" y1="718.64" x2="51.4" y2="718.64" stroke="#aaa" stroke-width="0.6"/><line x1="49.9" y1="727.82" x2="51.4" y2="727.82" stroke="#aaa" stroke-width="0.6"/><line x1="49.9" y1="737.00" x2="51.4" y2="737.00" stroke="#aaa" stroke-width="0.6"/><path d="M49.90,708.30 C51.25,708.17 55.45,707.85 58.00,707.50 C60.55,707.15 63.20,706.20 65.20,706.20 C67.20,706.20 68.45,707.00 70.00,707.50 C71.55,708.00 72.83,709.03 74.50,709.20 C76.17,709.37 77.82,708.50 80.00,708.50 C82.18,708.50 85.60,709.45 87.60,709.20 C89.60,708.95 90.53,707.73 92.00,707.00 C93.47,706.27 94.57,705.35 96.40,704.80 C98.23,704.25 100.82,704.43 103.00,703.70 C105.18,702.97 107.95,700.85 109.50,700.40 C111.05,699.95 110.88,700.82 112.30,701.00 C113.72,701.18 115.97,701.20 118.00,701.50 C120.03,701.80 122.83,702.22 124.50,702.80 C126.17,703.38 126.53,704.03 128.00,705.00 C129.47,705.97 131.25,707.52 133.30,708.60 C135.35,709.68 138.52,710.43 140.30,711.50 C142.08,712.57 142.83,713.62 144.00,715.00 C145.17,716.38 145.47,719.17 147.30,719.75 C149.13,720.33 152.55,718.71 155.00,718.50 C157.45,718.29 159.98,718.52 162.00,718.50 C164.02,718.48 164.88,718.93 167.10,718.35 C169.32,717.77 172.98,715.81 175.30,715.00 C177.62,714.19 178.95,713.93 181.00,713.50 C183.05,713.07 185.93,712.40 187.60,712.40 C189.27,712.40 189.68,713.20 191.00,713.50 C192.32,713.80 194.00,714.37 195.50,714.20 C197.00,714.03 198.40,712.95 200.00,712.50 C201.60,712.05 203.40,711.53 205.10,711.50 C206.80,711.47 208.72,712.88 210.20,712.30 C211.68,711.72 212.78,709.18 214.00,708.00 C215.22,706.82 216.17,706.05 217.50,705.20 C218.83,704.35 220.25,703.30 222.00,702.90 C223.75,702.50 225.83,702.92 228.00,702.80 C230.17,702.68 232.67,702.50 235.00,702.20 C237.33,701.90 239.67,701.43 242.00,701.00 C244.33,700.57 246.83,700.18 249.00,699.60 C251.17,699.02 253.23,698.12 255.00,697.50 C256.77,696.88 258.10,696.73 259.60,695.90 C261.10,695.07 262.70,693.38 264.00,692.50 C265.30,691.62 266.07,690.68 267.40,690.60 C268.73,690.52 270.23,691.35 272.00,692.00 C273.77,692.65 276.42,693.77 278.00,694.50 C279.58,695.23 280.17,695.32 281.50,696.40 C282.83,697.48 284.25,699.23 286.00,701.00 C287.75,702.77 290.17,705.50 292.00,707.00 C293.83,708.50 295.25,709.28 297.00,710.00 C298.75,710.72 300.83,711.13 302.50,711.30 C304.17,711.47 305.40,711.15 307.00,711.00 C308.60,710.85 311.25,710.50 312.10,710.40 L312.1,737.0 L49.9,737.0 Z" fill="#0000ff" clip-path="url(#msc6)"/><path d="M49.90,708.30 C51.25,708.17 55.45,707.85 58.00,707.50 C60.55,707.15 63.20,706.20 65.20,706.20 C67.20,706.20 68.45,707.00 70.00,707.50 C71.55,708.00 72.83,709.03 74.50,709.20 C76.17,709.37 77.82,708.50 80.00,708.50 C82.18,708.50 85.60,709.45 87.60,709.20 C89.60,708.95 90.53,707.73 92.00,707.00 C93.47,706.27 94.57,705.35 96.40,704.80 C98.23,704.25 100.82,704.43 103.00,703.70 C105.18,702.97 107.95,700.85 109.50,700.40 C111.05,699.95 110.88,700.82 112.30,701.00 C113.72,701.18 115.97,701.20 118.00,701.50 C120.03,701.80 122.83,702.22 124.50,702.80 C126.17,703.38 126.53,704.03 128.00,705.00 C129.47,705.97 131.25,707.52 133.30,708.60 C135.35,709.68 138.52,710.43 140.30,711.50 C142.08,712.57 142.83,713.62 144.00,715.00 C145.17,716.38 145.47,719.17 147.30,719.75 C149.13,720.33 152.55,718.71 155.00,718.50 C157.45,718.29 159.98,718.52 162.00,718.50 C164.02,718.48 164.88,718.93 167.10,718.35 C169.32,717.77 172.98,715.81 175.30,715.00 C177.62,714.19 178.95,713.93 181.00,713.50 C183.05,713.07 185.93,712.40 187.60,712.40 C189.27,712.40 189.68,713.20 191.00,713.50 C192.32,713.80 194.00,714.37 195.50,714.20 C197.00,714.03 198.40,712.95 200.00,712.50 C201.60,712.05 203.40,711.53 205.10,711.50 C206.80,711.47 208.72,712.88 210.20,712.30 C211.68,711.72 212.78,709.18 214.00,708.00 C215.22,706.82 216.17,706.05 217.50,705.20 C218.83,704.35 220.25,703.30 222.00,702.90 C223.75,702.50 225.83,702.92 228.00,702.80 C230.17,702.68 232.67,702.50 235.00,702.20 C237.33,701.90 239.67,701.43 242.00,701.00 C244.33,700.57 246.83,700.18 249.00,699.60 C251.17,699.02 253.23,698.12 255.00,697.50 C256.77,696.88 258.10,696.73 259.60,695.90 C261.10,695.07 262.70,693.38 264.00,692.50 C265.30,691.62 266.07,690.68 267.40,690.60 C268.73,690.52 270.23,691.35 272.00,692.00 C273.77,692.65 276.42,693.77 278.00,694.50 C279.58,695.23 280.17,695.32 281.50,696.40 C282.83,697.48 284.25,699.23 286.00,701.00 C287.75,702.77 290.17,705.50 292.00,707.00 C293.83,708.50 295.25,709.28 297.00,710.00 C298.75,710.72 300.83,711.13 302.50,711.30 C304.17,711.47 305.40,711.15 307.00,711.00 C308.60,710.85 311.25,710.50 312.10,710.40 L312.1,737.0 L49.9,737.0 Z" fill="#008000" clip-path="url(#msc7)"/><path d="M49.90,708.30 C51.25,708.17 55.45,707.85 58.00,707.50 C60.55,707.15 63.20,706.20 65.20,706.20 C67.20,706.20 68.45,707.00 70.00,707.50 C71.55,708.00 72.83,709.03 74.50,709.20 C76.17,709.37 77.82,708.50 80.00,708.50 C82.18,708.50 85.60,709.45 87.60,709.20 C89.60,708.95 90.53,707.73 92.00,707.00 C93.47,706.27 94.57,705.35 96.40,704.80 C98.23,704.25 100.82,704.43 103.00,703.70 C105.18,702.97 107.95,700.85 109.50,700.40 C111.05,699.95 110.88,700.82 112.30,701.00 C113.72,701.18 115.97,701.20 118.00,701.50 C120.03,701.80 122.83,702.22 124.50,702.80 C126.17,703.38 126.53,704.03 128.00,705.00 C129.47,705.97 131.25,707.52 133.30,708.60 C135.35,709.68 138.52,710.43 140.30,711.50 C142.08,712.57 142.83,713.62 144.00,715.00 C145.17,716.38 145.47,719.17 147.30,719.75 C149.13,720.33 152.55,718.71 155.00,718.50 C157.45,718.29 159.98,718.52 162.00,718.50 C164.02,718.48 164.88,718.93 167.10,718.35 C169.32,717.77 172.98,715.81 175.30,715.00 C177.62,714.19 178.95,713.93 181.00,713.50 C183.05,713.07 185.93,712.40 187.60,712.40 C189.27,712.40 189.68,713.20 191.00,713.50 C192.32,713.80 194.00,714.37 195.50,714.20 C197.00,714.03 198.40,712.95 200.00,712.50 C201.60,712.05 203.40,711.53 205.10,711.50 C206.80,711.47 208.72,712.88 210.20,712.30 C211.68,711.72 212.78,709.18 214.00,708.00 C215.22,706.82 216.17,706.05 217.50,705.20 C218.83,704.35 220.25,703.30 222.00,702.90 C223.75,702.50 225.83,702.92 228.00,702.80 C230.17,702.68 232.67,702.50 235.00,702.20 C237.33,701.90 239.67,701.43 242.00,701.00 C244.33,700.57 246.83,700.18 249.00,699.60 C251.17,699.02 253.23,698.12 255.00,697.50 C256.77,696.88 258.10,696.73 259.60,695.90 C261.10,695.07 262.70,693.38 264.00,692.50 C265.30,691.62 266.07,690.68 267.40,690.60 C268.73,690.52 270.23,691.35 272.00,692.00 C273.77,692.65 276.42,693.77 278.00,694.50 C279.58,695.23 280.17,695.32 281.50,696.40 C282.83,697.48 284.25,699.23 286.00,701.00 C287.75,702.77 290.17,705.50 292.00,707.00 C293.83,708.50 295.25,709.28 297.00,710.00 C298.75,710.72 300.83,711.13 302.50,711.30 C304.17,711.47 305.40,711.15 307.00,711.00 C308.60,710.85 311.25,710.50 312.10,710.40 L312.1,737.0 L49.9,737.0 Z" fill="#ff0000" clip-path="url(#msc8)"/><path d="M49.90,708.30 C51.25,708.17 55.45,707.85 58.00,707.50 C60.55,707.15 63.20,706.20 65.20,706.20 C67.20,706.20 68.45,707.00 70.00,707.50 C71.55,708.00 72.83,709.03 74.50,709.20 C76.17,709.37 77.82,708.50 80.00,708.50 C82.18,708.50 85.60,709.45 87.60,709.20 C89.60,708.95 90.53,707.73 92.00,707.00 C93.47,706.27 94.57,705.35 96.40,704.80 C98.23,704.25 100.82,704.43 103.00,703.70 C105.18,702.97 107.95,700.85 109.50,700.40 C111.05,699.95 110.88,700.82 112.30,701.00 C113.72,701.18 115.97,701.20 118.00,701.50 C120.03,701.80 122.83,702.22 124.50,702.80 C126.17,703.38 126.53,704.03 128.00,705.00 C129.47,705.97 131.25,707.52 133.30,708.60 C135.35,709.68 138.52,710.43 140.30,711.50 C142.08,712.57 142.83,713.62 144.00,715.00 C145.17,716.38 145.47,719.17 147.30,719.75 C149.13,720.33 152.55,718.71 155.00,718.50 C157.45,718.29 159.98,718.52 162.00,718.50 C164.02,718.48 164.88,718.93 167.10,718.35 C169.32,717.77 172.98,715.81 175.30,715.00 C177.62,714.19 178.95,713.93 181.00,713.50 C183.05,713.07 185.93,712.40 187.60,712.40 C189.27,712.40 189.68,713.20 191.00,713.50 C192.32,713.80 194.00,714.37 195.50,714.20 C197.00,714.03 198.40,712.95 200.00,712.50 C201.60,712.05 203.40,711.53 205.10,711.50 C206.80,711.47 208.72,712.88 210.20,712.30 C211.68,711.72 212.78,709.18 214.00,708.00 C215.22,706.82 216.17,706.05 217.50,705.20 C218.83,704.35 220.25,703.30 222.00,702.90 C223.75,702.50 225.83,702.92 228.00,702.80 C230.17,702.68 232.67,702.50 235.00,702.20 C237.33,701.90 239.67,701.43 242.00,701.00 C244.33,700.57 246.83,700.18 249.00,699.60 C251.17,699.02 253.23,698.12 255.00,697.50 C256.77,696.88 258.10,696.73 259.60,695.90 C261.10,695.07 262.70,693.38 264.00,692.50 C265.30,691.62 266.07,690.68 267.40,690.60 C268.73,690.52 270.23,691.35 272.00,692.00 C273.77,692.65 276.42,693.77 278.00,694.50 C279.58,695.23 280.17,695.32 281.50,696.40 C282.83,697.48 284.25,699.23 286.00,701.00 C287.75,702.77 290.17,705.50 292.00,707.00 C293.83,708.50 295.25,709.28 297.00,710.00 C298.75,710.72 300.83,711.13 302.50,711.30 C304.17,711.47 305.40,711.15 307.00,711.00 C308.60,710.85 311.25,710.50 312.10,710.40 L312.1,737.0 L49.9,737.0 Z" fill="#00c0c0" clip-path="url(#msc9)"/><path d="M49.90,708.30 C51.25,708.17 55.45,707.85 58.00,707.50 C60.55,707.15 63.20,706.20 65.20,706.20 C67.20,706.20 68.45,707.00 70.00,707.50 C71.55,708.00 72.83,709.03 74.50,709.20 C76.17,709.37 77.82,708.50 80.00,708.50 C82.18,708.50 85.60,709.45 87.60,709.20 C89.60,708.95 90.53,707.73 92.00,707.00 C93.47,706.27 94.57,705.35 96.40,704.80 C98.23,704.25 100.82,704.43 103.00,703.70 C105.18,702.97 107.95,700.85 109.50,700.40 C111.05,699.95 110.88,700.82 112.30,701.00 C113.72,701.18 115.97,701.20 118.00,701.50 C120.03,701.80 122.83,702.22 124.50,702.80 C126.17,703.38 126.53,704.03 128.00,705.00 C129.47,705.97 131.25,707.52 133.30,708.60 C135.35,709.68 138.52,710.43 140.30,711.50 C142.08,712.57 142.83,713.62 144.00,715.00 C145.17,716.38 145.47,719.17 147.30,719.75 C149.13,720.33 152.55,718.71 155.00,718.50 C157.45,718.29 159.98,718.52 162.00,718.50 C164.02,718.48 164.88,718.93 167.10,718.35 C169.32,717.77 172.98,715.81 175.30,715.00 C177.62,714.19 178.95,713.93 181.00,713.50 C183.05,713.07 185.93,712.40 187.60,712.40 C189.27,712.40 189.68,713.20 191.00,713.50 C192.32,713.80 194.00,714.37 195.50,714.20 C197.00,714.03 198.40,712.95 200.00,712.50 C201.60,712.05 203.40,711.53 205.10,711.50 C206.80,711.47 208.72,712.88 210.20,712.30 C211.68,711.72 212.78,709.18 214.00,708.00 C215.22,706.82 216.17,706.05 217.50,705.20 C218.83,704.35 220.25,703.30 222.00,702.90 C223.75,702.50 225.83,702.92 228.00,702.80 C230.17,702.68 232.67,702.50 235.00,702.20 C237.33,701.90 239.67,701.43 242.00,701.00 C244.33,700.57 246.83,700.18 249.00,699.60 C251.17,699.02 253.23,698.12 255.00,697.50 C256.77,696.88 258.10,696.73 259.60,695.90 C261.10,695.07 262.70,693.38 264.00,692.50 C265.30,691.62 266.07,690.68 267.40,690.60 C268.73,690.52 270.23,691.35 272.00,692.00 C273.77,692.65 276.42,693.77 278.00,694.50 C279.58,695.23 280.17,695.32 281.50,696.40 C282.83,697.48 284.25,699.23 286.00,701.00 C287.75,702.77 290.17,705.50 292.00,707.00 C293.83,708.50 295.25,709.28 297.00,710.00 C298.75,710.72 300.83,711.13 302.50,711.30 C304.17,711.47 305.40,711.15 307.00,711.00 C308.60,710.85 311.25,710.50 312.10,710.40 L312.1,737.0 L49.9,737.0 Z" fill="#c000c0" clip-path="url(#msc10)"/><path d="M49.90,708.30 C51.25,708.17 55.45,707.85 58.00,707.50 C60.55,707.15 63.20,706.20 65.20,706.20 C67.20,706.20 68.45,707.00 70.00,707.50 C71.55,708.00 72.83,709.03 74.50,709.20 C76.17,709.37 77.82,708.50 80.00,708.50 C82.18,708.50 85.60,709.45 87.60,709.20 C89.60,708.95 90.53,707.73 92.00,707.00 C93.47,706.27 94.57,705.35 96.40,704.80 C98.23,704.25 100.82,704.43 103.00,703.70 C105.18,702.97 107.95,700.85 109.50,700.40 C111.05,699.95 110.88,700.82 112.30,701.00 C113.72,701.18 115.97,701.20 118.00,701.50 C120.03,701.80 122.83,702.22 124.50,702.80 C126.17,703.38 126.53,704.03 128.00,705.00 C129.47,705.97 131.25,707.52 133.30,708.60 C135.35,709.68 138.52,710.43 140.30,711.50 C142.08,712.57 142.83,713.62 144.00,715.00 C145.17,716.38 145.47,719.17 147.30,719.75 C149.13,720.33 152.55,718.71 155.00,718.50 C157.45,718.29 159.98,718.52 162.00,718.50 C164.02,718.48 164.88,718.93 167.10,718.35 C169.32,717.77 172.98,715.81 175.30,715.00 C177.62,714.19 178.95,713.93 181.00,713.50 C183.05,713.07 185.93,712.40 187.60,712.40 C189.27,712.40 189.68,713.20 191.00,713.50 C192.32,713.80 194.00,714.37 195.50,714.20 C197.00,714.03 198.40,712.95 200.00,712.50 C201.60,712.05 203.40,711.53 205.10,711.50 C206.80,711.47 208.72,712.88 210.20,712.30 C211.68,711.72 212.78,709.18 214.00,708.00 C215.22,706.82 216.17,706.05 217.50,705.20 C218.83,704.35 220.25,703.30 222.00,702.90 C223.75,702.50 225.83,702.92 228.00,702.80 C230.17,702.68 232.67,702.50 235.00,702.20 C237.33,701.90 239.67,701.43 242.00,701.00 C244.33,700.57 246.83,700.18 249.00,699.60 C251.17,699.02 253.23,698.12 255.00,697.50 C256.77,696.88 258.10,696.73 259.60,695.90 C261.10,695.07 262.70,693.38 264.00,692.50 C265.30,691.62 266.07,690.68 267.40,690.60 C268.73,690.52 270.23,691.35 272.00,692.00 C273.77,692.65 276.42,693.77 278.00,694.50 C279.58,695.23 280.17,695.32 281.50,696.40 C282.83,697.48 284.25,699.23 286.00,701.00 C287.75,702.77 290.17,705.50 292.00,707.00 C293.83,708.50 295.25,709.28 297.00,710.00 C298.75,710.72 300.83,711.13 302.50,711.30 C304.17,711.47 305.40,711.15 307.00,711.00 C308.60,710.85 311.25,710.50 312.10,710.40 L312.1,737.0 L49.9,737.0 Z" fill="#c0c000" clip-path="url(#msc11)"/><path d="M49.90,707.20 C51.25,707.07 55.45,706.75 58.00,706.40 C60.55,706.05 63.20,705.10 65.20,705.10 C67.20,705.10 68.45,705.90 70.00,706.40 C71.55,706.90 72.83,707.93 74.50,708.10 C76.17,708.27 77.82,707.40 80.00,707.40 C82.18,707.40 85.60,708.35 87.60,708.10 C89.60,707.85 90.53,706.63 92.00,705.90 C93.47,705.17 94.57,704.25 96.40,703.70 C98.23,703.15 100.82,703.33 103.00,702.60 C105.18,701.87 107.95,699.75 109.50,699.30 C111.05,698.85 110.88,699.72 112.30,699.90 C113.72,700.08 115.97,700.10 118.00,700.40 C120.03,700.70 122.83,701.12 124.50,701.70 C126.17,702.28 126.53,702.93 128.00,703.90 C129.47,704.87 131.25,706.42 133.30,707.50 C135.35,708.58 138.52,709.33 140.30,710.40 C142.08,711.47 142.83,712.52 144.00,713.90 C145.17,715.27 145.47,718.07 147.30,718.65 C149.13,719.23 152.55,717.61 155.00,717.40 C157.45,717.19 159.98,717.42 162.00,717.40 C164.02,717.38 164.88,717.83 167.10,717.25 C169.32,716.67 172.98,714.71 175.30,713.90 C177.62,713.09 178.95,712.83 181.00,712.40 C183.05,711.97 185.93,711.30 187.60,711.30 C189.27,711.30 189.68,712.10 191.00,712.40 C192.32,712.70 194.00,713.27 195.50,713.10 C197.00,712.93 198.40,711.85 200.00,711.40 C201.60,710.95 203.40,710.43 205.10,710.40 C206.80,710.37 208.72,711.78 210.20,711.20 C211.68,710.62 212.78,708.08 214.00,706.90 C215.22,705.72 216.17,704.95 217.50,704.10 C218.83,703.25 220.25,702.20 222.00,701.80 C223.75,701.40 225.83,701.82 228.00,701.70 C230.17,701.58 232.67,701.40 235.00,701.10 C237.33,700.80 239.67,700.33 242.00,699.90 C244.33,699.47 246.83,699.08 249.00,698.50 C251.17,697.92 253.23,697.02 255.00,696.40 C256.77,695.78 258.10,695.63 259.60,694.80 C261.10,693.97 262.70,692.28 264.00,691.40 C265.30,690.52 266.07,689.58 267.40,689.50 C268.73,689.42 270.23,690.25 272.00,690.90 C273.77,691.55 276.42,692.67 278.00,693.40 C279.58,694.13 280.17,694.22 281.50,695.30 C282.83,696.38 284.25,698.13 286.00,699.90 C287.75,701.67 290.17,704.40 292.00,705.90 C293.83,707.40 295.25,708.18 297.00,708.90 C298.75,709.62 300.83,710.03 302.50,710.20 C304.17,710.37 305.40,710.05 307.00,709.90 C308.60,709.75 311.25,709.40 312.10,709.30" fill="none" stroke="#9a9a9a" stroke-width="0.8"/><line x1="207.5" y1="654.4" x2="207.5" y2="738.5" stroke="#c21e1e" stroke-width="1.4"/><text x="56.94" y="666.30" font-size="12.80" font-weight="bold" textLength="59.04" lengthAdjust="spacing" >Disyllabic</text><text x="21.50" y="660.70" font-size="13.20" textLength="18.93" lengthAdjust="spacing" >4.5</text><text x="31.87" y="745.00" font-size="13.20" >0</text><text transform="translate(21.95,706.84) rotate(-90)" font-size="12.80">GFP</text>
<line x1="406.7" y1="543.6" x2="406.7" y2="627.2" stroke="#c8c8c8" stroke-width="0.8"/><line x1="406.7" y1="543.60" x2="408.2" y2="543.60" stroke="#aaa" stroke-width="0.6"/><line x1="406.7" y1="552.89" x2="408.2" y2="552.89" stroke="#aaa" stroke-width="0.6"/><line x1="406.7" y1="562.18" x2="408.2" y2="562.18" stroke="#aaa" stroke-width="0.6"/><line x1="406.7" y1="571.47" x2="408.2" y2="571.47" stroke="#aaa" stroke-width="0.6"/><line x1="406.7" y1="580.76" x2="408.2" y2="580.76" stroke="#aaa" stroke-width="0.6"/><line x1="406.7" y1="590.04" x2="408.2" y2="590.04" stroke="#aaa" stroke-width="0.6"/><line x1="406.7" y1="599.33" x2="408.2" y2="599.33" stroke="#aaa" stroke-width="0.6"/><line x1="406.7" y1="608.62" x2="408.2" y2="608.62" stroke="#aaa" stroke-width="0.6"/><line x1="406.7" y1="617.91" x2="408.2" y2="617.91" stroke="#aaa" stroke-width="0.6"/><line x1="406.7" y1="627.20" x2="408.2" y2="627.20" stroke="#aaa" stroke-width="0.6"/><path d="M406.70,600.80 C407.58,600.58 410.25,600.08 412.00,599.50 C413.75,598.92 415.03,597.80 417.20,597.30 C419.37,596.80 422.08,596.78 425.00,596.50 C427.92,596.22 432.20,595.65 434.70,595.60 C437.20,595.55 438.05,596.12 440.00,596.20 C441.95,596.28 443.97,596.58 446.40,596.10 C448.83,595.62 452.33,593.68 454.60,593.30 C456.87,592.92 457.85,593.33 460.00,593.80 C462.15,594.27 465.08,595.33 467.50,596.10 C469.92,596.87 472.75,597.75 474.50,598.40 C476.25,599.05 476.65,598.92 478.00,600.00 C479.35,601.08 480.60,603.52 482.60,604.85 C484.60,606.18 487.15,606.92 490.00,608.00 C492.85,609.08 497.20,611.63 499.70,611.30 C502.20,610.97 503.15,607.68 505.00,606.00 C506.85,604.32 508.63,602.37 510.80,601.20 C512.97,600.03 515.30,599.68 518.00,599.00 C520.70,598.32 523.25,597.63 527.00,597.10 C530.75,596.57 536.90,595.80 540.50,595.80 C544.10,595.80 545.90,597.33 548.60,597.10 C551.30,596.87 554.22,594.97 556.70,594.40 C559.18,593.83 561.25,594.60 563.50,593.70 C565.75,592.80 567.73,590.23 570.20,589.00 C572.67,587.77 574.70,586.75 578.30,586.30 C581.90,585.85 588.85,586.52 591.80,586.30 C594.75,586.08 594.63,585.45 596.00,585.00 C597.37,584.55 598.67,583.43 600.00,583.60 C601.33,583.77 602.57,585.77 604.00,586.00 C605.43,586.23 607.03,587.15 608.60,584.95 C610.17,582.75 611.70,575.27 613.40,572.80 C615.10,570.32 616.77,571.00 618.80,570.10 C620.83,569.20 623.35,567.17 625.60,567.40 C627.85,567.63 630.07,571.05 632.30,571.50 C634.53,571.95 637.22,569.68 639.00,570.10 C640.78,570.52 641.63,572.57 643.00,574.00 C644.37,575.43 645.38,578.22 647.20,578.70 C649.02,579.18 651.88,577.35 653.90,576.90 C655.92,576.45 656.82,575.55 659.30,576.00 C661.78,576.45 667.22,579.00 668.80,579.60 L668.8,627.2 L406.7,627.2 Z" fill="#0000ff" clip-path="url(#msc12)"/><path d="M406.70,600.80 C407.58,600.58 410.25,600.08 412.00,599.50 C413.75,598.92 415.03,597.80 417.20,597.30 C419.37,596.80 422.08,596.78 425.00,596.50 C427.92,596.22 432.20,595.65 434.70,595.60 C437.20,595.55 438.05,596.12 440.00,596.20 C441.95,596.28 443.97,596.58 446.40,596.10 C448.83,595.62 452.33,593.68 454.60,593.30 C456.87,592.92 457.85,593.33 460.00,593.80 C462.15,594.27 465.08,595.33 467.50,596.10 C469.92,596.87 472.75,597.75 474.50,598.40 C476.25,599.05 476.65,598.92 478.00,600.00 C479.35,601.08 480.60,603.52 482.60,604.85 C484.60,606.18 487.15,606.92 490.00,608.00 C492.85,609.08 497.20,611.63 499.70,611.30 C502.20,610.97 503.15,607.68 505.00,606.00 C506.85,604.32 508.63,602.37 510.80,601.20 C512.97,600.03 515.30,599.68 518.00,599.00 C520.70,598.32 523.25,597.63 527.00,597.10 C530.75,596.57 536.90,595.80 540.50,595.80 C544.10,595.80 545.90,597.33 548.60,597.10 C551.30,596.87 554.22,594.97 556.70,594.40 C559.18,593.83 561.25,594.60 563.50,593.70 C565.75,592.80 567.73,590.23 570.20,589.00 C572.67,587.77 574.70,586.75 578.30,586.30 C581.90,585.85 588.85,586.52 591.80,586.30 C594.75,586.08 594.63,585.45 596.00,585.00 C597.37,584.55 598.67,583.43 600.00,583.60 C601.33,583.77 602.57,585.77 604.00,586.00 C605.43,586.23 607.03,587.15 608.60,584.95 C610.17,582.75 611.70,575.27 613.40,572.80 C615.10,570.32 616.77,571.00 618.80,570.10 C620.83,569.20 623.35,567.17 625.60,567.40 C627.85,567.63 630.07,571.05 632.30,571.50 C634.53,571.95 637.22,569.68 639.00,570.10 C640.78,570.52 641.63,572.57 643.00,574.00 C644.37,575.43 645.38,578.22 647.20,578.70 C649.02,579.18 651.88,577.35 653.90,576.90 C655.92,576.45 656.82,575.55 659.30,576.00 C661.78,576.45 667.22,579.00 668.80,579.60 L668.8,627.2 L406.7,627.2 Z" fill="#008000" clip-path="url(#msc13)"/><path d="M406.70,600.80 C407.58,600.58 410.25,600.08 412.00,599.50 C413.75,598.92 415.03,597.80 417.20,597.30 C419.37,596.80 422.08,596.78 425.00,596.50 C427.92,596.22 432.20,595.65 434.70,595.60 C437.20,595.55 438.05,596.12 440.00,596.20 C441.95,596.28 443.97,596.58 446.40,596.10 C448.83,595.62 452.33,593.68 454.60,593.30 C456.87,592.92 457.85,593.33 460.00,593.80 C462.15,594.27 465.08,595.33 467.50,596.10 C469.92,596.87 472.75,597.75 474.50,598.40 C476.25,599.05 476.65,598.92 478.00,600.00 C479.35,601.08 480.60,603.52 482.60,604.85 C484.60,606.18 487.15,606.92 490.00,608.00 C492.85,609.08 497.20,611.63 499.70,611.30 C502.20,610.97 503.15,607.68 505.00,606.00 C506.85,604.32 508.63,602.37 510.80,601.20 C512.97,600.03 515.30,599.68 518.00,599.00 C520.70,598.32 523.25,597.63 527.00,597.10 C530.75,596.57 536.90,595.80 540.50,595.80 C544.10,595.80 545.90,597.33 548.60,597.10 C551.30,596.87 554.22,594.97 556.70,594.40 C559.18,593.83 561.25,594.60 563.50,593.70 C565.75,592.80 567.73,590.23 570.20,589.00 C572.67,587.77 574.70,586.75 578.30,586.30 C581.90,585.85 588.85,586.52 591.80,586.30 C594.75,586.08 594.63,585.45 596.00,585.00 C597.37,584.55 598.67,583.43 600.00,583.60 C601.33,583.77 602.57,585.77 604.00,586.00 C605.43,586.23 607.03,587.15 608.60,584.95 C610.17,582.75 611.70,575.27 613.40,572.80 C615.10,570.32 616.77,571.00 618.80,570.10 C620.83,569.20 623.35,567.17 625.60,567.40 C627.85,567.63 630.07,571.05 632.30,571.50 C634.53,571.95 637.22,569.68 639.00,570.10 C640.78,570.52 641.63,572.57 643.00,574.00 C644.37,575.43 645.38,578.22 647.20,578.70 C649.02,579.18 651.88,577.35 653.90,576.90 C655.92,576.45 656.82,575.55 659.30,576.00 C661.78,576.45 667.22,579.00 668.80,579.60 L668.8,627.2 L406.7,627.2 Z" fill="#ff0000" clip-path="url(#msc14)"/><path d="M406.70,600.80 C407.58,600.58 410.25,600.08 412.00,599.50 C413.75,598.92 415.03,597.80 417.20,597.30 C419.37,596.80 422.08,596.78 425.00,596.50 C427.92,596.22 432.20,595.65 434.70,595.60 C437.20,595.55 438.05,596.12 440.00,596.20 C441.95,596.28 443.97,596.58 446.40,596.10 C448.83,595.62 452.33,593.68 454.60,593.30 C456.87,592.92 457.85,593.33 460.00,593.80 C462.15,594.27 465.08,595.33 467.50,596.10 C469.92,596.87 472.75,597.75 474.50,598.40 C476.25,599.05 476.65,598.92 478.00,600.00 C479.35,601.08 480.60,603.52 482.60,604.85 C484.60,606.18 487.15,606.92 490.00,608.00 C492.85,609.08 497.20,611.63 499.70,611.30 C502.20,610.97 503.15,607.68 505.00,606.00 C506.85,604.32 508.63,602.37 510.80,601.20 C512.97,600.03 515.30,599.68 518.00,599.00 C520.70,598.32 523.25,597.63 527.00,597.10 C530.75,596.57 536.90,595.80 540.50,595.80 C544.10,595.80 545.90,597.33 548.60,597.10 C551.30,596.87 554.22,594.97 556.70,594.40 C559.18,593.83 561.25,594.60 563.50,593.70 C565.75,592.80 567.73,590.23 570.20,589.00 C572.67,587.77 574.70,586.75 578.30,586.30 C581.90,585.85 588.85,586.52 591.80,586.30 C594.75,586.08 594.63,585.45 596.00,585.00 C597.37,584.55 598.67,583.43 600.00,583.60 C601.33,583.77 602.57,585.77 604.00,586.00 C605.43,586.23 607.03,587.15 608.60,584.95 C610.17,582.75 611.70,575.27 613.40,572.80 C615.10,570.32 616.77,571.00 618.80,570.10 C620.83,569.20 623.35,567.17 625.60,567.40 C627.85,567.63 630.07,571.05 632.30,571.50 C634.53,571.95 637.22,569.68 639.00,570.10 C640.78,570.52 641.63,572.57 643.00,574.00 C644.37,575.43 645.38,578.22 647.20,578.70 C649.02,579.18 651.88,577.35 653.90,576.90 C655.92,576.45 656.82,575.55 659.30,576.00 C661.78,576.45 667.22,579.00 668.80,579.60 L668.8,627.2 L406.7,627.2 Z" fill="#00c0c0" clip-path="url(#msc15)"/><path d="M406.70,600.80 C407.58,600.58 410.25,600.08 412.00,599.50 C413.75,598.92 415.03,597.80 417.20,597.30 C419.37,596.80 422.08,596.78 425.00,596.50 C427.92,596.22 432.20,595.65 434.70,595.60 C437.20,595.55 438.05,596.12 440.00,596.20 C441.95,596.28 443.97,596.58 446.40,596.10 C448.83,595.62 452.33,593.68 454.60,593.30 C456.87,592.92 457.85,593.33 460.00,593.80 C462.15,594.27 465.08,595.33 467.50,596.10 C469.92,596.87 472.75,597.75 474.50,598.40 C476.25,599.05 476.65,598.92 478.00,600.00 C479.35,601.08 480.60,603.52 482.60,604.85 C484.60,606.18 487.15,606.92 490.00,608.00 C492.85,609.08 497.20,611.63 499.70,611.30 C502.20,610.97 503.15,607.68 505.00,606.00 C506.85,604.32 508.63,602.37 510.80,601.20 C512.97,600.03 515.30,599.68 518.00,599.00 C520.70,598.32 523.25,597.63 527.00,597.10 C530.75,596.57 536.90,595.80 540.50,595.80 C544.10,595.80 545.90,597.33 548.60,597.10 C551.30,596.87 554.22,594.97 556.70,594.40 C559.18,593.83 561.25,594.60 563.50,593.70 C565.75,592.80 567.73,590.23 570.20,589.00 C572.67,587.77 574.70,586.75 578.30,586.30 C581.90,585.85 588.85,586.52 591.80,586.30 C594.75,586.08 594.63,585.45 596.00,585.00 C597.37,584.55 598.67,583.43 600.00,583.60 C601.33,583.77 602.57,585.77 604.00,586.00 C605.43,586.23 607.03,587.15 608.60,584.95 C610.17,582.75 611.70,575.27 613.40,572.80 C615.10,570.32 616.77,571.00 618.80,570.10 C620.83,569.20 623.35,567.17 625.60,567.40 C627.85,567.63 630.07,571.05 632.30,571.50 C634.53,571.95 637.22,569.68 639.00,570.10 C640.78,570.52 641.63,572.57 643.00,574.00 C644.37,575.43 645.38,578.22 647.20,578.70 C649.02,579.18 651.88,577.35 653.90,576.90 C655.92,576.45 656.82,575.55 659.30,576.00 C661.78,576.45 667.22,579.00 668.80,579.60 L668.8,627.2 L406.7,627.2 Z" fill="#c000c0" clip-path="url(#msc16)"/><path d="M406.70,600.80 C407.58,600.58 410.25,600.08 412.00,599.50 C413.75,598.92 415.03,597.80 417.20,597.30 C419.37,596.80 422.08,596.78 425.00,596.50 C427.92,596.22 432.20,595.65 434.70,595.60 C437.20,595.55 438.05,596.12 440.00,596.20 C441.95,596.28 443.97,596.58 446.40,596.10 C448.83,595.62 452.33,593.68 454.60,593.30 C456.87,592.92 457.85,593.33 460.00,593.80 C462.15,594.27 465.08,595.33 467.50,596.10 C469.92,596.87 472.75,597.75 474.50,598.40 C476.25,599.05 476.65,598.92 478.00,600.00 C479.35,601.08 480.60,603.52 482.60,604.85 C484.60,606.18 487.15,606.92 490.00,608.00 C492.85,609.08 497.20,611.63 499.70,611.30 C502.20,610.97 503.15,607.68 505.00,606.00 C506.85,604.32 508.63,602.37 510.80,601.20 C512.97,600.03 515.30,599.68 518.00,599.00 C520.70,598.32 523.25,597.63 527.00,597.10 C530.75,596.57 536.90,595.80 540.50,595.80 C544.10,595.80 545.90,597.33 548.60,597.10 C551.30,596.87 554.22,594.97 556.70,594.40 C559.18,593.83 561.25,594.60 563.50,593.70 C565.75,592.80 567.73,590.23 570.20,589.00 C572.67,587.77 574.70,586.75 578.30,586.30 C581.90,585.85 588.85,586.52 591.80,586.30 C594.75,586.08 594.63,585.45 596.00,585.00 C597.37,584.55 598.67,583.43 600.00,583.60 C601.33,583.77 602.57,585.77 604.00,586.00 C605.43,586.23 607.03,587.15 608.60,584.95 C610.17,582.75 611.70,575.27 613.40,572.80 C615.10,570.32 616.77,571.00 618.80,570.10 C620.83,569.20 623.35,567.17 625.60,567.40 C627.85,567.63 630.07,571.05 632.30,571.50 C634.53,571.95 637.22,569.68 639.00,570.10 C640.78,570.52 641.63,572.57 643.00,574.00 C644.37,575.43 645.38,578.22 647.20,578.70 C649.02,579.18 651.88,577.35 653.90,576.90 C655.92,576.45 656.82,575.55 659.30,576.00 C661.78,576.45 667.22,579.00 668.80,579.60 L668.8,627.2 L406.7,627.2 Z" fill="#c0c000" clip-path="url(#msc17)"/><path d="M406.70,599.70 C407.58,599.48 410.25,598.98 412.00,598.40 C413.75,597.82 415.03,596.70 417.20,596.20 C419.37,595.70 422.08,595.68 425.00,595.40 C427.92,595.12 432.20,594.55 434.70,594.50 C437.20,594.45 438.05,595.02 440.00,595.10 C441.95,595.18 443.97,595.48 446.40,595.00 C448.83,594.52 452.33,592.58 454.60,592.20 C456.87,591.82 457.85,592.23 460.00,592.70 C462.15,593.17 465.08,594.23 467.50,595.00 C469.92,595.77 472.75,596.65 474.50,597.30 C476.25,597.95 476.65,597.83 478.00,598.90 C479.35,599.97 480.60,602.42 482.60,603.75 C484.60,605.08 487.15,605.82 490.00,606.90 C492.85,607.98 497.20,610.53 499.70,610.20 C502.20,609.87 503.15,606.58 505.00,604.90 C506.85,603.22 508.63,601.27 510.80,600.10 C512.97,598.93 515.30,598.58 518.00,597.90 C520.70,597.22 523.25,596.53 527.00,596.00 C530.75,595.47 536.90,594.70 540.50,594.70 C544.10,594.70 545.90,596.23 548.60,596.00 C551.30,595.77 554.22,593.87 556.70,593.30 C559.18,592.73 561.25,593.50 563.50,592.60 C565.75,591.70 567.73,589.13 570.20,587.90 C572.67,586.67 574.70,585.65 578.30,585.20 C581.90,584.75 588.85,585.42 591.80,585.20 C594.75,584.98 594.63,584.35 596.00,583.90 C597.37,583.45 598.67,582.33 600.00,582.50 C601.33,582.67 602.57,584.67 604.00,584.90 C605.43,585.12 607.03,586.05 608.60,583.85 C610.17,581.65 611.70,574.17 613.40,571.70 C615.10,569.22 616.77,569.90 618.80,569.00 C620.83,568.10 623.35,566.07 625.60,566.30 C627.85,566.53 630.07,569.95 632.30,570.40 C634.53,570.85 637.22,568.58 639.00,569.00 C640.78,569.42 641.63,571.47 643.00,572.90 C644.37,574.33 645.38,577.12 647.20,577.60 C649.02,578.08 651.88,576.25 653.90,575.80 C655.92,575.35 656.82,574.45 659.30,574.90 C661.78,575.35 667.22,577.90 668.80,578.50" fill="none" stroke="#9a9a9a" stroke-width="0.8"/><line x1="563.5" y1="543.6" x2="563.5" y2="628.7" stroke="#c21e1e" stroke-width="1.4"/><text x="414.04" y="557.10" font-size="12.80" font-weight="bold" textLength="86.02" lengthAdjust="spacing" >Mono-syllabic</text><text x="381.90" y="549.20" font-size="13.20" textLength="18.33" lengthAdjust="spacing" >4.5</text><text x="392.17" y="631.00" font-size="13.20" >0</text><text transform="translate(381.53,594.43) rotate(-90)" font-size="12.60">GFP</text>
<line x1="405.5" y1="654.0" x2="405.5" y2="737.0" stroke="#c8c8c8" stroke-width="0.8"/><line x1="405.5" y1="654.00" x2="407.0" y2="654.00" stroke="#aaa" stroke-width="0.6"/><line x1="405.5" y1="663.22" x2="407.0" y2="663.22" stroke="#aaa" stroke-width="0.6"/><line x1="405.5" y1="672.44" x2="407.0" y2="672.44" stroke="#aaa" stroke-width="0.6"/><line x1="405.5" y1="681.67" x2="407.0" y2="681.67" stroke="#aaa" stroke-width="0.6"/><line x1="405.5" y1="690.89" x2="407.0" y2="690.89" stroke="#aaa" stroke-width="0.6"/><line x1="405.5" y1="700.11" x2="407.0" y2="700.11" stroke="#aaa" stroke-width="0.6"/><line x1="405.5" y1="709.33" x2="407.0" y2="709.33" stroke="#aaa" stroke-width="0.6"/><line x1="405.5" y1="718.56" x2="407.0" y2="718.56" stroke="#aaa" stroke-width="0.6"/><line x1="405.5" y1="727.78" x2="407.0" y2="727.78" stroke="#aaa" stroke-width="0.6"/><line x1="405.5" y1="737.00" x2="407.0" y2="737.00" stroke="#aaa" stroke-width="0.6"/><path d="M405.50,708.40 C406.75,708.25 410.47,707.88 413.00,707.50 C415.53,707.12 417.87,705.87 420.70,706.10 C423.53,706.33 426.48,708.43 430.00,708.90 C433.52,709.37 438.97,709.38 441.80,708.90 C444.63,708.42 445.07,706.90 447.00,706.00 C448.93,705.10 451.55,703.92 453.40,703.50 C455.25,703.08 455.95,704.15 458.10,703.50 C460.25,702.85 463.98,700.10 466.30,699.60 C468.62,699.10 470.05,700.12 472.00,700.50 C473.95,700.88 476.17,701.32 478.00,701.90 C479.83,702.48 481.25,702.92 483.00,704.00 C484.75,705.08 486.42,707.20 488.50,708.40 C490.58,709.60 493.75,710.27 495.50,711.20 C497.25,712.13 498.05,712.70 499.00,714.00 C499.95,715.30 499.37,718.20 501.20,719.00 C503.03,719.80 506.73,718.80 510.00,718.80 C513.27,718.80 517.75,719.65 520.80,719.00 C523.85,718.35 525.93,715.82 528.30,714.90 C530.67,713.98 532.47,713.87 535.00,713.50 C537.53,713.13 541.33,712.70 543.50,712.70 C545.67,712.70 546.37,713.23 548.00,713.50 C549.63,713.77 551.63,714.38 553.30,714.30 C554.97,714.22 556.25,713.36 558.00,713.00 C559.75,712.64 562.13,712.65 563.80,712.15 C565.47,711.65 566.07,711.16 568.00,710.00 C569.93,708.84 572.77,706.23 575.40,705.20 C578.03,704.17 581.37,704.25 583.80,703.80 C586.23,703.35 588.13,703.05 590.00,702.50 C591.87,701.95 593.50,700.98 595.00,700.50 C596.50,700.02 597.33,700.10 599.00,699.60 C600.67,699.10 602.92,698.18 605.00,697.50 C607.08,696.82 609.27,696.75 611.50,695.50 C613.73,694.25 616.08,690.55 618.40,690.00 C620.72,689.45 623.80,692.37 625.40,692.20 C627.00,692.03 626.98,690.22 628.00,689.00 C629.02,687.78 630.50,685.07 631.50,684.90 C632.50,684.73 633.17,686.47 634.00,688.00 C634.83,689.53 635.50,692.10 636.50,694.10 C637.50,696.10 638.62,698.15 640.00,700.00 C641.38,701.85 642.85,703.18 644.80,705.20 C646.75,707.22 649.83,710.88 651.70,712.10 C653.57,713.32 654.38,712.58 656.00,712.50 C657.62,712.42 659.33,711.90 661.40,711.60 C663.47,711.30 667.23,710.85 668.40,710.70 L668.4,737.0 L405.5,737.0 Z" fill="#0000ff" clip-path="url(#msc18)"/><path d="M405.50,708.40 C406.75,708.25 410.47,707.88 413.00,707.50 C415.53,707.12 417.87,705.87 420.70,706.10 C423.53,706.33 426.48,708.43 430.00,708.90 C433.52,709.37 438.97,709.38 441.80,708.90 C444.63,708.42 445.07,706.90 447.00,706.00 C448.93,705.10 451.55,703.92 453.40,703.50 C455.25,703.08 455.95,704.15 458.10,703.50 C460.25,702.85 463.98,700.10 466.30,699.60 C468.62,699.10 470.05,700.12 472.00,700.50 C473.95,700.88 476.17,701.32 478.00,701.90 C479.83,702.48 481.25,702.92 483.00,704.00 C484.75,705.08 486.42,707.20 488.50,708.40 C490.58,709.60 493.75,710.27 495.50,711.20 C497.25,712.13 498.05,712.70 499.00,714.00 C499.95,715.30 499.37,718.20 501.20,719.00 C503.03,719.80 506.73,718.80 510.00,718.80 C513.27,718.80 517.75,719.65 520.80,719.00 C523.85,718.35 525.93,715.82 528.30,714.90 C530.67,713.98 532.47,713.87 535.00,713.50 C537.53,713.13 541.33,712.70 543.50,712.70 C545.67,712.70 546.37,713.23 548.00,713.50 C549.63,713.77 551.63,714.38 553.30,714.30 C554.97,714.22 556.25,713.36 558.00,713.00 C559.75,712.64 562.13,712.65 563.80,712.15 C565.47,711.65 566.07,711.16 568.00,710.00 C569.93,708.84 572.77,706.23 575.40,705.20 C578.03,704.17 581.37,704.25 583.80,703.80 C586.23,703.35 588.13,703.05 590.00,702.50 C591.87,701.95 593.50,700.98 595.00,700.50 C596.50,700.02 597.33,700.10 599.00,699.60 C600.67,699.10 602.92,698.18 605.00,697.50 C607.08,696.82 609.27,696.75 611.50,695.50 C613.73,694.25 616.08,690.55 618.40,690.00 C620.72,689.45 623.80,692.37 625.40,692.20 C627.00,692.03 626.98,690.22 628.00,689.00 C629.02,687.78 630.50,685.07 631.50,684.90 C632.50,684.73 633.17,686.47 634.00,688.00 C634.83,689.53 635.50,692.10 636.50,694.10 C637.50,696.10 638.62,698.15 640.00,700.00 C641.38,701.85 642.85,703.18 644.80,705.20 C646.75,707.22 649.83,710.88 651.70,712.10 C653.57,713.32 654.38,712.58 656.00,712.50 C657.62,712.42 659.33,711.90 661.40,711.60 C663.47,711.30 667.23,710.85 668.40,710.70 L668.4,737.0 L405.5,737.0 Z" fill="#008000" clip-path="url(#msc19)"/><path d="M405.50,708.40 C406.75,708.25 410.47,707.88 413.00,707.50 C415.53,707.12 417.87,705.87 420.70,706.10 C423.53,706.33 426.48,708.43 430.00,708.90 C433.52,709.37 438.97,709.38 441.80,708.90 C444.63,708.42 445.07,706.90 447.00,706.00 C448.93,705.10 451.55,703.92 453.40,703.50 C455.25,703.08 455.95,704.15 458.10,703.50 C460.25,702.85 463.98,700.10 466.30,699.60 C468.62,699.10 470.05,700.12 472.00,700.50 C473.95,700.88 476.17,701.32 478.00,701.90 C479.83,702.48 481.25,702.92 483.00,704.00 C484.75,705.08 486.42,707.20 488.50,708.40 C490.58,709.60 493.75,710.27 495.50,711.20 C497.25,712.13 498.05,712.70 499.00,714.00 C499.95,715.30 499.37,718.20 501.20,719.00 C503.03,719.80 506.73,718.80 510.00,718.80 C513.27,718.80 517.75,719.65 520.80,719.00 C523.85,718.35 525.93,715.82 528.30,714.90 C530.67,713.98 532.47,713.87 535.00,713.50 C537.53,713.13 541.33,712.70 543.50,712.70 C545.67,712.70 546.37,713.23 548.00,713.50 C549.63,713.77 551.63,714.38 553.30,714.30 C554.97,714.22 556.25,713.36 558.00,713.00 C559.75,712.64 562.13,712.65 563.80,712.15 C565.47,711.65 566.07,711.16 568.00,710.00 C569.93,708.84 572.77,706.23 575.40,705.20 C578.03,704.17 581.37,704.25 583.80,703.80 C586.23,703.35 588.13,703.05 590.00,702.50 C591.87,701.95 593.50,700.98 595.00,700.50 C596.50,700.02 597.33,700.10 599.00,699.60 C600.67,699.10 602.92,698.18 605.00,697.50 C607.08,696.82 609.27,696.75 611.50,695.50 C613.73,694.25 616.08,690.55 618.40,690.00 C620.72,689.45 623.80,692.37 625.40,692.20 C627.00,692.03 626.98,690.22 628.00,689.00 C629.02,687.78 630.50,685.07 631.50,684.90 C632.50,684.73 633.17,686.47 634.00,688.00 C634.83,689.53 635.50,692.10 636.50,694.10 C637.50,696.10 638.62,698.15 640.00,700.00 C641.38,701.85 642.85,703.18 644.80,705.20 C646.75,707.22 649.83,710.88 651.70,712.10 C653.57,713.32 654.38,712.58 656.00,712.50 C657.62,712.42 659.33,711.90 661.40,711.60 C663.47,711.30 667.23,710.85 668.40,710.70 L668.4,737.0 L405.5,737.0 Z" fill="#ff0000" clip-path="url(#msc20)"/><path d="M405.50,708.40 C406.75,708.25 410.47,707.88 413.00,707.50 C415.53,707.12 417.87,705.87 420.70,706.10 C423.53,706.33 426.48,708.43 430.00,708.90 C433.52,709.37 438.97,709.38 441.80,708.90 C444.63,708.42 445.07,706.90 447.00,706.00 C448.93,705.10 451.55,703.92 453.40,703.50 C455.25,703.08 455.95,704.15 458.10,703.50 C460.25,702.85 463.98,700.10 466.30,699.60 C468.62,699.10 470.05,700.12 472.00,700.50 C473.95,700.88 476.17,701.32 478.00,701.90 C479.83,702.48 481.25,702.92 483.00,704.00 C484.75,705.08 486.42,707.20 488.50,708.40 C490.58,709.60 493.75,710.27 495.50,711.20 C497.25,712.13 498.05,712.70 499.00,714.00 C499.95,715.30 499.37,718.20 501.20,719.00 C503.03,719.80 506.73,718.80 510.00,718.80 C513.27,718.80 517.75,719.65 520.80,719.00 C523.85,718.35 525.93,715.82 528.30,714.90 C530.67,713.98 532.47,713.87 535.00,713.50 C537.53,713.13 541.33,712.70 543.50,712.70 C545.67,712.70 546.37,713.23 548.00,713.50 C549.63,713.77 551.63,714.38 553.30,714.30 C554.97,714.22 556.25,713.36 558.00,713.00 C559.75,712.64 562.13,712.65 563.80,712.15 C565.47,711.65 566.07,711.16 568.00,710.00 C569.93,708.84 572.77,706.23 575.40,705.20 C578.03,704.17 581.37,704.25 583.80,703.80 C586.23,703.35 588.13,703.05 590.00,702.50 C591.87,701.95 593.50,700.98 595.00,700.50 C596.50,700.02 597.33,700.10 599.00,699.60 C600.67,699.10 602.92,698.18 605.00,697.50 C607.08,696.82 609.27,696.75 611.50,695.50 C613.73,694.25 616.08,690.55 618.40,690.00 C620.72,689.45 623.80,692.37 625.40,692.20 C627.00,692.03 626.98,690.22 628.00,689.00 C629.02,687.78 630.50,685.07 631.50,684.90 C632.50,684.73 633.17,686.47 634.00,688.00 C634.83,689.53 635.50,692.10 636.50,694.10 C637.50,696.10 638.62,698.15 640.00,700.00 C641.38,701.85 642.85,703.18 644.80,705.20 C646.75,707.22 649.83,710.88 651.70,712.10 C653.57,713.32 654.38,712.58 656.00,712.50 C657.62,712.42 659.33,711.90 661.40,711.60 C663.47,711.30 667.23,710.85 668.40,710.70 L668.4,737.0 L405.5,737.0 Z" fill="#00c0c0" clip-path="url(#msc21)"/><path d="M405.50,708.40 C406.75,708.25 410.47,707.88 413.00,707.50 C415.53,707.12 417.87,705.87 420.70,706.10 C423.53,706.33 426.48,708.43 430.00,708.90 C433.52,709.37 438.97,709.38 441.80,708.90 C444.63,708.42 445.07,706.90 447.00,706.00 C448.93,705.10 451.55,703.92 453.40,703.50 C455.25,703.08 455.95,704.15 458.10,703.50 C460.25,702.85 463.98,700.10 466.30,699.60 C468.62,699.10 470.05,700.12 472.00,700.50 C473.95,700.88 476.17,701.32 478.00,701.90 C479.83,702.48 481.25,702.92 483.00,704.00 C484.75,705.08 486.42,707.20 488.50,708.40 C490.58,709.60 493.75,710.27 495.50,711.20 C497.25,712.13 498.05,712.70 499.00,714.00 C499.95,715.30 499.37,718.20 501.20,719.00 C503.03,719.80 506.73,718.80 510.00,718.80 C513.27,718.80 517.75,719.65 520.80,719.00 C523.85,718.35 525.93,715.82 528.30,714.90 C530.67,713.98 532.47,713.87 535.00,713.50 C537.53,713.13 541.33,712.70 543.50,712.70 C545.67,712.70 546.37,713.23 548.00,713.50 C549.63,713.77 551.63,714.38 553.30,714.30 C554.97,714.22 556.25,713.36 558.00,713.00 C559.75,712.64 562.13,712.65 563.80,712.15 C565.47,711.65 566.07,711.16 568.00,710.00 C569.93,708.84 572.77,706.23 575.40,705.20 C578.03,704.17 581.37,704.25 583.80,703.80 C586.23,703.35 588.13,703.05 590.00,702.50 C591.87,701.95 593.50,700.98 595.00,700.50 C596.50,700.02 597.33,700.10 599.00,699.60 C600.67,699.10 602.92,698.18 605.00,697.50 C607.08,696.82 609.27,696.75 611.50,695.50 C613.73,694.25 616.08,690.55 618.40,690.00 C620.72,689.45 623.80,692.37 625.40,692.20 C627.00,692.03 626.98,690.22 628.00,689.00 C629.02,687.78 630.50,685.07 631.50,684.90 C632.50,684.73 633.17,686.47 634.00,688.00 C634.83,689.53 635.50,692.10 636.50,694.10 C637.50,696.10 638.62,698.15 640.00,700.00 C641.38,701.85 642.85,703.18 644.80,705.20 C646.75,707.22 649.83,710.88 651.70,712.10 C653.57,713.32 654.38,712.58 656.00,712.50 C657.62,712.42 659.33,711.90 661.40,711.60 C663.47,711.30 667.23,710.85 668.40,710.70 L668.4,737.0 L405.5,737.0 Z" fill="#c000c0" clip-path="url(#msc22)"/><path d="M405.50,708.40 C406.75,708.25 410.47,707.88 413.00,707.50 C415.53,707.12 417.87,705.87 420.70,706.10 C423.53,706.33 426.48,708.43 430.00,708.90 C433.52,709.37 438.97,709.38 441.80,708.90 C444.63,708.42 445.07,706.90 447.00,706.00 C448.93,705.10 451.55,703.92 453.40,703.50 C455.25,703.08 455.95,704.15 458.10,703.50 C460.25,702.85 463.98,700.10 466.30,699.60 C468.62,699.10 470.05,700.12 472.00,700.50 C473.95,700.88 476.17,701.32 478.00,701.90 C479.83,702.48 481.25,702.92 483.00,704.00 C484.75,705.08 486.42,707.20 488.50,708.40 C490.58,709.60 493.75,710.27 495.50,711.20 C497.25,712.13 498.05,712.70 499.00,714.00 C499.95,715.30 499.37,718.20 501.20,719.00 C503.03,719.80 506.73,718.80 510.00,718.80 C513.27,718.80 517.75,719.65 520.80,719.00 C523.85,718.35 525.93,715.82 528.30,714.90 C530.67,713.98 532.47,713.87 535.00,713.50 C537.53,713.13 541.33,712.70 543.50,712.70 C545.67,712.70 546.37,713.23 548.00,713.50 C549.63,713.77 551.63,714.38 553.30,714.30 C554.97,714.22 556.25,713.36 558.00,713.00 C559.75,712.64 562.13,712.65 563.80,712.15 C565.47,711.65 566.07,711.16 568.00,710.00 C569.93,708.84 572.77,706.23 575.40,705.20 C578.03,704.17 581.37,704.25 583.80,703.80 C586.23,703.35 588.13,703.05 590.00,702.50 C591.87,701.95 593.50,700.98 595.00,700.50 C596.50,700.02 597.33,700.10 599.00,699.60 C600.67,699.10 602.92,698.18 605.00,697.50 C607.08,696.82 609.27,696.75 611.50,695.50 C613.73,694.25 616.08,690.55 618.40,690.00 C620.72,689.45 623.80,692.37 625.40,692.20 C627.00,692.03 626.98,690.22 628.00,689.00 C629.02,687.78 630.50,685.07 631.50,684.90 C632.50,684.73 633.17,686.47 634.00,688.00 C634.83,689.53 635.50,692.10 636.50,694.10 C637.50,696.10 638.62,698.15 640.00,700.00 C641.38,701.85 642.85,703.18 644.80,705.20 C646.75,707.22 649.83,710.88 651.70,712.10 C653.57,713.32 654.38,712.58 656.00,712.50 C657.62,712.42 659.33,711.90 661.40,711.60 C663.47,711.30 667.23,710.85 668.40,710.70 L668.4,737.0 L405.5,737.0 Z" fill="#c0c000" clip-path="url(#msc23)"/><path d="M405.50,707.30 C406.75,707.15 410.47,706.78 413.00,706.40 C415.53,706.02 417.87,704.77 420.70,705.00 C423.53,705.23 426.48,707.33 430.00,707.80 C433.52,708.27 438.97,708.28 441.80,707.80 C444.63,707.32 445.07,705.80 447.00,704.90 C448.93,704.00 451.55,702.82 453.40,702.40 C455.25,701.98 455.95,703.05 458.10,702.40 C460.25,701.75 463.98,699.00 466.30,698.50 C468.62,698.00 470.05,699.02 472.00,699.40 C473.95,699.78 476.17,700.22 478.00,700.80 C479.83,701.38 481.25,701.82 483.00,702.90 C484.75,703.98 486.42,706.10 488.50,707.30 C490.58,708.50 493.75,709.17 495.50,710.10 C497.25,711.03 498.05,711.60 499.00,712.90 C499.95,714.20 499.37,717.10 501.20,717.90 C503.03,718.70 506.73,717.70 510.00,717.70 C513.27,717.70 517.75,718.55 520.80,717.90 C523.85,717.25 525.93,714.72 528.30,713.80 C530.67,712.88 532.47,712.77 535.00,712.40 C537.53,712.03 541.33,711.60 543.50,711.60 C545.67,711.60 546.37,712.13 548.00,712.40 C549.63,712.67 551.63,713.28 553.30,713.20 C554.97,713.12 556.25,712.26 558.00,711.90 C559.75,711.54 562.13,711.55 563.80,711.05 C565.47,710.55 566.07,710.06 568.00,708.90 C569.93,707.74 572.77,705.13 575.40,704.10 C578.03,703.07 581.37,703.15 583.80,702.70 C586.23,702.25 588.13,701.95 590.00,701.40 C591.87,700.85 593.50,699.88 595.00,699.40 C596.50,698.92 597.33,699.00 599.00,698.50 C600.67,698.00 602.92,697.08 605.00,696.40 C607.08,695.72 609.27,695.65 611.50,694.40 C613.73,693.15 616.08,689.45 618.40,688.90 C620.72,688.35 623.80,691.27 625.40,691.10 C627.00,690.93 626.98,689.12 628.00,687.90 C629.02,686.68 630.50,683.97 631.50,683.80 C632.50,683.63 633.17,685.37 634.00,686.90 C634.83,688.43 635.50,691.00 636.50,693.00 C637.50,695.00 638.62,697.05 640.00,698.90 C641.38,700.75 642.85,702.08 644.80,704.10 C646.75,706.12 649.83,709.78 651.70,711.00 C653.57,712.22 654.38,711.48 656.00,711.40 C657.62,711.32 659.33,710.80 661.40,710.50 C663.47,710.20 667.23,709.75 668.40,709.60" fill="none" stroke="#9a9a9a" stroke-width="0.8"/><line x1="563.3" y1="654.0" x2="563.3" y2="738.5" stroke="#c21e1e" stroke-width="1.4"/><text x="412.44" y="666.30" font-size="12.80" font-weight="bold" textLength="58.94" lengthAdjust="spacing" >Disyllabic</text><text x="377.90" y="661.00" font-size="13.20" textLength="18.83" lengthAdjust="spacing" >4.5</text><text x="387.47" y="745.00" font-size="13.20" >0</text><text transform="translate(377.63,707.23) rotate(-90)" font-size="12.60">GFP</text>
<rect x="584.0" y="543.6" width="26.7" height="193.4" fill="rgb(0,30,5)" fill-opacity="0.15"/>
<rect x="610.7" y="543.6" width="42.4" height="193.4" fill="rgb(210,90,100)" fill-opacity="0.26"/>
<line x1="584" y1="654" x2="653.1" y2="654" stroke="#fff" stroke-width="0.6" opacity="0.7"/>
<text transform="translate(585.01,554.60) scale(0.9054,1)" font-size="9.20" fill="#2a2a2a">P1</text>
<text transform="translate(612.12,554.60) scale(0.8904,1)" font-size="9.20" fill="#2a2a2a">N1</text>
<text x="36.96" y="760.80" font-size="13.20" textLength="26.66" lengthAdjust="spacing" >-300</text>
<text x="203.77" y="760.80" font-size="13.20" >0</text>
<text x="299.94" y="760.80" font-size="13.20" textLength="22.57" lengthAdjust="spacing" >200</text>
<text x="170.57" y="777.00" font-size="12.80" textLength="25.24" lengthAdjust="spacing" >[ms]</text>
<text x="392.86" y="760.80" font-size="13.20" textLength="26.66" lengthAdjust="spacing" >-300</text>
<text x="559.57" y="760.80" font-size="13.20" >0</text>
<text x="656.04" y="760.80" font-size="13.20" textLength="22.57" lengthAdjust="spacing" >200</text>
<text x="526.07" y="777.00" font-size="12.80" textLength="25.24" lengthAdjust="spacing" >[ms]</text>
<rect x="40.4" y="794.1" width="33.3" height="33.5" fill="#fff" stroke="#0000ff" stroke-width="2"/><g transform="translate(56.9,810.85)"><g clip-path="url(#tclip)"><circle r="15.5" fill="#5252ce"/><ellipse cx="2.2" cy="3.0" rx="14.8" ry="14.4" fill="#6c6cd8" stroke="#555" stroke-width="0.35" stroke-opacity="0.75"/><ellipse cx="3.0" cy="4.5" rx="13.8" ry="13.4" fill="#8686e0" stroke="#555" stroke-width="0.35" stroke-opacity="0.75"/><ellipse cx="3.2" cy="6.0" rx="12.8" ry="12.4" fill="#a0a0e8" stroke="#555" stroke-width="0.35" stroke-opacity="0.75"/><ellipse cx="2.8" cy="7.5" rx="12.0" ry="11.6" fill="#bcbcf2" stroke="#555" stroke-width="0.35" stroke-opacity="0.75"/><ellipse cx="2.2" cy="9.0" rx="11.6" ry="11.0" fill="#d8d8f8" stroke="#555" stroke-width="0.35" stroke-opacity="0.75"/><path d="M-8.0,8 C-8.0,1 -4.5,-4.5 1.5,-4.8 C7,-5 10.5,0 10.5,7 C10.5,13 6.5,17 1.5,17 C-3.5,17 -8.0,14 -8.0,8 Z" fill="#fadcdc" stroke="#555" stroke-width="0.35" stroke-opacity="0.75"/><path d="M-5.6,7.2 C-5.6,2 -2.6,-2 1.4,-2.2 C5.4,-2.4 7.4,2 7.4,7 C7.4,11 5,13.4 1.4,13.4 C-2.6,13.4 -5.6,11 -5.6,7.2 Z" fill="#f8c0c0" stroke="#555" stroke-width="0.35" stroke-opacity="0.75"/><path d="M-4.8,7.5 C-4.8,5.3 -2.4,4.6 -0.2,4.8 C1.4,3.4 4.2,3 5.3,4.8 C6.6,6.6 6,9.6 4.4,10.4 C2.4,11.3 -0.6,11.1 -2.8,10.5 C-4.3,10 -4.8,9 -4.8,7.5 Z" fill="#f49494" stroke="#555" stroke-width="0.35" stroke-opacity="0.75"/></g><circle r="14.9" fill="none" stroke="#444" stroke-width="0.5"/></g>
<rect x="89.05" y="794.1" width="33.3" height="33.5" fill="#fff" stroke="#008000" stroke-width="2"/><g transform="translate(105.55,810.85)"><g clip-path="url(#tclip)"><circle r="15.5" fill="#fbe2e2"/><path d="M-16.00,1.90 L-14.93,1.83 L-13.87,1.27 L-12.80,0.70 L-11.73,0.65 L-10.67,0.89 L-9.60,0.81 L-8.53,0.29 L-7.47,-0.13 L-6.40,-0.02 L-5.33,0.30 L-4.27,0.21 L-3.20,-0.26 L-2.13,-0.51 L-1.07,-0.24 L0.00,0.12 L1.07,0.03 L2.13,-0.37 L3.20,-0.45 L4.27,-0.04 L5.33,0.36 L6.40,0.27 L7.47,-0.04 L8.53,0.05 L9.60,0.59 L10.67,1.01 L11.73,0.93 L12.80,0.74 L13.87,1.00 L14.93,1.65 L16.00,2.07 L16,-17 L-16,-17 Z" fill="#d4d4f8" stroke="#555" stroke-width="0.35" stroke-opacity="0.75"/><path d="M-16.00,-1.67 L-14.93,-1.67 L-13.87,-2.16 L-12.80,-2.66 L-11.73,-2.66 L-10.67,-2.36 L-9.60,-2.39 L-8.53,-2.87 L-7.47,-3.25 L-6.40,-3.11 L-5.33,-2.77 L-4.27,-2.83 L-3.20,-3.28 L-2.13,-3.52 L-1.07,-3.25 L0.00,-2.88 L1.07,-2.97 L2.13,-3.38 L3.20,-3.48 L4.27,-3.08 L5.33,-2.71 L6.40,-2.82 L7.47,-3.16 L8.53,-3.11 L9.60,-2.61 L10.67,-2.24 L11.73,-2.38 L12.80,-2.63 L13.87,-2.43 L14.93,-1.84 L16.00,-1.49 L16,-17 L-16,-17 Z" fill="#b6b6f0" stroke="#555" stroke-width="0.35" stroke-opacity="0.75"/><path d="M-16.00,-4.69 L-14.93,-4.72 L-13.87,-5.16 L-12.80,-5.61 L-11.73,-5.63 L-10.67,-5.40 L-9.60,-5.44 L-8.53,-5.86 L-7.47,-6.20 L-6.40,-6.09 L-5.33,-5.81 L-4.27,-5.87 L-3.20,-6.26 L-2.13,-6.47 L-1.07,-6.24 L0.00,-5.93 L1.07,-6.00 L2.13,-6.35 L3.20,-6.43 L4.27,-6.08 L5.33,-5.75 L6.40,-5.84 L7.47,-6.12 L8.53,-6.07 L9.60,-5.62 L10.67,-5.29 L11.73,-5.39 L12.80,-5.59 L13.87,-5.39 L14.93,-4.87 L16.00,-4.54 L16,-17 L-16,-17 Z" fill="#9898e8" stroke="#555" stroke-width="0.35" stroke-opacity="0.75"/><path d="M-16.00,-7.72 L-14.93,-7.72 L-13.87,-8.13 L-12.80,-8.56 L-11.73,-8.55 L-10.67,-8.30 L-9.60,-8.32 L-8.53,-8.73 L-7.47,-9.05 L-6.40,-8.93 L-5.33,-8.63 L-4.27,-8.68 L-3.20,-9.07 L-2.13,-9.28 L-1.07,-9.04 L0.00,-8.73 L1.07,-8.80 L2.13,-9.15 L3.20,-9.24 L4.27,-8.90 L5.33,-8.58 L6.40,-8.68 L7.47,-8.97 L8.53,-8.93 L9.60,-8.51 L10.67,-8.19 L11.73,-8.31 L12.80,-8.53 L13.87,-8.36 L14.93,-7.86 L16.00,-7.57 L16,-17 L-16,-17 Z" fill="#7c7ce0" stroke="#555" stroke-width="0.35" stroke-opacity="0.75"/><path d="M-16.00,-10.82 L-14.93,-10.81 L-13.87,-11.08 L-12.80,-11.35 L-11.73,-11.34 L-10.67,-11.17 L-9.60,-11.17 L-8.53,-11.44 L-7.47,-11.65 L-6.40,-11.56 L-5.33,-11.36 L-4.27,-11.39 L-3.20,-11.65 L-2.13,-11.79 L-1.07,-11.63 L0.00,-11.42 L1.07,-11.47 L2.13,-11.70 L3.20,-11.76 L4.27,-11.54 L5.33,-11.33 L6.40,-11.40 L7.47,-11.60 L8.53,-11.58 L9.60,-11.30 L10.67,-11.10 L11.73,-11.18 L12.80,-11.34 L13.87,-11.23 L14.93,-10.91 L16.00,-10.72 L16,-17 L-16,-17 Z" fill="#6060d6" stroke="#555" stroke-width="0.35" stroke-opacity="0.75"/><path d="M-9,7 C-9,3.5 -4,1.8 1,1.8 C6,1.8 10.5,3.5 10.5,7 C10.5,11 6,13 1,13 C-4,13 -9,11 -9,7 Z" fill="#f8c6c6" stroke="#555" stroke-width="0.35" stroke-opacity="0.75"/><path d="M-4.8,6.3 C-4.5,5 -2,5.2 0,5.5 C2,5 4.5,4.6 5.5,5.5 C6,6.8 3.5,7.3 1.5,7.2 C1,8.5 0.3,9.2 -0.5,8.6 C-1,7.6 -2.5,7.4 -4,7.3 C-4.8,7.1 -5,6.8 -4.8,6.3 Z" fill="#f09090" stroke="#555" stroke-width="0.35" stroke-opacity="0.75"/></g><circle r="14.9" fill="none" stroke="#444" stroke-width="0.5"/></g>
<rect x="137.7" y="794.1" width="33.3" height="33.5" fill="#fff" stroke="#ff0000" stroke-width="2"/><g transform="translate(154.2,810.85)"><g clip-path="url(#tclip)"><circle r="15.5" fill="#fbe6e6"/><path d="M-13,4 C-9,3.5 -5,5.5 -2,6.5 C1,7.5 4,6 7,6.8 C10,7.6 12,8 14,9.5 L14,12 C9,10.5 4,11 0,11.5 C-5,12 -10,11 -13,9 Z" fill="#f8c8c8" stroke="#555" stroke-width="0.35" stroke-opacity="0.75"/><ellipse cx="12.8" cy="0.0" rx="4.0" ry="6.0" fill="#f8caca" stroke="#555" stroke-width="0.35" stroke-opacity="0.75"/><ellipse cx="13.6" cy="0.0" rx="3.0" ry="5.0" fill="#f4a4a4" stroke="#555" stroke-width="0.35" stroke-opacity="0.75"/><ellipse cx="-15.2" cy="-0.5" rx="6.4" ry="11.0" fill="#f2b4b4" stroke="#555" stroke-width="0.35" stroke-opacity="0.75"/><ellipse cx="-15.8" cy="-0.5" rx="5.6" ry="10.0" fill="#e88c8c" stroke="#555" stroke-width="0.35" stroke-opacity="0.75"/><ellipse cx="-16.4" cy="-0.5" rx="5.0" ry="9.0" fill="#dc6464" stroke="#555" stroke-width="0.35" stroke-opacity="0.75"/><path d="M-8.8,-16 L-8.3,-13.9 C-8.2,-10 -8,-6 -7.2,-2.3 C-6.8,0.5 -6.4,2.2 -4.5,3.2 C-2,3.8 1,3.3 3.3,2.2 C4.5,1 5,-0.6 5.8,-3 C6.5,-5.5 7.5,-8.5 8.9,-12.2 L10,-16 Z" fill="#d4d4f8" stroke="#555" stroke-width="0.35" stroke-opacity="0.75"/><path d="M-7.6,-16 C-7,-12 -5.5,-9.5 -3.5,-7.2 C-2.6,-6 -2.3,-4 -2.1,-2.3 C-1.8,-1.1 0,-0.9 0.8,-1.4 C1.3,-3 1.6,-5 2.6,-7.4 C3.6,-9.2 5.5,-10.8 7.6,-13.6 L8.5,-16 Z" fill="#b2b2f0" stroke="#555" stroke-width="0.35" stroke-opacity="0.75"/><path d="M-4,-16 C-3.5,-13 -2,-11 -1.3,-8.5 C-1,-6.5 0.6,-6.5 0.9,-8.5 C1.4,-11 3,-13 4,-16 Z" fill="#9494ea" stroke="#555" stroke-width="0.35" stroke-opacity="0.75"/><ellipse cx="0" cy="-15.0" rx="5.0" ry="2.4" fill="#7676e0" stroke="#555" stroke-width="0.35" stroke-opacity="0.75"/><ellipse cx="0" cy="15.6" rx="11.5" ry="4.3" fill="#c6c6f2" stroke="#555" stroke-width="0.35" stroke-opacity="0.75"/></g><circle r="14.9" fill="none" stroke="#444" stroke-width="0.5"/></g>
<rect x="186.35" y="794.1" width="33.3" height="33.5" fill="#fff" stroke="#00c0c0" stroke-width="2"/><g transform="translate(202.85,810.85)"><g clip-path="url(#tclip)"><circle r="15.5" fill="#dc5a5a"/><path d="M-13.60,3.00 L-13.48,0.39 L-13.14,-2.18 L-12.56,-4.65 L-11.78,-7.00 L-10.79,-9.18 L-9.62,-11.14 L-8.28,-12.87 L-6.80,-14.32 L-5.20,-15.48 L-3.52,-16.32 L-1.78,-16.83 L0.00,-17.00 L1.78,-16.83 L3.52,-16.32 L5.20,-15.48 L6.80,-14.32 L8.28,-12.87 L9.62,-11.14 L10.79,-9.18 L11.78,-7.00 L12.56,-4.65 L13.14,-2.18 L13.48,0.39 L13.60,3.00 L15.50,17 L-15.50,17 Z" fill="#e68080" stroke="#555" stroke-width="0.35" stroke-opacity="0.75"/><path d="M-12.00,3.00 L-11.90,0.57 L-11.59,-1.81 L-11.09,-4.12 L-10.39,-6.30 L-9.52,-8.32 L-8.49,-10.15 L-7.31,-11.76 L-6.00,-13.11 L-4.59,-14.18 L-3.11,-14.97 L-1.57,-15.44 L0.00,-15.60 L1.57,-15.44 L3.11,-14.97 L4.59,-14.18 L6.00,-13.11 L7.31,-11.76 L8.49,-10.15 L9.52,-8.32 L10.39,-6.30 L11.09,-4.12 L11.59,-1.81 L11.90,0.57 L12.00,3.00 L14.00,17 L-14.00,17 Z" fill="#efa2a2" stroke="#555" stroke-width="0.35" stroke-opacity="0.75"/><path d="M-10.60,3.00 L-10.51,0.75 L-10.24,-1.45 L-9.79,-3.58 L-9.18,-5.60 L-8.41,-7.47 L-7.50,-9.16 L-6.45,-10.65 L-5.30,-11.90 L-4.06,-12.89 L-2.74,-13.61 L-1.38,-14.05 L0.00,-14.20 L1.38,-14.05 L2.74,-13.61 L4.06,-12.89 L5.30,-11.90 L6.45,-10.65 L7.50,-9.16 L8.41,-7.47 L9.18,-5.60 L9.79,-3.58 L10.24,-1.45 L10.51,0.75 L10.60,3.00 L12.60,17 L-12.60,17 Z" fill="#f6c4c4" stroke="#555" stroke-width="0.35" stroke-opacity="0.75"/><path d="M-9.20,3.00 L-9.12,0.94 L-8.89,-1.09 L-8.50,-3.05 L-7.97,-4.90 L-7.30,-6.62 L-6.51,-8.17 L-5.60,-9.53 L-4.60,-10.68 L-3.52,-11.60 L-2.38,-12.26 L-1.20,-12.66 L0.00,-12.80 L1.20,-12.66 L2.38,-12.26 L3.52,-11.60 L4.60,-10.68 L5.60,-9.53 L6.51,-8.17 L7.30,-6.62 L7.97,-4.90 L8.50,-3.05 L8.89,-1.09 L9.12,0.94 L9.20,3.00 L11.20,17 L-11.20,17 Z" fill="#fbe0e0" stroke="#555" stroke-width="0.35" stroke-opacity="0.75"/><path d="M-7.20,2.00 L-7.14,0.25 L-6.95,-1.47 L-6.65,-3.13 L-6.24,-4.70 L-5.71,-6.16 L-5.09,-7.48 L-4.38,-8.63 L-3.60,-9.60 L-2.76,-10.38 L-1.86,-10.94 L-0.94,-11.29 L0.00,-11.40 L0.94,-11.29 L1.86,-10.94 L2.76,-10.38 L3.60,-9.60 L4.38,-8.63 L5.09,-7.48 L5.71,-6.16 L6.24,-4.70 L6.65,-3.13 L6.95,-1.47 L7.14,0.25 L7.20,2.00 L9.60,17 L-9.60,17 Z" fill="#dcdcf8" stroke="#555" stroke-width="0.35" stroke-opacity="0.75"/><path d="M-4,-2 C-4,-5.5 -2,-7 0.5,-7 C3,-7 4.2,-5.5 4.2,-2 C4.2,2 3,4.5 0.5,4.5 C-2,4.5 -4,2 -4,-2 Z" fill="#b2b2f2" stroke="#555" stroke-width="0.35" stroke-opacity="0.75"/><ellipse cx="0.2" cy="-1.8" rx="1.7" ry="2.2" fill="#8686e4" stroke="#555" stroke-width="0.35" stroke-opacity="0.75"/><path d="M0,12 C0,9.5 2.5,8.5 4.5,8.8 C6.5,9.2 7,11 6.5,13 L6,16 L0,16 Z" fill="#b2b2f2" stroke="#555" stroke-width="0.35" stroke-opacity="0.75"/></g><circle r="14.9" fill="none" stroke="#444" stroke-width="0.5"/></g>
<rect x="235.0" y="794.1" width="33.3" height="33.5" fill="#fff" stroke="#c000c0" stroke-width="2"/><g transform="translate(251.5,810.85)"><g clip-path="url(#tclip)"><circle r="15.5" fill="#d45454"/><path d="M-14.20,4.00 L-14.08,1.31 L-13.72,-1.33 L-13.12,-3.88 L-12.30,-6.30 L-11.27,-8.54 L-10.04,-10.57 L-8.64,-12.34 L-7.10,-13.84 L-5.43,-15.03 L-3.68,-15.90 L-1.85,-16.42 L0.00,-16.60 L1.85,-16.42 L3.68,-15.90 L5.43,-15.03 L7.10,-13.84 L8.64,-12.34 L10.04,-10.57 L11.27,-8.54 L12.30,-6.30 L13.12,-3.88 L13.72,-1.33 L14.08,1.31 L14.20,4.00 L15.50,17 L-15.50,17 Z" fill="#e07c7c" stroke="#555" stroke-width="0.35" stroke-opacity="0.75"/><path d="M-13.00,5.00 L-12.89,2.47 L-12.56,-0.02 L-12.01,-2.42 L-11.26,-4.70 L-10.31,-6.81 L-9.19,-8.72 L-7.91,-10.39 L-6.50,-11.80 L-4.97,-12.92 L-3.36,-13.74 L-1.70,-14.23 L0.00,-14.40 L1.70,-14.23 L3.36,-13.74 L4.97,-12.92 L6.50,-11.80 L7.91,-10.39 L9.19,-8.72 L10.31,-6.81 L11.26,-4.70 L12.01,-2.42 L12.56,-0.02 L12.89,2.47 L13.00,5.00 L14.50,17 L-14.50,17 Z" fill="#ea9e9e" stroke="#555" stroke-width="0.35" stroke-opacity="0.75"/><path d="M-12.00,6.00 L-11.90,3.65 L-11.59,1.34 L-11.09,-0.89 L-10.39,-3.00 L-9.52,-4.96 L-8.49,-6.73 L-7.31,-8.28 L-6.00,-9.59 L-4.59,-10.63 L-3.11,-11.39 L-1.57,-11.85 L0.00,-12.00 L1.57,-11.85 L3.11,-11.39 L4.59,-10.63 L6.00,-9.59 L7.31,-8.28 L8.49,-6.73 L9.52,-4.96 L10.39,-3.00 L11.09,-0.89 L11.59,1.34 L11.90,3.65 L12.00,6.00 L13.50,17 L-13.50,17 Z" fill="#f3bcbc" stroke="#555" stroke-width="0.35" stroke-opacity="0.75"/><path d="M-11.00,7.00 L-10.91,4.83 L-10.63,2.70 L-10.16,0.65 L-9.53,-1.30 L-8.73,-3.11 L-7.78,-4.74 L-6.70,-6.17 L-5.50,-7.38 L-4.21,-8.34 L-2.85,-9.03 L-1.44,-9.46 L0.00,-9.60 L1.44,-9.46 L2.85,-9.03 L4.21,-8.34 L5.50,-7.38 L6.70,-6.17 L7.78,-4.74 L8.73,-3.11 L9.53,-1.30 L10.16,0.65 L10.63,2.70 L10.91,4.83 L11.00,7.00 L12.50,17 L-12.50,17 Z" fill="#fad6d6" stroke="#555" stroke-width="0.35" stroke-opacity="0.75"/><path d="M-9.60,7.00 L-9.52,5.25 L-9.27,3.53 L-8.87,1.87 L-8.31,0.30 L-7.62,-1.16 L-6.79,-2.48 L-5.84,-3.63 L-4.80,-4.60 L-3.67,-5.38 L-2.48,-5.94 L-1.25,-6.29 L0.00,-6.40 L1.25,-6.29 L2.48,-5.94 L3.67,-5.38 L4.80,-4.60 L5.84,-3.63 L6.79,-2.48 L7.62,-1.16 L8.31,0.30 L8.87,1.87 L9.27,3.53 L9.52,5.25 L9.60,7.00 L11.50,17 L-11.50,17 Z" fill="#dcdcf8" stroke="#555" stroke-width="0.35" stroke-opacity="0.75"/><path d="M-10.5,12.5 C-8.5,10 -6,8 -3.2,6.2 C-1.6,5 -1.4,1 -0.4,-2.4 C1,-1.8 2.2,0.5 3.4,2.2 C5.5,4.8 8,8.5 9.6,13 L10,16 L-10.5,16 Z" fill="#b8b8f4" stroke="#555" stroke-width="0.35" stroke-opacity="0.75"/></g><circle r="14.9" fill="none" stroke="#444" stroke-width="0.5"/></g>
<rect x="283.65" y="794.1" width="33.3" height="33.5" fill="#fff" stroke="#c0c000" stroke-width="2"/><g transform="translate(300.15,810.85)"><g clip-path="url(#tclip)"><circle r="15.5" fill="#d65050"/><path d="M-16.00,-5.81 L-14.93,-6.30 L-13.87,-7.29 L-12.80,-8.09 L-11.73,-8.32 L-10.67,-8.77 L-9.60,-9.63 L-8.53,-10.04 L-7.47,-10.05 L-6.40,-10.49 L-5.33,-11.11 L-4.27,-11.13 L-3.20,-11.02 L-2.13,-11.43 L-1.07,-11.72 L0.00,-11.41 L1.07,-11.25 L2.13,-11.55 L3.20,-11.45 L4.27,-10.90 L5.33,-10.74 L6.40,-10.82 L7.47,-10.33 L8.53,-9.64 L9.60,-9.44 L10.67,-9.22 L11.73,-8.39 L12.80,-7.62 L13.87,-7.34 L14.93,-6.75 L16.00,-5.64 L16,17 L-16,17 Z" fill="#e27a7a" stroke="#555" stroke-width="0.35" stroke-opacity="0.75"/><path d="M-16.00,-2.74 L-14.93,-3.25 L-13.87,-4.38 L-12.80,-5.27 L-11.73,-5.49 L-10.67,-5.98 L-9.60,-6.96 L-8.53,-7.41 L-7.47,-7.38 L-6.40,-7.88 L-5.33,-8.59 L-4.27,-8.60 L-3.20,-8.45 L-2.13,-8.92 L-1.07,-9.26 L0.00,-8.89 L1.07,-8.71 L2.13,-9.06 L3.20,-8.97 L4.27,-8.32 L5.33,-8.15 L6.40,-8.27 L7.47,-7.73 L8.53,-6.92 L9.60,-6.73 L10.67,-6.52 L11.73,-5.57 L12.80,-4.71 L13.87,-4.44 L14.93,-3.80 L16.00,-2.54 L16,17 L-16,17 Z" fill="#ec9c9c" stroke="#555" stroke-width="0.35" stroke-opacity="0.75"/><path d="M-16.00,0.33 L-14.93,-0.26 L-13.87,-1.45 L-12.80,-2.41 L-11.73,-2.68 L-10.67,-3.23 L-9.60,-4.25 L-8.53,-4.74 L-7.47,-4.76 L-6.40,-5.29 L-5.33,-6.03 L-4.27,-6.06 L-3.20,-5.93 L-2.13,-6.41 L-1.07,-6.76 L0.00,-6.39 L1.07,-6.21 L2.13,-6.55 L3.20,-6.45 L4.27,-5.78 L5.33,-5.58 L6.40,-5.68 L7.47,-5.10 L8.53,-4.26 L9.60,-4.03 L10.67,-3.76 L11.73,-2.76 L12.80,-1.85 L13.87,-1.51 L14.93,-0.80 L16.00,0.53 L16,17 L-16,17 Z" fill="#f5c0c0" stroke="#555" stroke-width="0.35" stroke-opacity="0.75"/><path d="M-16.00,2.76 L-14.93,2.30 L-13.87,1.11 L-12.80,0.18 L-11.73,0.04 L-10.67,-0.44 L-9.60,-1.49 L-8.53,-1.94 L-7.47,-1.84 L-6.40,-2.36 L-5.33,-3.14 L-4.27,-3.11 L-3.20,-2.90 L-2.13,-3.43 L-1.07,-3.81 L0.00,-3.37 L1.07,-3.16 L2.13,-3.59 L3.20,-3.50 L4.27,-2.78 L5.33,-2.62 L6.40,-2.82 L7.47,-2.24 L8.53,-1.38 L9.60,-1.23 L10.67,-1.07 L11.73,-0.06 L12.80,0.83 L13.87,1.04 L14.93,1.66 L16.00,2.99 L16,17 L-16,17 Z" fill="#fbdede" stroke="#555" stroke-width="0.35" stroke-opacity="0.75"/><path d="M-16.00,5.12 L-14.93,4.81 L-13.87,3.76 L-12.80,2.95 L-11.73,2.93 L-10.67,2.56 L-9.60,1.60 L-8.53,1.24 L-7.47,1.42 L-6.40,0.96 L-5.33,0.23 L-4.27,0.31 L-3.20,0.55 L-2.13,0.05 L-1.07,-0.32 L0.00,0.13 L1.07,0.33 L2.13,-0.11 L3.20,-0.05 L4.27,0.63 L5.33,0.75 L6.40,0.50 L7.47,1.01 L8.53,1.80 L9.60,1.86 L10.67,1.93 L11.73,2.83 L12.80,3.61 L13.87,3.69 L14.93,4.17 L16.00,5.35 L16,17 L-16,17 Z" fill="#e0e0fa" stroke="#555" stroke-width="0.35" stroke-opacity="0.75"/><path d="M-16.00,7.04 L-14.93,6.86 L-13.87,5.83 L-12.80,5.07 L-11.73,5.18 L-10.67,4.89 L-9.60,3.92 L-8.53,3.61 L-7.47,3.91 L-6.40,3.47 L-5.33,2.71 L-4.27,2.86 L-3.20,3.18 L-2.13,2.64 L-1.07,2.23 L0.00,2.74 L1.07,2.97 L2.13,2.44 L3.20,2.49 L4.27,3.22 L5.33,3.30 L6.40,2.95 L7.47,3.45 L8.53,4.26 L9.60,4.21 L10.67,4.17 L11.73,5.07 L12.80,5.82 L13.87,5.75 L14.93,6.14 L16.00,7.31 L16,17 L-16,17 Z" fill="#c2c2f4" stroke="#555" stroke-width="0.35" stroke-opacity="0.75"/><path d="M-16.00,8.93 L-14.93,9.07 L-13.87,7.90 L-12.80,7.10 L-11.73,7.59 L-10.67,7.45 L-9.60,6.25 L-8.53,6.03 L-7.47,6.68 L-6.40,6.20 L-5.33,5.22 L-4.27,5.56 L-3.20,6.14 L-2.13,5.40 L-1.07,4.83 L0.00,5.62 L1.07,5.94 L2.13,5.11 L3.20,5.10 L4.27,6.11 L5.33,6.11 L6.40,5.42 L7.47,5.99 L8.53,6.99 L9.60,6.69 L10.67,6.37 L11.73,7.43 L12.80,8.22 L13.87,7.77 L14.93,7.98 L16.00,9.33 L16,17 L-16,17 Z" fill="#9e9eee" stroke="#555" stroke-width="0.35" stroke-opacity="0.75"/></g><circle r="14.9" fill="none" stroke="#444" stroke-width="0.5"/></g>
<rect x="396.1" y="794.1" width="33.3" height="33.5" fill="#fff" stroke="#0000ff" stroke-width="2"/><g transform="translate(412.6,810.85)"><g clip-path="url(#tclip)"><circle r="15.5" fill="#5252ce"/><ellipse cx="2.2" cy="3.0" rx="14.8" ry="14.4" fill="#6c6cd8" stroke="#555" stroke-width="0.35" stroke-opacity="0.75"/><ellipse cx="3.0" cy="4.5" rx="13.8" ry="13.4" fill="#8686e0" stroke="#555" stroke-width="0.35" stroke-opacity="0.75"/><ellipse cx="3.2" cy="6.0" rx="12.8" ry="12.4" fill="#a0a0e8" stroke="#555" stroke-width="0.35" stroke-opacity="0.75"/><ellipse cx="2.8" cy="7.5" rx="12.0" ry="11.6" fill="#bcbcf2" stroke="#555" stroke-width="0.35" stroke-opacity="0.75"/><ellipse cx="2.2" cy="9.0" rx="11.6" ry="11.0" fill="#d8d8f8" stroke="#555" stroke-width="0.35" stroke-opacity="0.75"/><path d="M-8.0,8 C-8.0,1 -4.5,-4.5 1.5,-4.8 C7,-5 10.5,0 10.5,7 C10.5,13 6.5,17 1.5,17 C-3.5,17 -8.0,14 -8.0,8 Z" fill="#fadcdc" stroke="#555" stroke-width="0.35" stroke-opacity="0.75"/><path d="M-5.6,7.2 C-5.6,2 -2.6,-2 1.4,-2.2 C5.4,-2.4 7.4,2 7.4,7 C7.4,11 5,13.4 1.4,13.4 C-2.6,13.4 -5.6,11 -5.6,7.2 Z" fill="#f8c0c0" stroke="#555" stroke-width="0.35" stroke-opacity="0.75"/><path d="M-4.8,7.5 C-4.8,5.3 -2.4,4.6 -0.2,4.8 C1.4,3.4 4.2,3 5.3,4.8 C6.6,6.6 6,9.6 4.4,10.4 C2.4,11.3 -0.6,11.1 -2.8,10.5 C-4.3,10 -4.8,9 -4.8,7.5 Z" fill="#f49494" stroke="#555" stroke-width="0.35" stroke-opacity="0.75"/></g><circle r="14.9" fill="none" stroke="#444" stroke-width="0.5"/></g>
<rect x="444.75" y="794.1" width="33.3" height="33.5" fill="#fff" stroke="#008000" stroke-width="2"/><g transform="translate(461.25,810.85)"><g clip-path="url(#tclip)"><circle r="15.5" fill="#fbe2e2"/><path d="M-16.00,1.90 L-14.93,1.83 L-13.87,1.27 L-12.80,0.70 L-11.73,0.65 L-10.67,0.89 L-9.60,0.81 L-8.53,0.29 L-7.47,-0.13 L-6.40,-0.02 L-5.33,0.30 L-4.27,0.21 L-3.20,-0.26 L-2.13,-0.51 L-1.07,-0.24 L0.00,0.12 L1.07,0.03 L2.13,-0.37 L3.20,-0.45 L4.27,-0.04 L5.33,0.36 L6.40,0.27 L7.47,-0.04 L8.53,0.05 L9.60,0.59 L10.67,1.01 L11.73,0.93 L12.80,0.74 L13.87,1.00 L14.93,1.65 L16.00,2.07 L16,-17 L-16,-17 Z" fill="#d4d4f8" stroke="#555" stroke-width="0.35" stroke-opacity="0.75"/><path d="M-16.00,-1.67 L-14.93,-1.67 L-13.87,-2.16 L-12.80,-2.66 L-11.73,-2.66 L-10.67,-2.36 L-9.60,-2.39 L-8.53,-2.87 L-7.47,-3.25 L-6.40,-3.11 L-5.33,-2.77 L-4.27,-2.83 L-3.20,-3.28 L-2.13,-3.52 L-1.07,-3.25 L0.00,-2.88 L1.07,-2.97 L2.13,-3.38 L3.20,-3.48 L4.27,-3.08 L5.33,-2.71 L6.40,-2.82 L7.47,-3.16 L8.53,-3.11 L9.60,-2.61 L10.67,-2.24 L11.73,-2.38 L12.80,-2.63 L13.87,-2.43 L14.93,-1.84 L16.00,-1.49 L16,-17 L-16,-17 Z" fill="#b6b6f0" stroke="#555" stroke-width="0.35" stroke-opacity="0.75"/><path d="M-16.00,-4.69 L-14.93,-4.72 L-13.87,-5.16 L-12.80,-5.61 L-11.73,-5.63 L-10.67,-5.40 L-9.60,-5.44 L-8.53,-5.86 L-7.47,-6.20 L-6.40,-6.09 L-5.33,-5.81 L-4.27,-5.87 L-3.20,-6.26 L-2.13,-6.47 L-1.07,-6.24 L0.00,-5.93 L1.07,-6.00 L2.13,-6.35 L3.20,-6.43 L4.27,-6.08 L5.33,-5.75 L6.40,-5.84 L7.47,-6.12 L8.53,-6.07 L9.60,-5.62 L10.67,-5.29 L11.73,-5.39 L12.80,-5.59 L13.87,-5.39 L14.93,-4.87 L16.00,-4.54 L16,-17 L-16,-17 Z" fill="#9898e8" stroke="#555" stroke-width="0.35" stroke-opacity="0.75"/><path d="M-16.00,-7.72 L-14.93,-7.72 L-13.87,-8.13 L-12.80,-8.56 L-11.73,-8.55 L-10.67,-8.30 L-9.60,-8.32 L-8.53,-8.73 L-7.47,-9.05 L-6.40,-8.93 L-5.33,-8.63 L-4.27,-8.68 L-3.20,-9.07 L-2.13,-9.28 L-1.07,-9.04 L0.00,-8.73 L1.07,-8.80 L2.13,-9.15 L3.20,-9.24 L4.27,-8.90 L5.33,-8.58 L6.40,-8.68 L7.47,-8.97 L8.53,-8.93 L9.60,-8.51 L10.67,-8.19 L11.73,-8.31 L12.80,-8.53 L13.87,-8.36 L14.93,-7.86 L16.00,-7.57 L16,-17 L-16,-17 Z" fill="#7c7ce0" stroke="#555" stroke-width="0.35" stroke-opacity="0.75"/><path d="M-16.00,-10.82 L-14.93,-10.81 L-13.87,-11.08 L-12.80,-11.35 L-11.73,-11.34 L-10.67,-11.17 L-9.60,-11.17 L-8.53,-11.44 L-7.47,-11.65 L-6.40,-11.56 L-5.33,-11.36 L-4.27,-11.39 L-3.20,-11.65 L-2.13,-11.79 L-1.07,-11.63 L0.00,-11.42 L1.07,-11.47 L2.13,-11.70 L3.20,-11.76 L4.27,-11.54 L5.33,-11.33 L6.40,-11.40 L7.47,-11.60 L8.53,-11.58 L9.60,-11.30 L10.67,-11.10 L11.73,-11.18 L12.80,-11.34 L13.87,-11.23 L14.93,-10.91 L16.00,-10.72 L16,-17 L-16,-17 Z" fill="#6060d6" stroke="#555" stroke-width="0.35" stroke-opacity="0.75"/><path d="M-9,7 C-9,3.5 -4,1.8 1,1.8 C6,1.8 10.5,3.5 10.5,7 C10.5,11 6,13 1,13 C-4,13 -9,11 -9,7 Z" fill="#f8c6c6" stroke="#555" stroke-width="0.35" stroke-opacity="0.75"/><path d="M-4.8,6.3 C-4.5,5 -2,5.2 0,5.5 C2,5 4.5,4.6 5.5,5.5 C6,6.8 3.5,7.3 1.5,7.2 C1,8.5 0.3,9.2 -0.5,8.6 C-1,7.6 -2.5,7.4 -4,7.3 C-4.8,7.1 -5,6.8 -4.8,6.3 Z" fill="#f09090" stroke="#555" stroke-width="0.35" stroke-opacity="0.75"/></g><circle r="14.9" fill="none" stroke="#444" stroke-width="0.5"/></g>
<rect x="493.40000000000003" y="794.1" width="33.3" height="33.5" fill="#fff" stroke="#ff0000" stroke-width="2"/><g transform="translate(509.90000000000003,810.85)"><g clip-path="url(#tclip)"><circle r="15.5" fill="#fbe6e6"/><path d="M-13,4 C-9,3.5 -5,5.5 -2,6.5 C1,7.5 4,6 7,6.8 C10,7.6 12,8 14,9.5 L14,12 C9,10.5 4,11 0,11.5 C-5,12 -10,11 -13,9 Z" fill="#f8c8c8" stroke="#555" stroke-width="0.35" stroke-opacity="0.75"/><ellipse cx="12.8" cy="0.0" rx="4.0" ry="6.0" fill="#f8caca" stroke="#555" stroke-width="0.35" stroke-opacity="0.75"/><ellipse cx="13.6" cy="0.0" rx="3.0" ry="5.0" fill="#f4a4a4" stroke="#555" stroke-width="0.35" stroke-opacity="0.75"/><ellipse cx="-15.2" cy="-0.5" rx="6.4" ry="11.0" fill="#f2b4b4" stroke="#555" stroke-width="0.35" stroke-opacity="0.75"/><ellipse cx="-15.8" cy="-0.5" rx="5.6" ry="10.0" fill="#e88c8c" stroke="#555" stroke-width="0.35" stroke-opacity="0.75"/><ellipse cx="-16.4" cy="-0.5" rx="5.0" ry="9.0" fill="#dc6464" stroke="#555" stroke-width="0.35" stroke-opacity="0.75"/><path d="M-8.8,-16 L-8.3,-13.9 C-8.2,-10 -8,-6 -7.2,-2.3 C-6.8,0.5 -6.4,2.2 -4.5,3.2 C-2,3.8 1,3.3 3.3,2.2 C4.5,1 5,-0.6 5.8,-3 C6.5,-5.5 7.5,-8.5 8.9,-12.2 L10,-16 Z" fill="#d4d4f8" stroke="#555" stroke-width="0.35" stroke-opacity="0.75"/><path d="M-7.6,-16 C-7,-12 -5.5,-9.5 -3.5,-7.2 C-2.6,-6 -2.3,-4 -2.1,-2.3 C-1.8,-1.1 0,-0.9 0.8,-1.4 C1.3,-3 1.6,-5 2.6,-7.4 C3.6,-9.2 5.5,-10.8 7.6,-13.6 L8.5,-16 Z" fill="#b2b2f0" stroke="#555" stroke-width="0.35" stroke-opacity="0.75"/><path d="M-4,-16 C-3.5,-13 -2,-11 -1.3,-8.5 C-1,-6.5 0.6,-6.5 0.9,-8.5 C1.4,-11 3,-13 4,-16 Z" fill="#9494ea" stroke="#555" stroke-width="0.35" stroke-opacity="0.75"/><ellipse cx="0" cy="-15.0" rx="5.0" ry="2.4" fill="#7676e0" stroke="#555" stroke-width="0.35" stroke-opacity="0.75"/><ellipse cx="0" cy="15.6" rx="11.5" ry="4.3" fill="#c6c6f2" stroke="#555" stroke-width="0.35" stroke-opacity="0.75"/></g><circle r="14.9" fill="none" stroke="#444" stroke-width="0.5"/></g>
<rect x="542.05" y="794.1" width="33.3" height="33.5" fill="#fff" stroke="#00c0c0" stroke-width="2"/><g transform="translate(558.55,810.85)"><g clip-path="url(#tclip)"><circle r="15.5" fill="#dc5a5a"/><path d="M-13.60,3.00 L-13.48,0.39 L-13.14,-2.18 L-12.56,-4.65 L-11.78,-7.00 L-10.79,-9.18 L-9.62,-11.14 L-8.28,-12.87 L-6.80,-14.32 L-5.20,-15.48 L-3.52,-16.32 L-1.78,-16.83 L0.00,-17.00 L1.78,-16.83 L3.52,-16.32 L5.20,-15.48 L6.80,-14.32 L8.28,-12.87 L9.62,-11.14 L10.79,-9.18 L11.78,-7.00 L12.56,-4.65 L13.14,-2.18 L13.48,0.39 L13.60,3.00 L15.50,17 L-15.50,17 Z" fill="#e68080" stroke="#555" stroke-width="0.35" stroke-opacity="0.75"/><path d="M-12.00,3.00 L-11.90,0.57 L-11.59,-1.81 L-11.09,-4.12 L-10.39,-6.30 L-9.52,-8.32 L-8.49,-10.15 L-7.31,-11.76 L-6.00,-13.11 L-4.59,-14.18 L-3.11,-14.97 L-1.57,-15.44 L0.00,-15.60 L1.57,-15.44 L3.11,-14.97 L4.59,-14.18 L6.00,-13.11 L7.31,-11.76 L8.49,-10.15 L9.52,-8.32 L10.39,-6.30 L11.09,-4.12 L11.59,-1.81 L11.90,0.57 L12.00,3.00 L14.00,17 L-14.00,17 Z" fill="#efa2a2" stroke="#555" stroke-width="0.35" stroke-opacity="0.75"/><path d="M-10.60,3.00 L-10.51,0.75 L-10.24,-1.45 L-9.79,-3.58 L-9.18,-5.60 L-8.41,-7.47 L-7.50,-9.16 L-6.45,-10.65 L-5.30,-11.90 L-4.06,-12.89 L-2.74,-13.61 L-1.38,-14.05 L0.00,-14.20 L1.38,-14.05 L2.74,-13.61 L4.06,-12.89 L5.30,-11.90 L6.45,-10.65 L7.50,-9.16 L8.41,-7.47 L9.18,-5.60 L9.79,-3.58 L10.24,-1.45 L10.51,0.75 L10.60,3.00 L12.60,17 L-12.60,17 Z" fill="#f6c4c4" stroke="#555" stroke-width="0.35" stroke-opacity="0.75"/><path d="M-9.20,3.00 L-9.12,0.94 L-8.89,-1.09 L-8.50,-3.05 L-7.97,-4.90 L-7.30,-6.62 L-6.51,-8.17 L-5.60,-9.53 L-4.60,-10.68 L-3.52,-11.60 L-2.38,-12.26 L-1.20,-12.66 L0.00,-12.80 L1.20,-12.66 L2.38,-12.26 L3.52,-11.60 L4.60,-10.68 L5.60,-9.53 L6.51,-8.17 L7.30,-6.62 L7.97,-4.90 L8.50,-3.05 L8.89,-1.09 L9.12,0.94 L9.20,3.00 L11.20,17 L-11.20,17 Z" fill="#fbe0e0" stroke="#555" stroke-width="0.35" stroke-opacity="0.75"/><path d="M-7.20,2.00 L-7.14,0.25 L-6.95,-1.47 L-6.65,-3.13 L-6.24,-4.70 L-5.71,-6.16 L-5.09,-7.48 L-4.38,-8.63 L-3.60,-9.60 L-2.76,-10.38 L-1.86,-10.94 L-0.94,-11.29 L0.00,-11.40 L0.94,-11.29 L1.86,-10.94 L2.76,-10.38 L3.60,-9.60 L4.38,-8.63 L5.09,-7.48 L5.71,-6.16 L6.24,-4.70 L6.65,-3.13 L6.95,-1.47 L7.14,0.25 L7.20,2.00 L9.60,17 L-9.60,17 Z" fill="#dcdcf8" stroke="#555" stroke-width="0.35" stroke-opacity="0.75"/><path d="M-4,-2 C-4,-5.5 -2,-7 0.5,-7 C3,-7 4.2,-5.5 4.2,-2 C4.2,2 3,4.5 0.5,4.5 C-2,4.5 -4,2 -4,-2 Z" fill="#b2b2f2" stroke="#555" stroke-width="0.35" stroke-opacity="0.75"/><ellipse cx="0.2" cy="-1.8" rx="1.7" ry="2.2" fill="#8686e4" stroke="#555" stroke-width="0.35" stroke-opacity="0.75"/><path d="M0,12 C0,9.5 2.5,8.5 4.5,8.8 C6.5,9.2 7,11 6.5,13 L6,16 L0,16 Z" fill="#b2b2f2" stroke="#555" stroke-width="0.35" stroke-opacity="0.75"/></g><circle r="14.9" fill="none" stroke="#444" stroke-width="0.5"/></g>
<rect x="590.7" y="794.1" width="33.3" height="33.5" fill="#fff" stroke="#c000c0" stroke-width="2"/><g transform="translate(607.2,810.85)"><g clip-path="url(#tclip)"><circle r="15.5" fill="#d45454"/><path d="M-14.20,4.00 L-14.08,1.31 L-13.72,-1.33 L-13.12,-3.88 L-12.30,-6.30 L-11.27,-8.54 L-10.04,-10.57 L-8.64,-12.34 L-7.10,-13.84 L-5.43,-15.03 L-3.68,-15.90 L-1.85,-16.42 L0.00,-16.60 L1.85,-16.42 L3.68,-15.90 L5.43,-15.03 L7.10,-13.84 L8.64,-12.34 L10.04,-10.57 L11.27,-8.54 L12.30,-6.30 L13.12,-3.88 L13.72,-1.33 L14.08,1.31 L14.20,4.00 L15.50,17 L-15.50,17 Z" fill="#e07c7c" stroke="#555" stroke-width="0.35" stroke-opacity="0.75"/><path d="M-13.00,5.00 L-12.89,2.47 L-12.56,-0.02 L-12.01,-2.42 L-11.26,-4.70 L-10.31,-6.81 L-9.19,-8.72 L-7.91,-10.39 L-6.50,-11.80 L-4.97,-12.92 L-3.36,-13.74 L-1.70,-14.23 L0.00,-14.40 L1.70,-14.23 L3.36,-13.74 L4.97,-12.92 L6.50,-11.80 L7.91,-10.39 L9.19,-8.72 L10.31,-6.81 L11.26,-4.70 L12.01,-2.42 L12.56,-0.02 L12.89,2.47 L13.00,5.00 L14.50,17 L-14.50,17 Z" fill="#ea9e9e" stroke="#555" stroke-width="0.35" stroke-opacity="0.75"/><path d="M-12.00,6.00 L-11.90,3.65 L-11.59,1.34 L-11.09,-0.89 L-10.39,-3.00 L-9.52,-4.96 L-8.49,-6.73 L-7.31,-8.28 L-6.00,-9.59 L-4.59,-10.63 L-3.11,-11.39 L-1.57,-11.85 L0.00,-12.00 L1.57,-11.85 L3.11,-11.39 L4.59,-10.63 L6.00,-9.59 L7.31,-8.28 L8.49,-6.73 L9.52,-4.96 L10.39,-3.00 L11.09,-0.89 L11.59,1.34 L11.90,3.65 L12.00,6.00 L13.50,17 L-13.50,17 Z" fill="#f3bcbc" stroke="#555" stroke-width="0.35" stroke-opacity="0.75"/><path d="M-11.00,7.00 L-10.91,4.83 L-10.63,2.70 L-10.16,0.65 L-9.53,-1.30 L-8.73,-3.11 L-7.78,-4.74 L-6.70,-6.17 L-5.50,-7.38 L-4.21,-8.34 L-2.85,-9.03 L-1.44,-9.46 L0.00,-9.60 L1.44,-9.46 L2.85,-9.03 L4.21,-8.34 L5.50,-7.38 L6.70,-6.17 L7.78,-4.74 L8.73,-3.11 L9.53,-1.30 L10.16,0.65 L10.63,2.70 L10.91,4.83 L11.00,7.00 L12.50,17 L-12.50,17 Z" fill="#fad6d6" stroke="#555" stroke-width="0.35" stroke-opacity="0.75"/><path d="M-9.60,7.00 L-9.52,5.25 L-9.27,3.53 L-8.87,1.87 L-8.31,0.30 L-7.62,-1.16 L-6.79,-2.48 L-5.84,-3.63 L-4.80,-4.60 L-3.67,-5.38 L-2.48,-5.94 L-1.25,-6.29 L0.00,-6.40 L1.25,-6.29 L2.48,-5.94 L3.67,-5.38 L4.80,-4.60 L5.84,-3.63 L6.79,-2.48 L7.62,-1.16 L8.31,0.30 L8.87,1.87 L9.27,3.53 L9.52,5.25 L9.60,7.00 L11.50,17 L-11.50,17 Z" fill="#dcdcf8" stroke="#555" stroke-width="0.35" stroke-opacity="0.75"/><path d="M-10.5,12.5 C-8.5,10 -6,8 -3.2,6.2 C-1.6,5 -1.4,1 -0.4,-2.4 C1,-1.8 2.2,0.5 3.4,2.2 C5.5,4.8 8,8.5 9.6,13 L10,16 L-10.5,16 Z" fill="#b8b8f4" stroke="#555" stroke-width="0.35" stroke-opacity="0.75"/></g><circle r="14.9" fill="none" stroke="#444" stroke-width="0.5"/></g>
<rect x="639.35" y="794.1" width="33.3" height="33.5" fill="#fff" stroke="#c0c000" stroke-width="2"/><g transform="translate(655.85,810.85)"><g clip-path="url(#tclip)"><circle r="15.5" fill="#d65050"/><path d="M-16.00,-5.81 L-14.93,-6.30 L-13.87,-7.29 L-12.80,-8.09 L-11.73,-8.32 L-10.67,-8.77 L-9.60,-9.63 L-8.53,-10.04 L-7.47,-10.05 L-6.40,-10.49 L-5.33,-11.11 L-4.27,-11.13 L-3.20,-11.02 L-2.13,-11.43 L-1.07,-11.72 L0.00,-11.41 L1.07,-11.25 L2.13,-11.55 L3.20,-11.45 L4.27,-10.90 L5.33,-10.74 L6.40,-10.82 L7.47,-10.33 L8.53,-9.64 L9.60,-9.44 L10.67,-9.22 L11.73,-8.39 L12.80,-7.62 L13.87,-7.34 L14.93,-6.75 L16.00,-5.64 L16,17 L-16,17 Z" fill="#e27a7a" stroke="#555" stroke-width="0.35" stroke-opacity="0.75"/><path d="M-16.00,-2.74 L-14.93,-3.25 L-13.87,-4.38 L-12.80,-5.27 L-11.73,-5.49 L-10.67,-5.98 L-9.60,-6.96 L-8.53,-7.41 L-7.47,-7.38 L-6.40,-7.88 L-5.33,-8.59 L-4.27,-8.60 L-3.20,-8.45 L-2.13,-8.92 L-1.07,-9.26 L0.00,-8.89 L1.07,-8.71 L2.13,-9.06 L3.20,-8.97 L4.27,-8.32 L5.33,-8.15 L6.40,-8.27 L7.47,-7.73 L8.53,-6.92 L9.60,-6.73 L10.67,-6.52 L11.73,-5.57 L12.80,-4.71 L13.87,-4.44 L14.93,-3.80 L16.00,-2.54 L16,17 L-16,17 Z" fill="#ec9c9c" stroke="#555" stroke-width="0.35" stroke-opacity="0.75"/><path d="M-16.00,0.33 L-14.93,-0.26 L-13.87,-1.45 L-12.80,-2.41 L-11.73,-2.68 L-10.67,-3.23 L-9.60,-4.25 L-8.53,-4.74 L-7.47,-4.76 L-6.40,-5.29 L-5.33,-6.03 L-4.27,-6.06 L-3.20,-5.93 L-2.13,-6.41 L-1.07,-6.76 L0.00,-6.39 L1.07,-6.21 L2.13,-6.55 L3.20,-6.45 L4.27,-5.78 L5.33,-5.58 L6.40,-5.68 L7.47,-5.10 L8.53,-4.26 L9.60,-4.03 L10.67,-3.76 L11.73,-2.76 L12.80,-1.85 L13.87,-1.51 L14.93,-0.80 L16.00,0.53 L16,17 L-16,17 Z" fill="#f5c0c0" stroke="#555" stroke-width="0.35" stroke-opacity="0.75"/><path d="M-16.00,2.76 L-14.93,2.30 L-13.87,1.11 L-12.80,0.18 L-11.73,0.04 L-10.67,-0.44 L-9.60,-1.49 L-8.53,-1.94 L-7.47,-1.84 L-6.40,-2.36 L-5.33,-3.14 L-4.27,-3.11 L-3.20,-2.90 L-2.13,-3.43 L-1.07,-3.81 L0.00,-3.37 L1.07,-3.16 L2.13,-3.59 L3.20,-3.50 L4.27,-2.78 L5.33,-2.62 L6.40,-2.82 L7.47,-2.24 L8.53,-1.38 L9.60,-1.23 L10.67,-1.07 L11.73,-0.06 L12.80,0.83 L13.87,1.04 L14.93,1.66 L16.00,2.99 L16,17 L-16,17 Z" fill="#fbdede" stroke="#555" stroke-width="0.35" stroke-opacity="0.75"/><path d="M-16.00,5.12 L-14.93,4.81 L-13.87,3.76 L-12.80,2.95 L-11.73,2.93 L-10.67,2.56 L-9.60,1.60 L-8.53,1.24 L-7.47,1.42 L-6.40,0.96 L-5.33,0.23 L-4.27,0.31 L-3.20,0.55 L-2.13,0.05 L-1.07,-0.32 L0.00,0.13 L1.07,0.33 L2.13,-0.11 L3.20,-0.05 L4.27,0.63 L5.33,0.75 L6.40,0.50 L7.47,1.01 L8.53,1.80 L9.60,1.86 L10.67,1.93 L11.73,2.83 L12.80,3.61 L13.87,3.69 L14.93,4.17 L16.00,5.35 L16,17 L-16,17 Z" fill="#e0e0fa" stroke="#555" stroke-width="0.35" stroke-opacity="0.75"/><path d="M-16.00,7.04 L-14.93,6.86 L-13.87,5.83 L-12.80,5.07 L-11.73,5.18 L-10.67,4.89 L-9.60,3.92 L-8.53,3.61 L-7.47,3.91 L-6.40,3.47 L-5.33,2.71 L-4.27,2.86 L-3.20,3.18 L-2.13,2.64 L-1.07,2.23 L0.00,2.74 L1.07,2.97 L2.13,2.44 L3.20,2.49 L4.27,3.22 L5.33,3.30 L6.40,2.95 L7.47,3.45 L8.53,4.26 L9.60,4.21 L10.67,4.17 L11.73,5.07 L12.80,5.82 L13.87,5.75 L14.93,6.14 L16.00,7.31 L16,17 L-16,17 Z" fill="#c2c2f4" stroke="#555" stroke-width="0.35" stroke-opacity="0.75"/><path d="M-16.00,8.93 L-14.93,9.07 L-13.87,7.90 L-12.80,7.10 L-11.73,7.59 L-10.67,7.45 L-9.60,6.25 L-8.53,6.03 L-7.47,6.68 L-6.40,6.20 L-5.33,5.22 L-4.27,5.56 L-3.20,6.14 L-2.13,5.40 L-1.07,4.83 L0.00,5.62 L1.07,5.94 L2.13,5.11 L3.20,5.10 L4.27,6.11 L5.33,6.11 L6.40,5.42 L7.47,5.99 L8.53,6.99 L9.60,6.69 L10.67,6.37 L11.73,7.43 L12.80,8.22 L13.87,7.77 L14.93,7.98 L16.00,9.33 L16,17 L-16,17 Z" fill="#9e9eee" stroke="#555" stroke-width="0.35" stroke-opacity="0.75"/></g><circle r="14.9" fill="none" stroke="#444" stroke-width="0.5"/></g>
</svg>
</body></html>
